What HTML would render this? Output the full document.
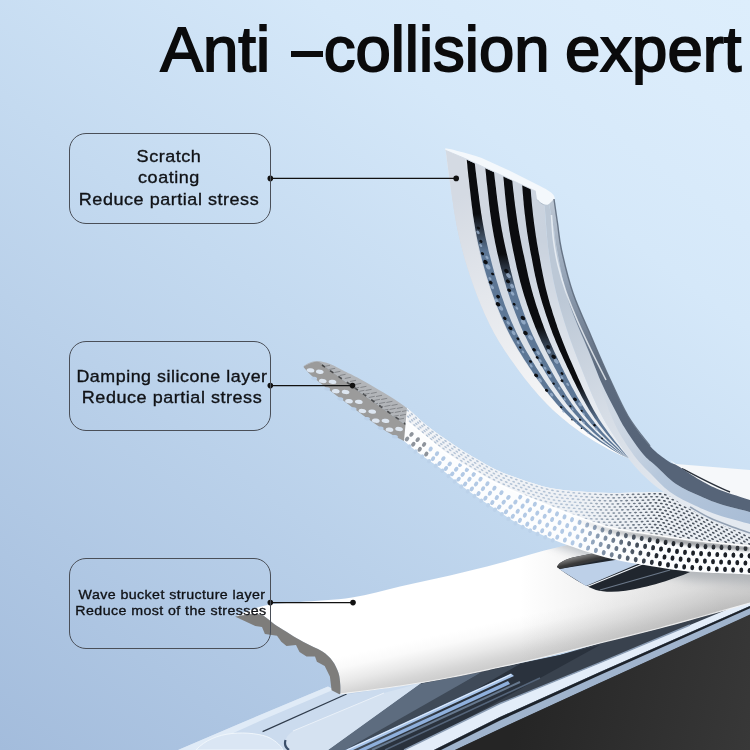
<!DOCTYPE html>
<html><head><meta charset="utf-8">
<style>
html,body{margin:0;padding:0;width:750px;height:750px;overflow:hidden;background:#c4d9f0;}
body{font-family:"Liberation Sans",sans-serif;color:#111;position:relative;}
#art{position:absolute;left:0;top:0;width:750px;height:750px;}
.title{position:absolute;top:-0.8px;font-size:63.5px;line-height:100px;white-space:nowrap;color:#0b0b0c;-webkit-text-stroke:1.8px #0b0b0c;}
.box{position:absolute;left:69px;width:200px;border:1px solid #4a4f58;border-radius:17px;box-sizing:content-box;}
.lbl{position:absolute;text-align:center;white-space:nowrap;color:#101216;-webkit-text-stroke:0.35px #101216;}
</style></head>
<body>
<svg id="art" width="750" height="750" viewBox="0 0 750 750">
<defs>
<linearGradient id="bg" gradientUnits="userSpaceOnUse" x1="0" y1="750" x2="630" y2="-90">
<stop offset="0" stop-color="#a3bcdc"/>
<stop offset="0.5" stop-color="#c4daf0"/>
<stop offset="0.75" stop-color="#d5e8f9"/>
<stop offset="0.9" stop-color="#dbecfb"/>
<stop offset="1" stop-color="#ddeefc"/>
</linearGradient>
<!--DEFS-->
<linearGradient id="blk" gradientUnits="userSpaceOnUse" x1="520" y1="700" x2="750" y2="750"><stop offset="0" stop-color="#252525"/><stop offset="1" stop-color="#383838"/></linearGradient>
<linearGradient id="slabg" gradientUnits="userSpaceOnUse" x1="490.2" y1="623" x2="500" y2="667"><stop offset="0" stop-color="#ffffff"/><stop offset="0.25" stop-color="#fafafa"/><stop offset="0.55" stop-color="#e9e9e9"/><stop offset="0.8" stop-color="#d6d6d6"/><stop offset="1" stop-color="#cbcbcb"/></linearGradient>
<clipPath id="slabclip"><path d="M235.4,616.5C238.2,615.3 246.2,611.5 252,609.5C257.8,607.5 262,605.8 270,604.5C278,603.2 286.3,603.2 300,602C313.7,600.8 335.3,600.1 352,597.5C368.7,594.9 383.7,590.2 400,586.5C416.3,582.8 433.3,579.4 450,575.5C466.7,571.6 482.2,567.7 500,563C517.8,558.3 537,552 557,547.5C577,543 597.8,537.2 620,536C642.2,534.8 668.3,537.3 690,540C711.7,542.7 740,550 750,552L750,603L750,603C741.7,605.3 715,612.8 700,617C685,621.2 676.7,623.7 660,628C643.3,632.3 620,638 600,643C580,648 556.7,654 540,658C523.3,662 515,663.8 500,667C485,670.2 466.7,674.3 450,677.5C433.3,680.7 418.3,683.2 400,686C381.7,688.8 350,692.7 340,694L340,694L340.3,693.8C340.3,692.3 340.6,688.5 340.3,685C340,681.5 339.8,677 338.5,673C337.2,669 335.2,664.5 332.5,660.9C329.8,657.3 326.9,654.5 322,651.3C317.1,648.1 310.5,646 303,641.8C295.5,637.6 284.2,630.5 277,626C269.8,621.5 266.6,616.1 259.7,614.5C252.8,612.9 239.4,616.2 235.4,616.5Z"/></clipPath>
<filter id="b5" x="-20%" y="-50%" width="140%" height="200%"><feGaussianBlur stdDeviation="5"/></filter>
<linearGradient id="slabr" gradientUnits="userSpaceOnUse" x1="520" y1="0" x2="720" y2="0"><stop offset="0" stop-color="#8f8f8f" stop-opacity="0"/><stop offset="1" stop-color="#8f8f8f" stop-opacity="0.33"/></linearGradient>
<linearGradient id="slabg2" gradientUnits="userSpaceOnUse" x1="330" y1="650" x2="345" y2="694"><stop offset="0" stop-color="#ffffff" stop-opacity="0"/><stop offset="1" stop-color="#cfcfcf" stop-opacity="0.9"/></linearGradient>
<linearGradient id="slotsh" gradientUnits="userSpaceOnUse" x1="575" y1="555" x2="578" y2="568"><stop offset="0" stop-color="#9a9a9a"/><stop offset="0.6" stop-color="#3a3a3a"/><stop offset="1" stop-color="#2a2f36"/></linearGradient>
<clipPath id="m1top"><path d="M303.7,366C304.8,365.4 307.7,363.3 310,362.5C312.3,361.7 314.2,360.8 317.5,361C320.8,361.2 325.4,362.2 330,364C334.6,365.8 340,369 345,371.5C350,374 352.5,374.8 360,379C367.5,383.2 382.2,391.7 390,396.5C397.8,401.3 404.2,406.1 407,408L407.7,426.3L407.7,426.3C403.1,423 389.6,413.4 380,406.5C370.4,399.6 358.3,391 350,385C341.7,379 335.4,374.2 330,370.3C324.6,366.4 321.9,362.1 317.5,361.5C313.1,360.9 306,365.6 303.7,366.4Z"/></clipPath>
<linearGradient id="meshtop" gradientUnits="userSpaceOnUse" x1="420" y1="0" x2="750" y2="0"><stop offset="0" stop-color="#f2f4f7"/><stop offset="0.5" stop-color="#eef1f5"/><stop offset="1" stop-color="#e9edf2"/></linearGradient>
<linearGradient id="dkm" gradientUnits="userSpaceOnUse" x1="575" y1="0" x2="660" y2="0"><stop offset="0" stop-color="#fff" stop-opacity="0"/><stop offset="1" stop-color="#fff" stop-opacity="1"/></linearGradient>
<mask id="dkmask" maskUnits="userSpaceOnUse" x="0" y="0" width="750" height="750"><rect width="750" height="750" fill="url(#dkm)"/></mask>
<filter id="b15" x="-10%" y="-100%" width="120%" height="300%"><feGaussianBlur stdDeviation="1.6"/></filter>
<clipPath id="faceclip"><path d="M440,148L445.3,150L536,191L538,200L547,206L560,215L760,520L400,520Z"/></clipPath>
<linearGradient id="faceg" gradientUnits="userSpaceOnUse" x1="445" y1="170" x2="545" y2="228"><stop offset="0" stop-color="#eef1f5"/><stop offset="0.2" stop-color="#d3d9e2"/><stop offset="0.5" stop-color="#d0d7e1"/><stop offset="1" stop-color="#c9d2de"/></linearGradient>
<linearGradient id="leftg" gradientUnits="userSpaceOnUse" x1="455" y1="200" x2="600" y2="440"><stop offset="0" stop-color="#d4dae3"/><stop offset="0.35" stop-color="#e4e7ec"/><stop offset="0.7" stop-color="#f1f2f4"/><stop offset="1" stop-color="#fdfdfd"/></linearGradient>
<linearGradient id="facew" gradientUnits="userSpaceOnUse" x1="0" y1="240" x2="0" y2="420"><stop offset="0" stop-color="#fff" stop-opacity="0"/><stop offset="1" stop-color="#fff" stop-opacity="0.6"/></linearGradient>
<linearGradient id="st0" gradientUnits="userSpaceOnUse" x1="0" y1="214" x2="0" y2="252"><stop offset="0" stop-color="#0b0c0f"/><stop offset="1" stop-color="#5d7796"/></linearGradient>
<linearGradient id="st1" gradientUnits="userSpaceOnUse" x1="0" y1="254" x2="0" y2="292"><stop offset="0" stop-color="#0b0c0f"/><stop offset="1" stop-color="#5d7796"/></linearGradient>
<linearGradient id="st2" gradientUnits="userSpaceOnUse" x1="0" y1="327" x2="0" y2="365"><stop offset="0" stop-color="#0b0c0f"/><stop offset="1" stop-color="#5d7796"/></linearGradient>
<linearGradient id="st3" gradientUnits="userSpaceOnUse" x1="0" y1="384" x2="0" y2="422"><stop offset="0" stop-color="#0b0c0f"/><stop offset="1" stop-color="#5d7796"/></linearGradient>
<linearGradient id="silv" gradientUnits="userSpaceOnUse" x1="560" y1="300" x2="700" y2="500"><stop offset="0" stop-color="#bcc8d6"/><stop offset="0.5" stop-color="#d6dde6"/><stop offset="1" stop-color="#e4e9f0"/></linearGradient>
<linearGradient id="sub" gradientUnits="userSpaceOnUse" x1="600" y1="390" x2="750" y2="520"><stop offset="0" stop-color="#c9d4e1" stop-opacity="0.2"/><stop offset="0.5" stop-color="#b7c8dc"/><stop offset="1" stop-color="#a9bdd6"/></linearGradient>
<linearGradient id="drk" gradientUnits="userSpaceOnUse" x1="555" y1="200" x2="650" y2="440"><stop offset="0" stop-color="#bcc7d4"/><stop offset="0.3" stop-color="#94a3b6"/><stop offset="0.65" stop-color="#5f6d80"/><stop offset="1" stop-color="#566478"/></linearGradient>
<!--/DEFS-->
</defs>
<rect width="750" height="750" fill="url(#bg)"/>
<!--ART-->
<g id="phone">
<path d="M326,750L421,683L560,655L750,598L750,750Z" fill="#39424e"/>
<path d="M328,750L419,684L482,672L352,750Z" fill="#5d6c7f"/>
<path d="M345,750L482,672L520,664L372,750Z" fill="#3f4a58"/>
<path d="M372,750L520,664L560,655L600,645L410,750Z" fill="#2a323d"/>
<path d="M178,750L240,723.5L328,686.5L342,695L421,683L328,750Z" fill="#cbdbee"/>
<path d="M178,750L240,723.5L328,686.5L334,689.5L262,720L196,750Z" fill="#e0ebf7"/>
<path d="M262.6,731.6L346.6,694" stroke="#2f3b4b" stroke-width="1.2" fill="none"/>
<path d="M196,750C205,740 218,735 232,733.5C246,732 262,734 270,738C277,742 281,746 283,750Z" fill="#dae6f4" stroke="#f2f7fc" stroke-width="0.9"/>
<path d="M287,750C284,742 285,736 293,731L384,693L421,683L328,750Z" fill="#d5e2f1"/>
<path d="M293,731L384,693" stroke="#eaf1f9" stroke-width="1" fill="none"/>
<path d="M285.5,740C284,745 286,748 289,750" stroke="#3b4f6b" stroke-width="2.2" fill="none"/>
<path d="M345,750L511,673.5L514,676L353,750Z" fill="#a9c6ec"/>
<path d="M347,750L511,674.5" stroke="#e4eefb" stroke-width="1" fill="none"/>
<path d="M358,750L508,681L510,684L366,750Z" fill="#8fb0dd"/>
<path d="M372,750L520,682" stroke="#66788e" stroke-width="2" fill="none"/>
<path d="M385,750L540,678" stroke="#55657a" stroke-width="1.5" fill="none"/>
<path d="M404,750L500,703.5L600,662.7L690,625L750,600L750,606L600,672L500,717L434,750Z" fill="#e3edf9"/>
<path d="M404,750L500,703.5L600,662.7L690,625" stroke="#8a9cb3" stroke-width="1.4" fill="none"/>
<path d="M434,750L500,717L600,672L750,606L750,615L600,683L500,729L455,750Z" fill="#a0b4cd"/>
<path d="M434,750L500,717L600,672L750,606L750,608.3L600,675L500,720.5L441,750Z" fill="#1d232b"/>
<path d="M455,750L500,728.7L600,682.7L750,614.6L750,750Z" fill="url(#blk)"/>
</g>
<g id="slab">
<path d="M235.4,616.5C238.2,615.3 246.2,611.5 252,609.5C257.8,607.5 262,605.8 270,604.5C278,603.2 286.3,603.2 300,602C313.7,600.8 335.3,600.1 352,597.5C368.7,594.9 383.7,590.2 400,586.5C416.3,582.8 433.3,579.4 450,575.5C466.7,571.6 482.2,567.7 500,563C517.8,558.3 537,552 557,547.5C577,543 597.8,537.2 620,536C642.2,534.8 668.3,537.3 690,540C711.7,542.7 740,550 750,552L750,603L750,603C741.7,605.3 715,612.8 700,617C685,621.2 676.7,623.7 660,628C643.3,632.3 620,638 600,643C580,648 556.7,654 540,658C523.3,662 515,663.8 500,667C485,670.2 466.7,674.3 450,677.5C433.3,680.7 418.3,683.2 400,686C381.7,688.8 350,692.7 340,694L340,694L340.3,693.8C340.3,692.3 340.6,688.5 340.3,685C340,681.5 339.8,677 338.5,673C337.2,669 335.2,664.5 332.5,660.9C329.8,657.3 326.9,654.5 322,651.3C317.1,648.1 310.5,646 303,641.8C295.5,637.6 284.2,630.5 277,626C269.8,621.5 266.6,616.1 259.7,614.5C252.8,612.9 239.4,616.2 235.4,616.5Z" fill="url(#slabg)"/>
<g clip-path="url(#slabclip)"><path d="M500,520L560,548L620,566L690,580L760,584L760,520Z" fill="#7b8794" opacity="0.45" filter="url(#b5)"/></g>
<path d="M235.4,616.5C238.2,615.3 246.2,611.5 252,609.5C257.8,607.5 262,605.8 270,604.5C278,603.2 286.3,603.2 300,602C313.7,600.8 335.3,600.1 352,597.5C368.7,594.9 383.7,590.2 400,586.5C416.3,582.8 433.3,579.4 450,575.5C466.7,571.6 482.2,567.7 500,563C517.8,558.3 537,552 557,547.5C577,543 597.8,537.2 620,536C642.2,534.8 668.3,537.3 690,540C711.7,542.7 740,550 750,552L750,603L750,603C741.7,605.3 715,612.8 700,617C685,621.2 676.7,623.7 660,628C643.3,632.3 620,638 600,643C580,648 556.7,654 540,658C523.3,662 515,663.8 500,667C485,670.2 466.7,674.3 450,677.5C433.3,680.7 418.3,683.2 400,686C381.7,688.8 350,692.7 340,694L340,694L340.3,693.8C340.3,692.3 340.6,688.5 340.3,685C340,681.5 339.8,677 338.5,673C337.2,669 335.2,664.5 332.5,660.9C329.8,657.3 326.9,654.5 322,651.3C317.1,648.1 310.5,646 303,641.8C295.5,637.6 284.2,630.5 277,626C269.8,621.5 266.6,616.1 259.7,614.5C252.8,612.9 239.4,616.2 235.4,616.5Z" fill="url(#slabr)"/>
<path d="M340,694C350,692.7 381.7,688.8 400,686C418.3,683.2 433.3,680.7 450,677.5C466.7,674.3 485,670.2 500,667C515,663.8 523.3,662 540,658C556.7,654 580,648 600,643C620,638 643.3,632.3 660,628C676.7,623.7 685,621.2 700,617C715,612.8 741.7,605.3 750,603" stroke="#f4f4f4" stroke-width="1.2" fill="none" opacity="0.9"/>
<path d="M235.4,616.7L255.3,626L262,627L264.9,634L277,635.7L281.3,641.8L286.5,646L296,645L299.5,652L306.5,656.5L315,656.5L316.9,661.7L324.7,666L329.9,676.5L331.6,690.3L339.4,694.2L340.3,693.8C340.3,692.3 340.6,688.5 340.3,685C340,681.5 339.8,677 338.5,673C337.2,669 335.2,664.5 332.5,660.9C329.8,657.3 326.9,654.5 322,651.3C317.1,648.1 310.5,646 303,641.8C295.5,637.6 284.2,630.5 277,626C269.8,621.5 266.6,616.1 259.7,614.5C252.8,612.9 239.4,616.2 235.4,616.5Z" fill="#7e7d7b"/>
<path d="M557,567C559,562 566,559 575,557L600,552L690,572C672,580 650,586 640,588C625,592 606,593 596,590C585,586 570,577 557,567Z" fill="#20262e"/>
<path d="M559,569L640,556L640,563L586,586Z" fill="#bdd0e8"/>
<path d="M586,587L645,563" stroke="#f2f6fb" stroke-width="1.3" fill="none"/>
<path d="M600,590L670,570" stroke="#6b7888" stroke-width="1.2" fill="none"/>
<path d="M557,567C559,562 566,559 575,557L620,548L620,556L560,569Z" fill="url(#slotsh)"/>
</g>
<g id="mesh">
<path d="M303.7,366C304.8,365.4 307.7,363.3 310,362.5C312.3,361.7 314.2,360.8 317.5,361C320.8,361.2 325.4,362.2 330,364C334.6,365.8 340,369 345,371.5C350,374 352.5,374.8 360,379C367.5,383.2 382.2,391.7 390,396.5C397.8,401.3 404.2,406.1 407,408L407.7,426.3L407.7,426.3C403.1,423 389.6,413.4 380,406.5C370.4,399.6 358.3,391 350,385C341.7,379 335.4,374.2 330,370.3C324.6,366.4 321.9,362.1 317.5,361.5C313.1,360.9 306,365.6 303.7,366.4Z" fill="#b2b5b9"/>
<path d="M303.7,366.4C306,365.6 313.1,360.9 317.5,361.5C321.9,362.1 324.6,366.4 330,370.3C335.4,374.2 341.7,379 350,385C358.3,391 370.4,399.6 380,406.5C389.6,413.4 403.1,423 407.7,426.3L404,441L404,441C400.8,439.2 392.3,435.2 385,430.5C377.7,425.8 369.2,419.7 360,413C350.8,406.3 338,396.7 330,390.5C322,384.3 316.4,379.9 312,376C307.6,372.1 305.1,368.8 303.7,367.3Z" fill="#9b9b9b"/>
<path d="M322,365C326.7,368.2 340.3,377.7 350,384.5C359.7,391.3 370.7,399.3 380,406C389.3,412.7 401.7,421.4 406,424.5" stroke="#2e2f31" stroke-width="1.6" stroke-dasharray="4 6" fill="none" opacity="0.8"/>
<path d="M324,366.5l6,-1.2M329.2,369.5l6,-1.2M334.4,372.5l6,-1.2M339.6,375.5l6,-1.2M344.8,378.5l6,-1.2M350,381.5l6,-1.2M355.2,384.5l6,-1.2M353.2,388.5l6,-1.2M360.4,387.5l6,-1.2M358.4,391.5l6,-1.2M365.6,390.5l6,-1.2M363.6,394.5l6,-1.2M370.8,393.5l6,-1.2M368.8,397.5l6,-1.2M376,396.5l6,-1.2M374,400.5l6,-1.2M372,404.5l6,-1.2M381.2,399.5l6,-1.2M379.2,403.5l6,-1.2M377.2,407.5l6,-1.2M386.4,402.5l6,-1.2M384.4,406.5l6,-1.2M382.4,410.5l6,-1.2M391.6,405.5l6,-1.2M389.6,409.5l6,-1.2M387.6,413.5l6,-1.2M396.8,408.5l6,-1.2M394.8,412.5l6,-1.2M392.8,416.5l6,-1.2M402,411.5l6,-1.2M400,415.5l6,-1.2M398,419.5l6,-1.2" stroke="#707377" stroke-width="1" fill="none" opacity="0.7" clip-path="url(#m1top)"/>
<g fill="#dde6f1"><ellipse cx="310.5" cy="370.4" rx="3.9" ry="2.1" transform="rotate(8 310.5 370.4)"/><ellipse cx="319.8" cy="371.8" rx="3.9" ry="2.1" transform="rotate(8 319.8 371.8)"/><ellipse cx="322.8" cy="381" rx="3.9" ry="2.1" transform="rotate(8 322.8 381)"/><ellipse cx="332.5" cy="381.9" rx="3.9" ry="2.1" transform="rotate(8 332.5 381.9)"/><ellipse cx="335.8" cy="391.2" rx="3.9" ry="2.1" transform="rotate(8 335.8 391.2)"/><ellipse cx="345.6" cy="392" rx="3.9" ry="2.1" transform="rotate(8 345.6 392)"/><ellipse cx="349" cy="401.2" rx="3.9" ry="2.1" transform="rotate(8 349 401.2)"/><ellipse cx="358.8" cy="401.9" rx="3.9" ry="2.1" transform="rotate(8 358.8 401.9)"/><ellipse cx="362.4" cy="411" rx="3.9" ry="2.1" transform="rotate(8 362.4 411)"/><ellipse cx="372.2" cy="411.6" rx="3.9" ry="2.1" transform="rotate(8 372.2 411.6)"/><ellipse cx="375.8" cy="420.7" rx="3.9" ry="2.1" transform="rotate(8 375.8 420.7)"/><ellipse cx="385.5" cy="420.9" rx="3.9" ry="2.1" transform="rotate(8 385.5 420.9)"/><ellipse cx="389.5" cy="429.7" rx="3.9" ry="2.1" transform="rotate(8 389.5 429.7)"/><ellipse cx="399.1" cy="429" rx="3.9" ry="2.1" transform="rotate(8 399.1 429)"/></g>
<g fill="#bad0e9"><ellipse cx="314.1" cy="378.5" rx="3" ry="1.7" transform="rotate(8 314.1 378.5)"/><ellipse cx="327.1" cy="388.9" rx="3" ry="1.7" transform="rotate(8 327.1 388.9)"/><ellipse cx="340.3" cy="399" rx="3" ry="1.7" transform="rotate(8 340.3 399)"/><ellipse cx="353.6" cy="408.9" rx="3" ry="1.7" transform="rotate(8 353.6 408.9)"/><ellipse cx="367" cy="418.7" rx="3" ry="1.7" transform="rotate(8 367 418.7)"/><ellipse cx="380.6" cy="428.2" rx="3" ry="1.7" transform="rotate(8 380.6 428.2)"/><ellipse cx="394.9" cy="436.8" rx="3" ry="1.7" transform="rotate(8 394.9 436.8)"/></g>
<path d="M407,408C410.8,411.3 421.7,421.6 430,428C438.3,434.4 449.2,441.7 456.7,446.7C464.2,451.7 468.3,454.1 475,458C481.7,461.9 489.2,466.5 496.7,470C504.2,473.5 511.1,476 520,479C528.9,482 540,485.9 550,488C560,490.1 570,490.7 580,491.5C590,492.3 600,492.8 610,493C620,493.2 630.7,492.5 640,492.5C649.3,492.5 656,490.9 666,493C676,495.1 686,498.8 700,505C714,511.2 741.7,525.8 750,530L750,574L750,574.5C740,574 706.7,572.9 690,571.5C673.3,570.1 663.3,568.2 650,566C636.7,563.8 623.3,561.8 610,558.5C596.7,555.2 581.7,550.1 570,546C558.3,541.9 548.9,537.8 540,534C531.1,530.2 523.9,527 516.7,523C509.5,519 503.7,514.4 497,510C490.3,505.6 483.2,501.2 476.7,496.7C470.2,492.2 464.1,487.8 458,483C451.9,478.2 446.3,472.8 440,468C433.7,463.2 426,458.5 420,454C414,449.5 406.7,443.2 404,441Z" fill="#fcfdfe"/>
<path d="M407,408C410.8,411.3 421.7,421.6 430,428C438.3,434.4 449.2,441.7 456.7,446.7C464.2,451.7 468.3,454.1 475,458C481.7,461.9 489.2,466.5 496.7,470C504.2,473.5 511.1,476 520,479C528.9,482 540,485.9 550,488C560,490.1 570,490.7 580,491.5C590,492.3 600,492.8 610,493C620,493.2 630.7,492.5 640,492.5C649.3,492.5 656,490.9 666,493C676,495.1 686,498.8 700,505C714,511.2 741.7,525.8 750,530L750,548L750,546C740,545 706.7,542 690,540C673.3,538 663.3,536.1 650,534C636.7,531.9 623.3,530.8 610,527.5C596.7,524.2 583.3,518.9 570,514C556.7,509.1 543.3,503.7 530,498C516.7,492.3 503.3,487 490,480C476.7,473 460,462.7 450,456C440,449.3 437.1,445.7 430,440C422.9,434.3 411.2,425 407.5,422Z" fill="url(#meshtop)"/>
<g fill="#8d939b"><ellipse cx="407" cy="439" rx="1.9" ry="2.6" transform="rotate(39.9 407 439)"/><ellipse cx="411.5" cy="434.4" rx="1.9" ry="2.6" transform="rotate(39.9 411.5 434.4)"/><ellipse cx="413.3" cy="444.2" rx="1.9" ry="2.6" transform="rotate(39.4 413.3 444.2)"/><ellipse cx="417.7" cy="439.6" rx="1.9" ry="2.6" transform="rotate(38.5 417.7 439.6)"/><ellipse cx="419.7" cy="449.3" rx="1.9" ry="2.6" transform="rotate(37 419.7 449.3)"/><ellipse cx="424.1" cy="444.5" rx="1.9" ry="2.6" transform="rotate(35.8 424.1 444.5)"/><ellipse cx="426.3" cy="454.1" rx="1.9" ry="2.6" transform="rotate(34.4 426.3 454.1)"/></g>
<g fill="#b2c9e5"><ellipse cx="430.6" cy="449.1" rx="1.9" ry="2.6" transform="rotate(34 430.6 449.1)"/><ellipse cx="433" cy="458.7" rx="1.9" ry="2.6" transform="rotate(34.2 433 458.7)"/><ellipse cx="437" cy="453.7" rx="1.9" ry="2.6" transform="rotate(35.1 437 453.7)"/><ellipse cx="439.5" cy="463.4" rx="1.9" ry="2.6" transform="rotate(37 439.5 463.4)"/><ellipse cx="443.3" cy="458.6" rx="1.9" ry="2.6" transform="rotate(39.2 443.3 458.6)"/><ellipse cx="445.9" cy="468.5" rx="1.9" ry="2.6" transform="rotate(40 445.9 468.5)"/><ellipse cx="449.7" cy="463.9" rx="1.9" ry="2.6" transform="rotate(40.8 449.7 463.9)"/><ellipse cx="452.2" cy="473.9" rx="1.9" ry="2.6" transform="rotate(40.6 452.2 473.9)"/><ellipse cx="456.2" cy="469.3" rx="1.9" ry="2.6" transform="rotate(40 456.2 469.3)"/><ellipse cx="458.6" cy="479.1" rx="1.9" ry="2.6" transform="rotate(38.2 458.6 479.1)"/><ellipse cx="462.7" cy="474.4" rx="1.9" ry="2.6" transform="rotate(37.3 462.7 474.4)"/><ellipse cx="460.3" cy="464.6" rx="1.9" ry="2.6" transform="rotate(38.2 460.3 464.6)"/><ellipse cx="465.1" cy="484.1" rx="1.9" ry="2.6" transform="rotate(36.5 465.1 484.1)"/><ellipse cx="469.4" cy="479.3" rx="1.9" ry="2.6" transform="rotate(36.1 469.4 479.3)"/><ellipse cx="467" cy="469.6" rx="1.9" ry="2.6" transform="rotate(36.5 467 469.6)"/><ellipse cx="471.8" cy="488.9" rx="1.9" ry="2.6" transform="rotate(35.5 471.8 488.9)"/><ellipse cx="476.1" cy="484" rx="1.9" ry="2.6" transform="rotate(34.9 476.1 484)"/><ellipse cx="473.7" cy="474.4" rx="1.9" ry="2.6" transform="rotate(35.5 473.7 474.4)"/><ellipse cx="478.5" cy="493.6" rx="1.9" ry="2.6" transform="rotate(34.5 478.5 493.6)"/><ellipse cx="483" cy="488.7" rx="1.9" ry="2.6" transform="rotate(33.6 483 488.7)"/><ellipse cx="480.5" cy="479.2" rx="1.9" ry="2.6" transform="rotate(34.5 480.5 479.2)"/><ellipse cx="485.4" cy="498.2" rx="1.9" ry="2.6" transform="rotate(33 485.4 498.2)"/><ellipse cx="489.9" cy="493.2" rx="1.9" ry="2.6" transform="rotate(32.8 489.9 493.2)"/><ellipse cx="487.4" cy="483.7" rx="1.9" ry="2.6" transform="rotate(33 487.4 483.7)"/><ellipse cx="492.3" cy="502.6" rx="1.9" ry="2.6" transform="rotate(32.8 492.3 502.6)"/><ellipse cx="496.8" cy="497.6" rx="1.9" ry="2.6" transform="rotate(33.1 496.8 497.6)"/><ellipse cx="494.4" cy="488.2" rx="1.9" ry="2.6" transform="rotate(32.8 494.4 488.2)"/><ellipse cx="499.2" cy="507.1" rx="1.9" ry="2.6" transform="rotate(34.2 499.2 507.1)"/><ellipse cx="503.7" cy="502.2" rx="1.9" ry="2.6" transform="rotate(34.7 503.7 502.2)"/><ellipse cx="501.4" cy="492.7" rx="1.9" ry="2.6" transform="rotate(34.2 501.4 492.7)"/><ellipse cx="506" cy="511.8" rx="1.9" ry="2.6" transform="rotate(34.8 506 511.8)"/><ellipse cx="510.6" cy="506.9" rx="1.9" ry="2.6" transform="rotate(33.8 510.6 506.9)"/><ellipse cx="508.4" cy="497.4" rx="1.9" ry="2.6" transform="rotate(34.8 508.4 497.4)"/><ellipse cx="512.8" cy="516.3" rx="1.9" ry="2.6" transform="rotate(31.7 512.8 516.3)"/><ellipse cx="517.7" cy="511.3" rx="1.9" ry="2.6" transform="rotate(30.3 517.7 511.3)"/><ellipse cx="515.4" cy="502" rx="1.9" ry="2.6" transform="rotate(31.7 515.4 502)"/><ellipse cx="520.3" cy="496.9" rx="1.9" ry="2.6" transform="rotate(30.3 520.3 496.9)"/><ellipse cx="519.9" cy="520.4" rx="1.9" ry="2.6" transform="rotate(27.9 519.9 520.4)"/><ellipse cx="524.9" cy="515.1" rx="1.9" ry="2.6" transform="rotate(26.2 524.9 515.1)"/><ellipse cx="522.6" cy="506.1" rx="1.9" ry="2.6" transform="rotate(27.9 522.6 506.1)"/><ellipse cx="527.5" cy="500.8" rx="1.9" ry="2.6" transform="rotate(26.2 527.5 500.8)"/><ellipse cx="527.3" cy="524.1" rx="1.9" ry="2.6" transform="rotate(25.5 527.3 524.1)"/><ellipse cx="532.3" cy="518.6" rx="1.9" ry="2.6" transform="rotate(24.3 532.3 518.6)"/><ellipse cx="529.9" cy="509.7" rx="1.9" ry="2.6" transform="rotate(25.5 529.9 509.7)"/><ellipse cx="534.8" cy="504.2" rx="1.9" ry="2.6" transform="rotate(24.3 534.8 504.2)"/><ellipse cx="534.7" cy="527.5" rx="1.9" ry="2.6" transform="rotate(23.7 534.7 527.5)"/><ellipse cx="539.7" cy="521.9" rx="1.9" ry="2.6" transform="rotate(23.4 539.7 521.9)"/><ellipse cx="537.3" cy="513.1" rx="1.9" ry="2.6" transform="rotate(23.7 537.3 513.1)"/><ellipse cx="542.2" cy="507.5" rx="1.9" ry="2.6" transform="rotate(23.4 542.2 507.5)"/><ellipse cx="542.2" cy="530.7" rx="1.9" ry="2.6" transform="rotate(23.3 542.2 530.7)"/><ellipse cx="547.2" cy="525.1" rx="1.9" ry="2.6" transform="rotate(23.1 547.2 525.1)"/><ellipse cx="544.7" cy="516.3" rx="1.9" ry="2.6" transform="rotate(23.3 544.7 516.3)"/><ellipse cx="549.6" cy="510.7" rx="1.9" ry="2.6" transform="rotate(23.1 549.6 510.7)"/><ellipse cx="549.7" cy="533.9" rx="1.9" ry="2.6" transform="rotate(22.7 549.7 533.9)"/><ellipse cx="554.7" cy="528.3" rx="1.9" ry="2.6" transform="rotate(22.4 554.7 528.3)"/><ellipse cx="552.1" cy="519.5" rx="1.9" ry="2.6" transform="rotate(22.7 552.1 519.5)"/><ellipse cx="557" cy="513.9" rx="1.9" ry="2.6" transform="rotate(22.4 557 513.9)"/><ellipse cx="557.3" cy="537.1" rx="1.9" ry="2.6" transform="rotate(21.8 557.3 537.1)"/><ellipse cx="562.2" cy="531.3" rx="1.9" ry="2.6" transform="rotate(21 562.2 531.3)"/><ellipse cx="559.6" cy="522.6" rx="1.9" ry="2.6" transform="rotate(21.8 559.6 522.6)"/><ellipse cx="564.5" cy="516.9" rx="1.9" ry="2.6" transform="rotate(21 564.5 516.9)"/><ellipse cx="564.9" cy="540" rx="1.9" ry="2.6" transform="rotate(20.2 564.9 540)"/><ellipse cx="569.9" cy="534.2" rx="1.9" ry="2.6" transform="rotate(19.7 569.9 534.2)"/><ellipse cx="567.2" cy="525.6" rx="1.9" ry="2.6" transform="rotate(20.2 567.2 525.6)"/><ellipse cx="572" cy="519.7" rx="1.9" ry="2.6" transform="rotate(19.7 572 519.7)"/><ellipse cx="572.6" cy="542.8" rx="1.9" ry="2.6" transform="rotate(19.2 572.6 542.8)"/><ellipse cx="577.5" cy="536.9" rx="1.9" ry="2.6" transform="rotate(18.9 577.5 536.9)"/><ellipse cx="574.8" cy="528.3" rx="1.9" ry="2.6" transform="rotate(19.2 574.8 528.3)"/><ellipse cx="579.6" cy="522.4" rx="1.9" ry="2.6" transform="rotate(18.9 579.6 522.4)"/><ellipse cx="580.4" cy="545.4" rx="1.9" ry="2.6" transform="rotate(18.7 580.4 545.4)"/><ellipse cx="585.2" cy="539.5" rx="1.9" ry="2.6" transform="rotate(18.3 585.2 539.5)"/><ellipse cx="582.4" cy="531" rx="1.9" ry="2.6" transform="rotate(18.7 582.4 531)"/><ellipse cx="587.2" cy="525" rx="1.9" ry="2.6" transform="rotate(18.3 587.2 525)"/><ellipse cx="588.1" cy="548" rx="1.9" ry="2.6" transform="rotate(17.9 588.1 548)"/><ellipse cx="592.9" cy="542" rx="1.9" ry="2.6" transform="rotate(17.3 592.9 542)"/><ellipse cx="590" cy="533.5" rx="1.9" ry="2.6" transform="rotate(17.9 590 533.5)"/><ellipse cx="594.8" cy="527.5" rx="1.9" ry="2.6" transform="rotate(17.3 594.8 527.5)"/><ellipse cx="595.9" cy="550.4" rx="1.9" ry="2.6" transform="rotate(17 595.9 550.4)"/><ellipse cx="600.7" cy="544.4" rx="1.9" ry="2.6" transform="rotate(16.3 600.7 544.4)"/><ellipse cx="597.7" cy="536" rx="1.9" ry="2.6" transform="rotate(17 597.7 536)"/><ellipse cx="602.5" cy="529.9" rx="1.9" ry="2.6" transform="rotate(16.3 602.5 529.9)"/><ellipse cx="603.7" cy="552.7" rx="1.9" ry="2.6" transform="rotate(15.4 603.7 552.7)"/><ellipse cx="608.5" cy="546.6" rx="1.9" ry="2.6" transform="rotate(14.9 608.5 546.6)"/><ellipse cx="605.5" cy="538.2" rx="1.9" ry="2.6" transform="rotate(15.4 605.5 538.2)"/><ellipse cx="610.2" cy="532.1" rx="1.9" ry="2.6" transform="rotate(14.9 610.2 532.1)"/><ellipse cx="611.7" cy="554.8" rx="1.9" ry="2.6" transform="rotate(13.7 611.7 554.8)"/><ellipse cx="616.4" cy="548.5" rx="1.9" ry="2.6" transform="rotate(12.6 616.4 548.5)"/><ellipse cx="613.3" cy="540.3" rx="1.9" ry="2.6" transform="rotate(13.7 613.3 540.3)"/><ellipse cx="618" cy="534" rx="1.9" ry="2.6" transform="rotate(12.6 618 534)"/><ellipse cx="619.6" cy="556.6" rx="1.9" ry="2.6" transform="rotate(12.1 619.6 556.6)"/><ellipse cx="624.4" cy="550.2" rx="1.9" ry="2.6" transform="rotate(11.2 624.4 550.2)"/><ellipse cx="621.2" cy="542.1" rx="1.9" ry="2.6" transform="rotate(12.1 621.2 542.1)"/><ellipse cx="625.9" cy="535.7" rx="1.9" ry="2.6" transform="rotate(11.2 625.9 535.7)"/><ellipse cx="627.7" cy="558.2" rx="1.9" ry="2.6" transform="rotate(10.4 627.7 558.2)"/><ellipse cx="632.4" cy="551.7" rx="1.9" ry="2.6" transform="rotate(9.9 632.4 551.7)"/><ellipse cx="629.1" cy="543.7" rx="1.9" ry="2.6" transform="rotate(10.4 629.1 543.7)"/><ellipse cx="633.8" cy="537.1" rx="1.9" ry="2.6" transform="rotate(9.9 633.8 537.1)"/><ellipse cx="635.7" cy="559.6" rx="1.9" ry="2.6" transform="rotate(9.6 635.7 559.6)"/><ellipse cx="640.4" cy="553" rx="1.9" ry="2.6" transform="rotate(9.3 640.4 553)"/><ellipse cx="637.1" cy="545.1" rx="1.9" ry="2.6" transform="rotate(9.6 637.1 545.1)"/><ellipse cx="641.7" cy="538.5" rx="1.9" ry="2.6" transform="rotate(9.3 641.7 538.5)"/><ellipse cx="643.8" cy="561" rx="1.9" ry="2.6" transform="rotate(9.2 643.8 561)"/><ellipse cx="648.4" cy="554.3" rx="1.9" ry="2.6" transform="rotate(9.2 648.4 554.3)"/><ellipse cx="645.1" cy="546.4" rx="1.9" ry="2.6" transform="rotate(9.2 645.1 546.4)"/><ellipse cx="649.7" cy="539.8" rx="1.9" ry="2.6" transform="rotate(9.2 649.7 539.8)"/><ellipse cx="651.8" cy="562.3" rx="1.9" ry="2.6" transform="rotate(9.3 651.8 562.3)"/><ellipse cx="656.5" cy="555.7" rx="1.9" ry="2.6" transform="rotate(9.4 656.5 555.7)"/><ellipse cx="653.1" cy="547.7" rx="1.9" ry="2.6" transform="rotate(9.3 653.1 547.7)"/><ellipse cx="657.6" cy="541.1" rx="1.9" ry="2.6" transform="rotate(9.4 657.6 541.1)"/><ellipse cx="659.9" cy="563.6" rx="1.9" ry="2.6" transform="rotate(9.3 659.9 563.6)"/><ellipse cx="664.5" cy="557" rx="1.9" ry="2.6" transform="rotate(9.1 664.5 557)"/><ellipse cx="661" cy="549" rx="1.9" ry="2.6" transform="rotate(9.3 661 549)"/><ellipse cx="665.6" cy="542.4" rx="1.9" ry="2.6" transform="rotate(9.1 665.6 542.4)"/><ellipse cx="668" cy="564.9" rx="1.9" ry="2.6" transform="rotate(8.6 668 564.9)"/><ellipse cx="672.5" cy="558.2" rx="1.9" ry="2.6" transform="rotate(7.8 672.5 558.2)"/><ellipse cx="669" cy="550.3" rx="1.9" ry="2.6" transform="rotate(8.6 669 550.3)"/><ellipse cx="673.5" cy="543.6" rx="1.9" ry="2.6" transform="rotate(7.8 673.5 543.6)"/><ellipse cx="676.1" cy="566" rx="1.9" ry="2.6" transform="rotate(7.4 676.1 566)"/><ellipse cx="680.6" cy="559.2" rx="1.9" ry="2.6" transform="rotate(6.6 680.6 559.2)"/><ellipse cx="677" cy="551.4" rx="1.9" ry="2.6" transform="rotate(7.4 677 551.4)"/><ellipse cx="681.5" cy="544.6" rx="1.9" ry="2.6" transform="rotate(6.6 681.5 544.6)"/><ellipse cx="684.2" cy="566.9" rx="1.9" ry="2.6" transform="rotate(5.8 684.2 566.9)"/><ellipse cx="688.7" cy="560" rx="1.9" ry="2.6" transform="rotate(5 688.7 560)"/><ellipse cx="685" cy="552.4" rx="1.9" ry="2.6" transform="rotate(5.8 685 552.4)"/><ellipse cx="689.5" cy="545.5" rx="1.9" ry="2.6" transform="rotate(5 689.5 545.5)"/><ellipse cx="692.3" cy="567.7" rx="1.9" ry="2.6" transform="rotate(4.6 692.3 567.7)"/><ellipse cx="696.8" cy="560.7" rx="1.9" ry="2.6" transform="rotate(3.8 696.8 560.7)"/><ellipse cx="693.1" cy="553.1" rx="1.9" ry="2.6" transform="rotate(4.6 693.1 553.1)"/><ellipse cx="697.5" cy="546.1" rx="1.9" ry="2.6" transform="rotate(3.8 697.5 546.1)"/><ellipse cx="700.5" cy="568.2" rx="1.9" ry="2.6" transform="rotate(3.4 700.5 568.2)"/><ellipse cx="704.9" cy="561.2" rx="1.9" ry="2.6" transform="rotate(3.2 704.9 561.2)"/><ellipse cx="701.1" cy="553.6" rx="1.9" ry="2.6" transform="rotate(3.4 701.1 553.6)"/><ellipse cx="705.5" cy="546.6" rx="1.9" ry="2.6" transform="rotate(3.2 705.5 546.6)"/><ellipse cx="708.7" cy="568.7" rx="1.9" ry="2.6" transform="rotate(3 708.7 568.7)"/><ellipse cx="713" cy="561.6" rx="1.9" ry="2.6" transform="rotate(2.8 713 561.6)"/><ellipse cx="709.2" cy="554.1" rx="1.9" ry="2.6" transform="rotate(3 709.2 554.1)"/><ellipse cx="713.5" cy="547" rx="1.9" ry="2.6" transform="rotate(2.8 713.5 547)"/><ellipse cx="716.8" cy="569.1" rx="1.9" ry="2.6" transform="rotate(2.6 716.8 569.1)"/><ellipse cx="721.1" cy="562" rx="1.9" ry="2.6" transform="rotate(2.5 721.1 562)"/><ellipse cx="717.3" cy="554.5" rx="1.9" ry="2.6" transform="rotate(2.6 717.3 554.5)"/><ellipse cx="721.5" cy="547.4" rx="1.9" ry="2.6" transform="rotate(2.5 721.5 547.4)"/><ellipse cx="725" cy="569.4" rx="1.9" ry="2.6" transform="rotate(2.5 725 569.4)"/><ellipse cx="729.2" cy="562.3" rx="1.9" ry="2.6" transform="rotate(2.4 729.2 562.3)"/><ellipse cx="725.3" cy="554.9" rx="1.9" ry="2.6" transform="rotate(2.5 725.3 554.9)"/><ellipse cx="729.5" cy="547.7" rx="1.9" ry="2.6" transform="rotate(2.4 729.5 547.7)"/><ellipse cx="733.1" cy="569.8" rx="1.9" ry="2.6" transform="rotate(2.4 733.1 569.8)"/><ellipse cx="737.3" cy="562.7" rx="1.9" ry="2.6" transform="rotate(2.3 737.3 562.7)"/><ellipse cx="733.4" cy="555.2" rx="1.9" ry="2.6" transform="rotate(2.4 733.4 555.2)"/><ellipse cx="737.5" cy="548.1" rx="1.9" ry="2.6" transform="rotate(2.3 737.5 548.1)"/><ellipse cx="741.3" cy="570.1" rx="1.9" ry="2.6" transform="rotate(2.3 741.3 570.1)"/><ellipse cx="745.4" cy="563" rx="1.9" ry="2.6" transform="rotate(2.5 745.4 563)"/><ellipse cx="741.4" cy="555.5" rx="1.9" ry="2.6" transform="rotate(2.3 741.4 555.5)"/><ellipse cx="745.5" cy="548.4" rx="1.9" ry="2.6" transform="rotate(2.5 745.5 548.4)"/><ellipse cx="749.5" cy="570.5" rx="1.9" ry="2.6" transform="rotate(2.7 749.5 570.5)"/><ellipse cx="749.5" cy="555.9" rx="1.9" ry="2.6" transform="rotate(2.7 749.5 555.9)"/></g>
<g fill="#bcd2ea"><ellipse cx="409.3" cy="446.4" rx="1.9" ry="2.3" transform="rotate(39.9 409.3 446.4)"/><ellipse cx="415.6" cy="451.6" rx="1.9" ry="2.3" transform="rotate(38.5 415.6 451.6)"/><ellipse cx="422.2" cy="456.6" rx="1.9" ry="2.3" transform="rotate(35.8 422.2 456.6)"/><ellipse cx="429" cy="461.2" rx="1.9" ry="2.3" transform="rotate(34 429 461.2)"/><ellipse cx="435.8" cy="465.9" rx="1.9" ry="2.3" transform="rotate(35.1 435.8 465.9)"/><ellipse cx="442.3" cy="470.8" rx="1.9" ry="2.3" transform="rotate(39.2 442.3 470.8)"/><ellipse cx="448.6" cy="476.1" rx="1.9" ry="2.3" transform="rotate(40.8 448.6 476.1)"/><ellipse cx="454.8" cy="481.4" rx="1.9" ry="2.3" transform="rotate(40 454.8 481.4)"/><ellipse cx="461.2" cy="486.5" rx="1.9" ry="2.3" transform="rotate(37.3 461.2 486.5)"/><ellipse cx="467.8" cy="491.4" rx="1.9" ry="2.3" transform="rotate(36.1 467.8 491.4)"/><ellipse cx="474.5" cy="496.1" rx="1.9" ry="2.3" transform="rotate(34.9 474.5 496.1)"/><ellipse cx="481.3" cy="500.8" rx="1.9" ry="2.3" transform="rotate(33.6 481.3 500.8)"/><ellipse cx="488.1" cy="505.2" rx="1.9" ry="2.3" transform="rotate(32.8 488.1 505.2)"/><ellipse cx="495" cy="509.7" rx="1.9" ry="2.3" transform="rotate(33.1 495 509.7)"/><ellipse cx="501.8" cy="514.2" rx="1.9" ry="2.3" transform="rotate(34.7 501.8 514.2)"/><ellipse cx="508.5" cy="518.9" rx="1.9" ry="2.3" transform="rotate(33.8 508.5 518.9)"/><ellipse cx="515.5" cy="523.3" rx="1.9" ry="2.3" transform="rotate(30.3 515.5 523.3)"/><ellipse cx="522.7" cy="527.1" rx="1.9" ry="2.3" transform="rotate(26.2 522.7 527.1)"/><ellipse cx="530.1" cy="530.6" rx="1.9" ry="2.3" transform="rotate(24.3 530.1 530.6)"/><ellipse cx="537.6" cy="533.9" rx="1.9" ry="2.3" transform="rotate(23.4 537.6 533.9)"/><ellipse cx="545.2" cy="537.2" rx="1.9" ry="2.3" transform="rotate(23.1 545.2 537.2)"/><ellipse cx="552.7" cy="540.4" rx="1.9" ry="2.3" transform="rotate(22.4 552.7 540.4)"/></g>
<g fill="#1c1f24" mask="url(#dkmask)"><ellipse cx="542.2" cy="507.5" rx="1.9" ry="2.6" transform="rotate(23.4 542.2 507.5)"/><ellipse cx="542.2" cy="530.7" rx="1.9" ry="2.6" transform="rotate(23.3 542.2 530.7)"/><ellipse cx="547.2" cy="525.1" rx="1.9" ry="2.6" transform="rotate(23.1 547.2 525.1)"/><ellipse cx="544.7" cy="516.3" rx="1.9" ry="2.6" transform="rotate(23.3 544.7 516.3)"/><ellipse cx="549.6" cy="510.7" rx="1.9" ry="2.6" transform="rotate(23.1 549.6 510.7)"/><ellipse cx="549.7" cy="533.9" rx="1.9" ry="2.6" transform="rotate(22.7 549.7 533.9)"/><ellipse cx="554.7" cy="528.3" rx="1.9" ry="2.6" transform="rotate(22.4 554.7 528.3)"/><ellipse cx="552.1" cy="519.5" rx="1.9" ry="2.6" transform="rotate(22.7 552.1 519.5)"/><ellipse cx="557" cy="513.9" rx="1.9" ry="2.6" transform="rotate(22.4 557 513.9)"/><ellipse cx="557.3" cy="537.1" rx="1.9" ry="2.6" transform="rotate(21.8 557.3 537.1)"/><ellipse cx="562.2" cy="531.3" rx="1.9" ry="2.6" transform="rotate(21 562.2 531.3)"/><ellipse cx="559.6" cy="522.6" rx="1.9" ry="2.6" transform="rotate(21.8 559.6 522.6)"/><ellipse cx="564.5" cy="516.9" rx="1.9" ry="2.6" transform="rotate(21 564.5 516.9)"/><ellipse cx="564.9" cy="540" rx="1.9" ry="2.6" transform="rotate(20.2 564.9 540)"/><ellipse cx="569.9" cy="534.2" rx="1.9" ry="2.6" transform="rotate(19.7 569.9 534.2)"/><ellipse cx="567.2" cy="525.6" rx="1.9" ry="2.6" transform="rotate(20.2 567.2 525.6)"/><ellipse cx="572" cy="519.7" rx="1.9" ry="2.6" transform="rotate(19.7 572 519.7)"/><ellipse cx="572.6" cy="542.8" rx="1.9" ry="2.6" transform="rotate(19.2 572.6 542.8)"/><ellipse cx="577.5" cy="536.9" rx="1.9" ry="2.6" transform="rotate(18.9 577.5 536.9)"/><ellipse cx="574.8" cy="528.3" rx="1.9" ry="2.6" transform="rotate(19.2 574.8 528.3)"/><ellipse cx="579.6" cy="522.4" rx="1.9" ry="2.6" transform="rotate(18.9 579.6 522.4)"/><ellipse cx="580.4" cy="545.4" rx="1.9" ry="2.6" transform="rotate(18.7 580.4 545.4)"/><ellipse cx="585.2" cy="539.5" rx="1.9" ry="2.6" transform="rotate(18.3 585.2 539.5)"/><ellipse cx="582.4" cy="531" rx="1.9" ry="2.6" transform="rotate(18.7 582.4 531)"/><ellipse cx="587.2" cy="525" rx="1.9" ry="2.6" transform="rotate(18.3 587.2 525)"/><ellipse cx="588.1" cy="548" rx="1.9" ry="2.6" transform="rotate(17.9 588.1 548)"/><ellipse cx="592.9" cy="542" rx="1.9" ry="2.6" transform="rotate(17.3 592.9 542)"/><ellipse cx="590" cy="533.5" rx="1.9" ry="2.6" transform="rotate(17.9 590 533.5)"/><ellipse cx="594.8" cy="527.5" rx="1.9" ry="2.6" transform="rotate(17.3 594.8 527.5)"/><ellipse cx="595.9" cy="550.4" rx="1.9" ry="2.6" transform="rotate(17 595.9 550.4)"/><ellipse cx="600.7" cy="544.4" rx="1.9" ry="2.6" transform="rotate(16.3 600.7 544.4)"/><ellipse cx="597.7" cy="536" rx="1.9" ry="2.6" transform="rotate(17 597.7 536)"/><ellipse cx="602.5" cy="529.9" rx="1.9" ry="2.6" transform="rotate(16.3 602.5 529.9)"/><ellipse cx="603.7" cy="552.7" rx="1.9" ry="2.6" transform="rotate(15.4 603.7 552.7)"/><ellipse cx="608.5" cy="546.6" rx="1.9" ry="2.6" transform="rotate(14.9 608.5 546.6)"/><ellipse cx="605.5" cy="538.2" rx="1.9" ry="2.6" transform="rotate(15.4 605.5 538.2)"/><ellipse cx="610.2" cy="532.1" rx="1.9" ry="2.6" transform="rotate(14.9 610.2 532.1)"/><ellipse cx="611.7" cy="554.8" rx="1.9" ry="2.6" transform="rotate(13.7 611.7 554.8)"/><ellipse cx="616.4" cy="548.5" rx="1.9" ry="2.6" transform="rotate(12.6 616.4 548.5)"/><ellipse cx="613.3" cy="540.3" rx="1.9" ry="2.6" transform="rotate(13.7 613.3 540.3)"/><ellipse cx="618" cy="534" rx="1.9" ry="2.6" transform="rotate(12.6 618 534)"/><ellipse cx="619.6" cy="556.6" rx="1.9" ry="2.6" transform="rotate(12.1 619.6 556.6)"/><ellipse cx="624.4" cy="550.2" rx="1.9" ry="2.6" transform="rotate(11.2 624.4 550.2)"/><ellipse cx="621.2" cy="542.1" rx="1.9" ry="2.6" transform="rotate(12.1 621.2 542.1)"/><ellipse cx="625.9" cy="535.7" rx="1.9" ry="2.6" transform="rotate(11.2 625.9 535.7)"/><ellipse cx="627.7" cy="558.2" rx="1.9" ry="2.6" transform="rotate(10.4 627.7 558.2)"/><ellipse cx="632.4" cy="551.7" rx="1.9" ry="2.6" transform="rotate(9.9 632.4 551.7)"/><ellipse cx="629.1" cy="543.7" rx="1.9" ry="2.6" transform="rotate(10.4 629.1 543.7)"/><ellipse cx="633.8" cy="537.1" rx="1.9" ry="2.6" transform="rotate(9.9 633.8 537.1)"/><ellipse cx="635.7" cy="559.6" rx="1.9" ry="2.6" transform="rotate(9.6 635.7 559.6)"/><ellipse cx="640.4" cy="553" rx="1.9" ry="2.6" transform="rotate(9.3 640.4 553)"/><ellipse cx="637.1" cy="545.1" rx="1.9" ry="2.6" transform="rotate(9.6 637.1 545.1)"/><ellipse cx="641.7" cy="538.5" rx="1.9" ry="2.6" transform="rotate(9.3 641.7 538.5)"/><ellipse cx="643.8" cy="561" rx="1.9" ry="2.6" transform="rotate(9.2 643.8 561)"/><ellipse cx="648.4" cy="554.3" rx="1.9" ry="2.6" transform="rotate(9.2 648.4 554.3)"/><ellipse cx="645.1" cy="546.4" rx="1.9" ry="2.6" transform="rotate(9.2 645.1 546.4)"/><ellipse cx="649.7" cy="539.8" rx="1.9" ry="2.6" transform="rotate(9.2 649.7 539.8)"/><ellipse cx="651.8" cy="562.3" rx="1.9" ry="2.6" transform="rotate(9.3 651.8 562.3)"/><ellipse cx="656.5" cy="555.7" rx="1.9" ry="2.6" transform="rotate(9.4 656.5 555.7)"/><ellipse cx="653.1" cy="547.7" rx="1.9" ry="2.6" transform="rotate(9.3 653.1 547.7)"/><ellipse cx="657.6" cy="541.1" rx="1.9" ry="2.6" transform="rotate(9.4 657.6 541.1)"/><ellipse cx="659.9" cy="563.6" rx="1.9" ry="2.6" transform="rotate(9.3 659.9 563.6)"/><ellipse cx="664.5" cy="557" rx="1.9" ry="2.6" transform="rotate(9.1 664.5 557)"/><ellipse cx="661" cy="549" rx="1.9" ry="2.6" transform="rotate(9.3 661 549)"/><ellipse cx="665.6" cy="542.4" rx="1.9" ry="2.6" transform="rotate(9.1 665.6 542.4)"/><ellipse cx="668" cy="564.9" rx="1.9" ry="2.6" transform="rotate(8.6 668 564.9)"/><ellipse cx="672.5" cy="558.2" rx="1.9" ry="2.6" transform="rotate(7.8 672.5 558.2)"/><ellipse cx="669" cy="550.3" rx="1.9" ry="2.6" transform="rotate(8.6 669 550.3)"/><ellipse cx="673.5" cy="543.6" rx="1.9" ry="2.6" transform="rotate(7.8 673.5 543.6)"/><ellipse cx="676.1" cy="566" rx="1.9" ry="2.6" transform="rotate(7.4 676.1 566)"/><ellipse cx="680.6" cy="559.2" rx="1.9" ry="2.6" transform="rotate(6.6 680.6 559.2)"/><ellipse cx="677" cy="551.4" rx="1.9" ry="2.6" transform="rotate(7.4 677 551.4)"/><ellipse cx="681.5" cy="544.6" rx="1.9" ry="2.6" transform="rotate(6.6 681.5 544.6)"/><ellipse cx="684.2" cy="566.9" rx="1.9" ry="2.6" transform="rotate(5.8 684.2 566.9)"/><ellipse cx="688.7" cy="560" rx="1.9" ry="2.6" transform="rotate(5 688.7 560)"/><ellipse cx="685" cy="552.4" rx="1.9" ry="2.6" transform="rotate(5.8 685 552.4)"/><ellipse cx="689.5" cy="545.5" rx="1.9" ry="2.6" transform="rotate(5 689.5 545.5)"/><ellipse cx="692.3" cy="567.7" rx="1.9" ry="2.6" transform="rotate(4.6 692.3 567.7)"/><ellipse cx="696.8" cy="560.7" rx="1.9" ry="2.6" transform="rotate(3.8 696.8 560.7)"/><ellipse cx="693.1" cy="553.1" rx="1.9" ry="2.6" transform="rotate(4.6 693.1 553.1)"/><ellipse cx="697.5" cy="546.1" rx="1.9" ry="2.6" transform="rotate(3.8 697.5 546.1)"/><ellipse cx="700.5" cy="568.2" rx="1.9" ry="2.6" transform="rotate(3.4 700.5 568.2)"/><ellipse cx="704.9" cy="561.2" rx="1.9" ry="2.6" transform="rotate(3.2 704.9 561.2)"/><ellipse cx="701.1" cy="553.6" rx="1.9" ry="2.6" transform="rotate(3.4 701.1 553.6)"/><ellipse cx="705.5" cy="546.6" rx="1.9" ry="2.6" transform="rotate(3.2 705.5 546.6)"/><ellipse cx="708.7" cy="568.7" rx="1.9" ry="2.6" transform="rotate(3 708.7 568.7)"/><ellipse cx="713" cy="561.6" rx="1.9" ry="2.6" transform="rotate(2.8 713 561.6)"/><ellipse cx="709.2" cy="554.1" rx="1.9" ry="2.6" transform="rotate(3 709.2 554.1)"/><ellipse cx="713.5" cy="547" rx="1.9" ry="2.6" transform="rotate(2.8 713.5 547)"/><ellipse cx="716.8" cy="569.1" rx="1.9" ry="2.6" transform="rotate(2.6 716.8 569.1)"/><ellipse cx="721.1" cy="562" rx="1.9" ry="2.6" transform="rotate(2.5 721.1 562)"/><ellipse cx="717.3" cy="554.5" rx="1.9" ry="2.6" transform="rotate(2.6 717.3 554.5)"/><ellipse cx="721.5" cy="547.4" rx="1.9" ry="2.6" transform="rotate(2.5 721.5 547.4)"/><ellipse cx="725" cy="569.4" rx="1.9" ry="2.6" transform="rotate(2.5 725 569.4)"/><ellipse cx="729.2" cy="562.3" rx="1.9" ry="2.6" transform="rotate(2.4 729.2 562.3)"/><ellipse cx="725.3" cy="554.9" rx="1.9" ry="2.6" transform="rotate(2.5 725.3 554.9)"/><ellipse cx="729.5" cy="547.7" rx="1.9" ry="2.6" transform="rotate(2.4 729.5 547.7)"/><ellipse cx="733.1" cy="569.8" rx="1.9" ry="2.6" transform="rotate(2.4 733.1 569.8)"/><ellipse cx="737.3" cy="562.7" rx="1.9" ry="2.6" transform="rotate(2.3 737.3 562.7)"/><ellipse cx="733.4" cy="555.2" rx="1.9" ry="2.6" transform="rotate(2.4 733.4 555.2)"/><ellipse cx="737.5" cy="548.1" rx="1.9" ry="2.6" transform="rotate(2.3 737.5 548.1)"/><ellipse cx="741.3" cy="570.1" rx="1.9" ry="2.6" transform="rotate(2.3 741.3 570.1)"/><ellipse cx="745.4" cy="563" rx="1.9" ry="2.6" transform="rotate(2.5 745.4 563)"/><ellipse cx="741.4" cy="555.5" rx="1.9" ry="2.6" transform="rotate(2.3 741.4 555.5)"/><ellipse cx="745.5" cy="548.4" rx="1.9" ry="2.6" transform="rotate(2.5 745.5 548.4)"/><ellipse cx="749.5" cy="570.5" rx="1.9" ry="2.6" transform="rotate(2.7 749.5 570.5)"/><ellipse cx="749.5" cy="555.9" rx="1.9" ry="2.6" transform="rotate(2.7 749.5 555.9)"/></g>
<g fill="#b3c3d6"><ellipse cx="407.8" cy="410.5" rx="1.5" ry="0.8" transform="rotate(41.6 407.8 410.5)"/><ellipse cx="410" cy="415.4" rx="1.5" ry="0.8" transform="rotate(42 410 415.4)"/><ellipse cx="408.1" cy="416.7" rx="1.5" ry="0.8" transform="rotate(41.6 408.1 416.7)"/><ellipse cx="410.2" cy="421.6" rx="1.5" ry="0.8" transform="rotate(42 410.2 421.6)"/><ellipse cx="411.9" cy="414.1" rx="1.5" ry="0.8" transform="rotate(42.1 411.9 414.1)"/><ellipse cx="414.1" cy="419" rx="1.5" ry="0.8" transform="rotate(42.1 414.1 419)"/><ellipse cx="412.2" cy="420.3" rx="1.5" ry="0.8" transform="rotate(42.1 412.2 420.3)"/><ellipse cx="414.4" cy="425.2" rx="1.5" ry="0.8" transform="rotate(42.1 414.4 425.2)"/><ellipse cx="415.9" cy="417.7" rx="1.5" ry="0.8" transform="rotate(41.7 415.9 417.7)"/><ellipse cx="418.1" cy="422.6" rx="1.5" ry="0.8" transform="rotate(41.5 418.1 422.6)"/><ellipse cx="416.3" cy="423.9" rx="1.5" ry="0.8" transform="rotate(41.7 416.3 423.9)"/><ellipse cx="418.6" cy="428.8" rx="1.5" ry="0.8" transform="rotate(41.5 418.6 428.8)"/><ellipse cx="420" cy="421.3" rx="1.5" ry="0.8" transform="rotate(41.2 420 421.3)"/><ellipse cx="422.3" cy="426.1" rx="1.5" ry="0.8" transform="rotate(40.8 422.3 426.1)"/><ellipse cx="420.4" cy="427.4" rx="1.5" ry="0.8" transform="rotate(41.2 420.4 427.4)"/><ellipse cx="422.8" cy="432.3" rx="1.5" ry="0.8" transform="rotate(40.8 422.8 432.3)"/><ellipse cx="424.1" cy="424.8" rx="1.5" ry="0.8" transform="rotate(40.4 424.1 424.8)"/><ellipse cx="426.4" cy="429.6" rx="1.5" ry="0.8" transform="rotate(39.9 426.4 429.6)"/><ellipse cx="424.6" cy="431" rx="1.5" ry="0.8" transform="rotate(40.4 424.6 431)"/><ellipse cx="427" cy="435.8" rx="1.5" ry="0.8" transform="rotate(39.9 427 435.8)"/><ellipse cx="428.2" cy="428.2" rx="1.5" ry="0.8" transform="rotate(39.2 428.2 428.2)"/><ellipse cx="430.6" cy="433" rx="1.5" ry="0.8" transform="rotate(37.5 430.6 433)"/><ellipse cx="428.8" cy="434.4" rx="1.5" ry="0.8" transform="rotate(39.2 428.8 434.4)"/><ellipse cx="431.1" cy="439.2" rx="1.5" ry="0.8" transform="rotate(37.5 431.1 439.2)"/><ellipse cx="432.5" cy="431.6" rx="1.5" ry="0.8" transform="rotate(36.9 432.5 431.6)"/><ellipse cx="434.8" cy="436.3" rx="1.5" ry="0.8" transform="rotate(36.3 434.8 436.3)"/><ellipse cx="433" cy="437.7" rx="1.5" ry="0.8" transform="rotate(36.9 433 437.7)"/><ellipse cx="435.2" cy="442.5" rx="1.5" ry="0.8" transform="rotate(36.3 435.2 442.5)"/><ellipse cx="436.8" cy="434.8" rx="1.5" ry="0.8" transform="rotate(35.8 436.8 434.8)"/><ellipse cx="439.1" cy="439.4" rx="1.5" ry="0.8" transform="rotate(35.4 439.1 439.4)"/><ellipse cx="437.1" cy="441" rx="1.5" ry="0.8" transform="rotate(35.8 437.1 441)"/><ellipse cx="439.3" cy="445.6" rx="1.5" ry="0.8" transform="rotate(35.4 439.3 445.6)"/><ellipse cx="441.1" cy="437.9" rx="1.5" ry="0.8" transform="rotate(35.1 441.1 437.9)"/><ellipse cx="443.4" cy="442.5" rx="1.5" ry="0.8" transform="rotate(34.8 443.4 442.5)"/><ellipse cx="441.3" cy="444.1" rx="1.5" ry="0.8" transform="rotate(35.1 441.3 444.1)"/><ellipse cx="443.5" cy="448.7" rx="1.5" ry="0.8" transform="rotate(34.8 443.5 448.7)"/><ellipse cx="445.5" cy="441" rx="1.5" ry="0.8" transform="rotate(34.3 445.5 441)"/><ellipse cx="447.8" cy="445.6" rx="1.5" ry="0.8" transform="rotate(34.1 447.8 445.6)"/><ellipse cx="445.6" cy="447.2" rx="1.5" ry="0.8" transform="rotate(34.3 445.6 447.2)"/><ellipse cx="447.9" cy="451.8" rx="1.5" ry="0.8" transform="rotate(34.1 447.9 451.8)"/><ellipse cx="450" cy="444" rx="1.5" ry="0.8" transform="rotate(33.9 450 444)"/><ellipse cx="452.3" cy="448.6" rx="1.5" ry="0.8" transform="rotate(33.8 452.3 448.6)"/><ellipse cx="450.1" cy="450.2" rx="1.5" ry="0.8" transform="rotate(33.9 450.1 450.2)"/><ellipse cx="452.4" cy="454.8" rx="1.5" ry="0.8" transform="rotate(33.8 452.4 454.8)"/><ellipse cx="454.5" cy="447" rx="1.5" ry="0.8" transform="rotate(33.7 454.5 447)"/><ellipse cx="456.8" cy="451.6" rx="1.5" ry="0.8" transform="rotate(33.7 456.8 451.6)"/><ellipse cx="454.6" cy="453.2" rx="1.5" ry="0.8" transform="rotate(33.7 454.6 453.2)"/><ellipse cx="456.9" cy="457.8" rx="1.5" ry="0.8" transform="rotate(33.7 456.9 457.8)"/><ellipse cx="459" cy="450" rx="1.5" ry="0.8" transform="rotate(33.5 459 450)"/><ellipse cx="461.3" cy="454.6" rx="1.5" ry="0.8" transform="rotate(32.6 461.3 454.6)"/><ellipse cx="459.1" cy="456.2" rx="1.5" ry="0.8" transform="rotate(33.5 459.1 456.2)"/><ellipse cx="461.4" cy="460.8" rx="1.5" ry="0.8" transform="rotate(32.6 461.4 460.8)"/><ellipse cx="463.5" cy="452.9" rx="1.5" ry="0.8" transform="rotate(32 463.5 452.9)"/><ellipse cx="465.9" cy="457.4" rx="1.5" ry="0.8" transform="rotate(31.5 465.9 457.4)"/><ellipse cx="463.6" cy="459.1" rx="1.5" ry="0.8" transform="rotate(32 463.6 459.1)"/><ellipse cx="465.9" cy="463.6" rx="1.5" ry="0.8" transform="rotate(31.5 465.9 463.6)"/><ellipse cx="468.1" cy="455.7" rx="1.5" ry="0.8" transform="rotate(31 468.1 455.7)"/><ellipse cx="470.5" cy="460.2" rx="1.5" ry="0.8" transform="rotate(30.6 470.5 460.2)"/><ellipse cx="468.2" cy="461.9" rx="1.5" ry="0.8" transform="rotate(31 468.2 461.9)"/><ellipse cx="470.5" cy="466.4" rx="1.5" ry="0.8" transform="rotate(30.6 470.5 466.4)"/><ellipse cx="472.8" cy="458.5" rx="1.5" ry="0.8" transform="rotate(30.4 472.8 458.5)"/><ellipse cx="475.1" cy="462.9" rx="1.5" ry="0.8" transform="rotate(30.2 475.1 462.9)"/><ellipse cx="472.8" cy="464.7" rx="1.5" ry="0.8" transform="rotate(30.4 472.8 464.7)"/><ellipse cx="475.2" cy="469.1" rx="1.5" ry="0.8" transform="rotate(30.2 475.2 469.1)"/><ellipse cx="477.4" cy="461.2" rx="1.5" ry="0.8" transform="rotate(30.5 477.4 461.2)"/><ellipse cx="479.8" cy="465.7" rx="1.5" ry="0.8" transform="rotate(30.4 479.8 465.7)"/><ellipse cx="477.5" cy="467.4" rx="1.5" ry="0.8" transform="rotate(30.5 477.5 467.4)"/><ellipse cx="479.8" cy="471.9" rx="1.5" ry="0.8" transform="rotate(30.4 479.8 471.9)"/><ellipse cx="482.1" cy="463.9" rx="1.5" ry="0.8" transform="rotate(30.2 482.1 463.9)"/><ellipse cx="484.4" cy="468.4" rx="1.5" ry="0.8" transform="rotate(29.9 484.4 468.4)"/><ellipse cx="482.1" cy="470.1" rx="1.5" ry="0.8" transform="rotate(30.2 482.1 470.1)"/><ellipse cx="484.5" cy="474.6" rx="1.5" ry="0.8" transform="rotate(29.9 484.5 474.6)"/><ellipse cx="486.8" cy="466.6" rx="1.5" ry="0.8" transform="rotate(29.4 486.8 466.6)"/><ellipse cx="489.2" cy="471" rx="1.5" ry="0.8" transform="rotate(28.8 489.2 471)"/><ellipse cx="486.8" cy="472.8" rx="1.5" ry="0.8" transform="rotate(29.4 486.8 472.8)"/><ellipse cx="489.2" cy="477.2" rx="1.5" ry="0.8" transform="rotate(28.8 489.2 477.2)"/><ellipse cx="491.5" cy="469.2" rx="1.5" ry="0.8" transform="rotate(27.3 491.5 469.2)"/><ellipse cx="493.9" cy="473.5" rx="1.5" ry="0.8" transform="rotate(26.2 493.9 473.5)"/><ellipse cx="491.6" cy="475.4" rx="1.5" ry="0.8" transform="rotate(27.3 491.6 475.4)"/><ellipse cx="494" cy="479.7" rx="1.5" ry="0.8" transform="rotate(26.2 494 479.7)"/><ellipse cx="496.3" cy="471.6" rx="1.5" ry="0.8" transform="rotate(25.1 496.3 471.6)"/><ellipse cx="498.8" cy="475.8" rx="1.5" ry="0.8" transform="rotate(24.1 498.8 475.8)"/><ellipse cx="496.4" cy="477.8" rx="1.5" ry="0.8" transform="rotate(25.1 496.4 477.8)"/><ellipse cx="498.8" cy="482" rx="1.5" ry="0.8" transform="rotate(24.1 498.8 482)"/><ellipse cx="501.3" cy="473.8" rx="1.5" ry="0.8" transform="rotate(23.3 501.3 473.8)"/><ellipse cx="503.7" cy="478" rx="1.5" ry="0.8" transform="rotate(22.4 503.7 478)"/><ellipse cx="501.2" cy="480" rx="1.5" ry="0.8" transform="rotate(23.3 501.2 480)"/><ellipse cx="503.7" cy="484.2" rx="1.5" ry="0.8" transform="rotate(22.4 503.7 484.2)"/><ellipse cx="506.2" cy="475.9" rx="1.5" ry="0.8" transform="rotate(21.6 506.2 475.9)"/><ellipse cx="508.7" cy="479.9" rx="1.5" ry="0.8" transform="rotate(20.3 508.7 479.9)"/><ellipse cx="506.2" cy="482.1" rx="1.5" ry="0.8" transform="rotate(21.6 506.2 482.1)"/><ellipse cx="508.6" cy="486.1" rx="1.5" ry="0.8" transform="rotate(20.3 508.6 486.1)"/><ellipse cx="511.3" cy="477.8" rx="1.5" ry="0.8" transform="rotate(19.8 511.3 477.8)"/><ellipse cx="513.7" cy="481.8" rx="1.5" ry="0.8" transform="rotate(19.4 513.7 481.8)"/><ellipse cx="511.1" cy="484" rx="1.5" ry="0.8" transform="rotate(19.8 511.1 484)"/><ellipse cx="513.6" cy="488" rx="1.5" ry="0.8" transform="rotate(19.4 513.6 488)"/><ellipse cx="516.3" cy="479.6" rx="1.5" ry="0.8" transform="rotate(19 516.3 479.6)"/><ellipse cx="518.8" cy="483.5" rx="1.5" ry="0.8" transform="rotate(18.8 518.8 483.5)"/><ellipse cx="516.1" cy="485.8" rx="1.5" ry="0.8" transform="rotate(19 516.1 485.8)"/><ellipse cx="518.5" cy="489.7" rx="1.5" ry="0.8" transform="rotate(18.8 518.5 489.7)"/><ellipse cx="521.4" cy="481.3" rx="1.5" ry="0.8" transform="rotate(18.7 521.4 481.3)"/><ellipse cx="523.8" cy="485.3" rx="1.5" ry="0.8" transform="rotate(18.7 523.8 485.3)"/><ellipse cx="521.2" cy="487.5" rx="1.5" ry="0.8" transform="rotate(18.7 521.2 487.5)"/><ellipse cx="523.5" cy="491.5" rx="1.5" ry="0.8" transform="rotate(18.7 523.5 491.5)"/><ellipse cx="526.5" cy="483" rx="1.5" ry="0.8" transform="rotate(18.5 526.5 483)"/><ellipse cx="528.9" cy="487" rx="1.5" ry="0.8" transform="rotate(18.2 528.9 487)"/><ellipse cx="526.2" cy="489.2" rx="1.5" ry="0.8" transform="rotate(18.5 526.2 489.2)"/><ellipse cx="528.5" cy="493.2" rx="1.5" ry="0.8" transform="rotate(18.2 528.5 493.2)"/><ellipse cx="525.9" cy="495.4" rx="1.5" ry="0.8" transform="rotate(18.5 525.9 495.4)"/><ellipse cx="531.6" cy="484.7" rx="1.5" ry="0.8" transform="rotate(17.9 531.6 484.7)"/><ellipse cx="534" cy="488.6" rx="1.5" ry="0.8" transform="rotate(17.5 534 488.6)"/><ellipse cx="531.2" cy="490.9" rx="1.5" ry="0.8" transform="rotate(17.9 531.2 490.9)"/><ellipse cx="533.5" cy="494.8" rx="1.5" ry="0.8" transform="rotate(17.5 533.5 494.8)"/><ellipse cx="530.8" cy="497.1" rx="1.5" ry="0.8" transform="rotate(17.9 530.8 497.1)"/><ellipse cx="536.8" cy="486.4" rx="1.5" ry="0.8" transform="rotate(17 536.8 486.4)"/><ellipse cx="539.1" cy="490.2" rx="1.5" ry="0.8" transform="rotate(16.4 539.1 490.2)"/><ellipse cx="536.3" cy="492.5" rx="1.5" ry="0.8" transform="rotate(17 536.3 492.5)"/><ellipse cx="538.6" cy="496.4" rx="1.5" ry="0.8" transform="rotate(16.4 538.6 496.4)"/><ellipse cx="535.8" cy="498.7" rx="1.5" ry="0.8" transform="rotate(17 535.8 498.7)"/><ellipse cx="541.9" cy="487.9" rx="1.5" ry="0.8" transform="rotate(15.8 541.9 487.9)"/><ellipse cx="544.2" cy="491.6" rx="1.5" ry="0.8" transform="rotate(14 544.2 491.6)"/><ellipse cx="541.4" cy="494" rx="1.5" ry="0.8" transform="rotate(15.8 541.4 494)"/><ellipse cx="543.7" cy="497.8" rx="1.5" ry="0.8" transform="rotate(14 543.7 497.8)"/><ellipse cx="540.8" cy="500.2" rx="1.5" ry="0.8" transform="rotate(15.8 540.8 500.2)"/><ellipse cx="547.1" cy="489.2" rx="1.5" ry="0.8" transform="rotate(12.9 547.1 489.2)"/><ellipse cx="549.4" cy="492.9" rx="1.5" ry="0.8" transform="rotate(11.7 549.4 492.9)"/><ellipse cx="546.5" cy="495.4" rx="1.5" ry="0.8" transform="rotate(12.9 546.5 495.4)"/><ellipse cx="548.8" cy="499" rx="1.5" ry="0.8" transform="rotate(11.7 548.8 499)"/><ellipse cx="545.9" cy="501.5" rx="1.5" ry="0.8" transform="rotate(12.9 545.9 501.5)"/><ellipse cx="552.4" cy="490.3" rx="1.5" ry="0.8" transform="rotate(10.5 552.4 490.3)"/><ellipse cx="554.7" cy="493.8" rx="1.5" ry="0.8" transform="rotate(9.4 554.7 493.8)"/><ellipse cx="551.7" cy="496.5" rx="1.5" ry="0.8" transform="rotate(10.5 551.7 496.5)"/><ellipse cx="554" cy="500" rx="1.5" ry="0.8" transform="rotate(9.4 554 500)"/><ellipse cx="551" cy="502.6" rx="1.5" ry="0.8" transform="rotate(10.5 551 502.6)"/><ellipse cx="553.2" cy="506.1" rx="1.5" ry="0.8" transform="rotate(9.4 553.2 506.1)"/><ellipse cx="557.7" cy="491.2" rx="1.5" ry="0.8" transform="rotate(8.3 557.7 491.2)"/><ellipse cx="560" cy="494.6" rx="1.5" ry="0.8" transform="rotate(6.7 560 494.6)"/><ellipse cx="557" cy="497.3" rx="1.5" ry="0.8" transform="rotate(8.3 557 497.3)"/><ellipse cx="559.2" cy="500.7" rx="1.5" ry="0.8" transform="rotate(6.7 559.2 500.7)"/><ellipse cx="556.2" cy="503.5" rx="1.5" ry="0.8" transform="rotate(8.3 556.2 503.5)"/><ellipse cx="558.4" cy="506.9" rx="1.5" ry="0.8" transform="rotate(6.7 558.4 506.9)"/><ellipse cx="563.1" cy="491.8" rx="1.5" ry="0.8" transform="rotate(6.1 563.1 491.8)"/><ellipse cx="565.3" cy="495.2" rx="1.5" ry="0.8" transform="rotate(5.5 565.3 495.2)"/><ellipse cx="562.2" cy="498" rx="1.5" ry="0.8" transform="rotate(6.1 562.2 498)"/><ellipse cx="564.5" cy="501.3" rx="1.5" ry="0.8" transform="rotate(5.5 564.5 501.3)"/><ellipse cx="561.4" cy="504.1" rx="1.5" ry="0.8" transform="rotate(6.1 561.4 504.1)"/><ellipse cx="563.6" cy="507.5" rx="1.5" ry="0.8" transform="rotate(5.5 563.6 507.5)"/><ellipse cx="568.4" cy="492.3" rx="1.5" ry="0.8" transform="rotate(5.1 568.4 492.3)"/><ellipse cx="570.7" cy="495.6" rx="1.5" ry="0.8" transform="rotate(4.8 570.7 495.6)"/><ellipse cx="567.5" cy="498.5" rx="1.5" ry="0.8" transform="rotate(5.1 567.5 498.5)"/><ellipse cx="569.8" cy="501.8" rx="1.5" ry="0.8" transform="rotate(4.8 569.8 501.8)"/><ellipse cx="566.7" cy="504.6" rx="1.5" ry="0.8" transform="rotate(5.1 566.7 504.6)"/><ellipse cx="568.9" cy="507.9" rx="1.5" ry="0.8" transform="rotate(4.8 568.9 507.9)"/><ellipse cx="565.8" cy="510.8" rx="1.5" ry="0.8" transform="rotate(5.1 565.8 510.8)"/><ellipse cx="573.8" cy="492.8" rx="1.5" ry="0.8" transform="rotate(4.6 573.8 492.8)"/><ellipse cx="576" cy="496.1" rx="1.5" ry="0.8" transform="rotate(4.6 576 496.1)"/><ellipse cx="572.9" cy="498.9" rx="1.5" ry="0.8" transform="rotate(4.6 572.9 498.9)"/><ellipse cx="575.1" cy="502.2" rx="1.5" ry="0.8" transform="rotate(4.6 575.1 502.2)"/><ellipse cx="572" cy="505.1" rx="1.5" ry="0.8" transform="rotate(4.6 572 505.1)"/><ellipse cx="574.2" cy="508.3" rx="1.5" ry="0.8" transform="rotate(4.6 574.2 508.3)"/><ellipse cx="571.1" cy="511.2" rx="1.5" ry="0.8" transform="rotate(4.6 571.1 511.2)"/><ellipse cx="573.2" cy="514.5" rx="1.5" ry="0.8" transform="rotate(4.6 573.2 514.5)"/><ellipse cx="579.2" cy="493.2" rx="1.5" ry="0.8" transform="rotate(4.7 579.2 493.2)"/><ellipse cx="581.4" cy="496.5" rx="1.5" ry="0.8" transform="rotate(4.4 581.4 496.5)"/><ellipse cx="578.2" cy="499.4" rx="1.5" ry="0.8" transform="rotate(4.7 578.2 499.4)"/><ellipse cx="580.4" cy="502.6" rx="1.5" ry="0.8" transform="rotate(4.4 580.4 502.6)"/><ellipse cx="577.3" cy="505.5" rx="1.5" ry="0.8" transform="rotate(4.7 577.3 505.5)"/><ellipse cx="579.4" cy="508.8" rx="1.5" ry="0.8" transform="rotate(4.4 579.4 508.8)"/><ellipse cx="576.3" cy="511.6" rx="1.5" ry="0.8" transform="rotate(4.7 576.3 511.6)"/><ellipse cx="578.5" cy="514.9" rx="1.5" ry="0.8" transform="rotate(4.4 578.5 514.9)"/><ellipse cx="584.5" cy="493.7" rx="1.5" ry="0.8" transform="rotate(4.1 584.5 493.7)"/><ellipse cx="586.7" cy="496.9" rx="1.5" ry="0.8" transform="rotate(3.8 586.7 496.9)"/><ellipse cx="583.6" cy="499.8" rx="1.5" ry="0.8" transform="rotate(4.1 583.6 499.8)"/><ellipse cx="585.7" cy="503" rx="1.5" ry="0.8" transform="rotate(3.8 585.7 503)"/><ellipse cx="582.6" cy="505.9" rx="1.5" ry="0.8" transform="rotate(4.1 582.6 505.9)"/><ellipse cx="584.8" cy="509.1" rx="1.5" ry="0.8" transform="rotate(3.8 584.8 509.1)"/><ellipse cx="581.6" cy="512" rx="1.5" ry="0.8" transform="rotate(4.1 581.6 512)"/><ellipse cx="583.8" cy="515.3" rx="1.5" ry="0.8" transform="rotate(3.8 583.8 515.3)"/><ellipse cx="589.9" cy="494" rx="1.5" ry="0.8" transform="rotate(3.5 589.9 494)"/><ellipse cx="592.1" cy="497.2" rx="1.5" ry="0.8" transform="rotate(3.2 592.1 497.2)"/><ellipse cx="588.9" cy="500.1" rx="1.5" ry="0.8" transform="rotate(3.5 588.9 500.1)"/><ellipse cx="591.1" cy="503.3" rx="1.5" ry="0.8" transform="rotate(3.2 591.1 503.3)"/><ellipse cx="587.9" cy="506.2" rx="1.5" ry="0.8" transform="rotate(3.5 587.9 506.2)"/><ellipse cx="590.1" cy="509.5" rx="1.5" ry="0.8" transform="rotate(3.2 590.1 509.5)"/><ellipse cx="586.9" cy="512.4" rx="1.5" ry="0.8" transform="rotate(3.5 586.9 512.4)"/><ellipse cx="589.1" cy="515.6" rx="1.5" ry="0.8" transform="rotate(3.2 589.1 515.6)"/><ellipse cx="585.9" cy="518.5" rx="1.5" ry="0.8" transform="rotate(3.5 585.9 518.5)"/><ellipse cx="595.3" cy="494.3" rx="1.5" ry="0.8" transform="rotate(2.9 595.3 494.3)"/><ellipse cx="597.5" cy="497.5" rx="1.5" ry="0.8" transform="rotate(2.3 597.5 497.5)"/><ellipse cx="594.3" cy="500.4" rx="1.5" ry="0.8" transform="rotate(2.9 594.3 500.4)"/><ellipse cx="596.5" cy="503.6" rx="1.5" ry="0.8" transform="rotate(2.3 596.5 503.6)"/><ellipse cx="593.3" cy="506.5" rx="1.5" ry="0.8" transform="rotate(2.9 593.3 506.5)"/><ellipse cx="595.4" cy="509.7" rx="1.5" ry="0.8" transform="rotate(2.3 595.4 509.7)"/><ellipse cx="592.2" cy="512.7" rx="1.5" ry="0.8" transform="rotate(2.9 592.2 512.7)"/><ellipse cx="594.4" cy="515.8" rx="1.5" ry="0.8" transform="rotate(2.3 594.4 515.8)"/><ellipse cx="591.2" cy="518.8" rx="1.5" ry="0.8" transform="rotate(2.9 591.2 518.8)"/><ellipse cx="593.4" cy="521.9" rx="1.5" ry="0.8" transform="rotate(2.3 593.4 521.9)"/><ellipse cx="600.7" cy="494.5" rx="1.5" ry="0.8" transform="rotate(2 600.7 494.5)"/><ellipse cx="602.9" cy="497.7" rx="1.5" ry="0.8" transform="rotate(1.7 602.9 497.7)"/><ellipse cx="599.7" cy="500.6" rx="1.5" ry="0.8" transform="rotate(2 599.7 500.6)"/><ellipse cx="601.8" cy="503.8" rx="1.5" ry="0.8" transform="rotate(1.7 601.8 503.8)"/><ellipse cx="598.6" cy="506.8" rx="1.5" ry="0.8" transform="rotate(2 598.6 506.8)"/><ellipse cx="600.8" cy="509.9" rx="1.5" ry="0.8" transform="rotate(1.7 600.8 509.9)"/><ellipse cx="597.6" cy="512.9" rx="1.5" ry="0.8" transform="rotate(2 597.6 512.9)"/><ellipse cx="599.8" cy="516" rx="1.5" ry="0.8" transform="rotate(1.7 599.8 516)"/><ellipse cx="596.6" cy="519" rx="1.5" ry="0.8" transform="rotate(2 596.6 519)"/><ellipse cx="598.7" cy="522.1" rx="1.5" ry="0.8" transform="rotate(1.7 598.7 522.1)"/><ellipse cx="606.1" cy="494.7" rx="1.5" ry="0.8" transform="rotate(1.4 606.1 494.7)"/><ellipse cx="608.3" cy="497.8" rx="1.5" ry="0.8" transform="rotate(1.1 608.3 497.8)"/><ellipse cx="605" cy="500.8" rx="1.5" ry="0.8" transform="rotate(1.4 605 500.8)"/><ellipse cx="607.2" cy="503.9" rx="1.5" ry="0.8" transform="rotate(1.1 607.2 503.9)"/><ellipse cx="604" cy="506.9" rx="1.5" ry="0.8" transform="rotate(1.4 604 506.9)"/><ellipse cx="606.2" cy="510" rx="1.5" ry="0.8" transform="rotate(1.1 606.2 510)"/><ellipse cx="603" cy="513" rx="1.5" ry="0.8" transform="rotate(1.4 603 513)"/><ellipse cx="605.1" cy="516.1" rx="1.5" ry="0.8" transform="rotate(1.1 605.1 516.1)"/><ellipse cx="601.9" cy="519.1" rx="1.5" ry="0.8" transform="rotate(1.4 601.9 519.1)"/><ellipse cx="604.1" cy="522.3" rx="1.5" ry="0.8" transform="rotate(1.1 604.1 522.3)"/><ellipse cx="611.5" cy="494.8" rx="1.5" ry="0.8" transform="rotate(0.6 611.5 494.8)"/><ellipse cx="613.7" cy="497.9" rx="1.5" ry="0.8" transform="rotate(0 613.7 497.9)"/><ellipse cx="610.4" cy="500.9" rx="1.5" ry="0.8" transform="rotate(0.6 610.4 500.9)"/><ellipse cx="612.6" cy="504" rx="1.5" ry="0.8" transform="rotate(0 612.6 504)"/><ellipse cx="609.4" cy="507" rx="1.5" ry="0.8" transform="rotate(0.6 609.4 507)"/><ellipse cx="611.6" cy="510.1" rx="1.5" ry="0.8" transform="rotate(0 611.6 510.1)"/><ellipse cx="608.4" cy="513.1" rx="1.5" ry="0.8" transform="rotate(0.6 608.4 513.1)"/><ellipse cx="610.5" cy="516.2" rx="1.5" ry="0.8" transform="rotate(0 610.5 516.2)"/><ellipse cx="607.3" cy="519.2" rx="1.5" ry="0.8" transform="rotate(0.6 607.3 519.2)"/><ellipse cx="609.5" cy="522.3" rx="1.5" ry="0.8" transform="rotate(0 609.5 522.3)"/><ellipse cx="606.3" cy="525.4" rx="1.5" ry="0.8" transform="rotate(0.6 606.3 525.4)"/><ellipse cx="616.9" cy="494.8" rx="1.5" ry="0.8" transform="rotate(-0.9 616.9 494.8)"/><ellipse cx="619.1" cy="497.8" rx="1.5" ry="0.8" transform="rotate(-1.3 619.1 497.8)"/><ellipse cx="615.9" cy="500.9" rx="1.5" ry="0.8" transform="rotate(-0.9 615.9 500.9)"/><ellipse cx="618" cy="503.9" rx="1.5" ry="0.8" transform="rotate(-1.3 618 503.9)"/><ellipse cx="614.8" cy="507" rx="1.5" ry="0.8" transform="rotate(-0.9 614.8 507)"/><ellipse cx="617" cy="510" rx="1.5" ry="0.8" transform="rotate(-1.3 617 510)"/><ellipse cx="613.8" cy="513.1" rx="1.5" ry="0.8" transform="rotate(-0.9 613.8 513.1)"/><ellipse cx="616" cy="516.1" rx="1.5" ry="0.8" transform="rotate(-1.3 616 516.1)"/><ellipse cx="612.7" cy="519.2" rx="1.5" ry="0.8" transform="rotate(-0.9 612.7 519.2)"/><ellipse cx="614.9" cy="522.2" rx="1.5" ry="0.8" transform="rotate(-1.3 614.9 522.2)"/><ellipse cx="611.7" cy="525.3" rx="1.5" ry="0.8" transform="rotate(-0.9 611.7 525.3)"/><ellipse cx="622.3" cy="494.7" rx="1.5" ry="0.8" transform="rotate(-1.5 622.3 494.7)"/><ellipse cx="624.5" cy="497.6" rx="1.5" ry="0.8" transform="rotate(-1.6 624.5 497.6)"/><ellipse cx="621.3" cy="500.8" rx="1.5" ry="0.8" transform="rotate(-1.5 621.3 500.8)"/><ellipse cx="623.5" cy="503.8" rx="1.5" ry="0.8" transform="rotate(-1.6 623.5 503.8)"/><ellipse cx="620.2" cy="506.9" rx="1.5" ry="0.8" transform="rotate(-1.5 620.2 506.9)"/><ellipse cx="622.4" cy="509.9" rx="1.5" ry="0.8" transform="rotate(-1.6 622.4 509.9)"/><ellipse cx="619.2" cy="513" rx="1.5" ry="0.8" transform="rotate(-1.5 619.2 513)"/><ellipse cx="621.4" cy="516" rx="1.5" ry="0.8" transform="rotate(-1.6 621.4 516)"/><ellipse cx="618.2" cy="519.1" rx="1.5" ry="0.8" transform="rotate(-1.5 618.2 519.1)"/><ellipse cx="620.4" cy="522.1" rx="1.5" ry="0.8" transform="rotate(-1.6 620.4 522.1)"/><ellipse cx="617.1" cy="525.2" rx="1.5" ry="0.8" transform="rotate(-1.5 617.1 525.2)"/><ellipse cx="619.4" cy="528.2" rx="1.5" ry="0.8" transform="rotate(-1.6 619.4 528.2)"/><ellipse cx="627.7" cy="494.5" rx="1.5" ry="0.8" transform="rotate(-1.7 627.7 494.5)"/><ellipse cx="629.9" cy="497.5" rx="1.5" ry="0.8" transform="rotate(-1.6 629.9 497.5)"/><ellipse cx="626.7" cy="500.6" rx="1.5" ry="0.8" transform="rotate(-1.7 626.7 500.6)"/><ellipse cx="628.9" cy="503.6" rx="1.5" ry="0.8" transform="rotate(-1.6 628.9 503.6)"/><ellipse cx="625.7" cy="506.7" rx="1.5" ry="0.8" transform="rotate(-1.7 625.7 506.7)"/><ellipse cx="627.9" cy="509.7" rx="1.5" ry="0.8" transform="rotate(-1.6 627.9 509.7)"/><ellipse cx="624.6" cy="512.9" rx="1.5" ry="0.8" transform="rotate(-1.7 624.6 512.9)"/><ellipse cx="626.8" cy="515.8" rx="1.5" ry="0.8" transform="rotate(-1.6 626.8 515.8)"/><ellipse cx="623.6" cy="519" rx="1.5" ry="0.8" transform="rotate(-1.7 623.6 519)"/><ellipse cx="625.8" cy="522" rx="1.5" ry="0.8" transform="rotate(-1.6 625.8 522)"/><ellipse cx="622.6" cy="525.1" rx="1.5" ry="0.8" transform="rotate(-1.7 622.6 525.1)"/><ellipse cx="624.8" cy="528.1" rx="1.5" ry="0.8" transform="rotate(-1.6 624.8 528.1)"/><ellipse cx="633.1" cy="494.4" rx="1.5" ry="0.8" transform="rotate(-1.4 633.1 494.4)"/><ellipse cx="635.3" cy="497.4" rx="1.5" ry="0.8" transform="rotate(-0.7 635.3 497.4)"/><ellipse cx="632.1" cy="500.5" rx="1.5" ry="0.8" transform="rotate(-1.4 632.1 500.5)"/><ellipse cx="634.3" cy="503.5" rx="1.5" ry="0.8" transform="rotate(-0.7 634.3 503.5)"/><ellipse cx="631.1" cy="506.6" rx="1.5" ry="0.8" transform="rotate(-1.4 631.1 506.6)"/><ellipse cx="633.3" cy="509.6" rx="1.5" ry="0.8" transform="rotate(-0.7 633.3 509.6)"/><ellipse cx="630.1" cy="512.7" rx="1.5" ry="0.8" transform="rotate(-1.4 630.1 512.7)"/><ellipse cx="632.3" cy="515.7" rx="1.5" ry="0.8" transform="rotate(-0.7 632.3 515.7)"/><ellipse cx="629.1" cy="518.8" rx="1.5" ry="0.8" transform="rotate(-1.4 629.1 518.8)"/><ellipse cx="631.3" cy="521.8" rx="1.5" ry="0.8" transform="rotate(-0.7 631.3 521.8)"/><ellipse cx="628" cy="525" rx="1.5" ry="0.8" transform="rotate(-1.4 628 525)"/><ellipse cx="630.3" cy="528" rx="1.5" ry="0.8" transform="rotate(-0.7 630.3 528)"/><ellipse cx="638.5" cy="494.3" rx="1.5" ry="0.8" transform="rotate(-0.3 638.5 494.3)"/><ellipse cx="640.7" cy="497.3" rx="1.5" ry="0.8" transform="rotate(-1 640.7 497.3)"/><ellipse cx="637.5" cy="500.4" rx="1.5" ry="0.8" transform="rotate(-0.3 637.5 500.4)"/><ellipse cx="639.7" cy="503.4" rx="1.5" ry="0.8" transform="rotate(-1 639.7 503.4)"/><ellipse cx="636.5" cy="506.5" rx="1.5" ry="0.8" transform="rotate(-0.3 636.5 506.5)"/><ellipse cx="638.7" cy="509.6" rx="1.5" ry="0.8" transform="rotate(-1 638.7 509.6)"/><ellipse cx="635.5" cy="512.6" rx="1.5" ry="0.8" transform="rotate(-0.3 635.5 512.6)"/><ellipse cx="637.7" cy="515.7" rx="1.5" ry="0.8" transform="rotate(-1 637.7 515.7)"/><ellipse cx="634.5" cy="518.8" rx="1.5" ry="0.8" transform="rotate(-0.3 634.5 518.8)"/><ellipse cx="636.7" cy="521.8" rx="1.5" ry="0.8" transform="rotate(-1 636.7 521.8)"/><ellipse cx="633.5" cy="524.9" rx="1.5" ry="0.8" transform="rotate(-0.3 633.5 524.9)"/><ellipse cx="635.7" cy="527.9" rx="1.5" ry="0.8" transform="rotate(-1 635.7 527.9)"/><ellipse cx="632.5" cy="531" rx="1.5" ry="0.8" transform="rotate(-0.3 632.5 531)"/><ellipse cx="643.9" cy="494.2" rx="1.5" ry="0.8" transform="rotate(-2.3 643.9 494.2)"/><ellipse cx="646.1" cy="497.1" rx="1.5" ry="0.8" transform="rotate(-3.1 646.1 497.1)"/><ellipse cx="642.9" cy="500.3" rx="1.5" ry="0.8" transform="rotate(-2.3 642.9 500.3)"/><ellipse cx="645.1" cy="503.2" rx="1.5" ry="0.8" transform="rotate(-3.1 645.1 503.2)"/><ellipse cx="641.9" cy="506.4" rx="1.5" ry="0.8" transform="rotate(-2.3 641.9 506.4)"/><ellipse cx="644.1" cy="509.3" rx="1.5" ry="0.8" transform="rotate(-3.1 644.1 509.3)"/><ellipse cx="640.9" cy="512.5" rx="1.5" ry="0.8" transform="rotate(-2.3 640.9 512.5)"/><ellipse cx="643.1" cy="515.5" rx="1.5" ry="0.8" transform="rotate(-3.1 643.1 515.5)"/><ellipse cx="639.9" cy="518.7" rx="1.5" ry="0.8" transform="rotate(-2.3 639.9 518.7)"/><ellipse cx="642.1" cy="521.6" rx="1.5" ry="0.8" transform="rotate(-3.1 642.1 521.6)"/><ellipse cx="638.9" cy="524.8" rx="1.5" ry="0.8" transform="rotate(-2.3 638.9 524.8)"/><ellipse cx="641.2" cy="527.7" rx="1.5" ry="0.8" transform="rotate(-3.1 641.2 527.7)"/><ellipse cx="637.9" cy="530.9" rx="1.5" ry="0.8" transform="rotate(-2.3 637.9 530.9)"/><ellipse cx="649.3" cy="493.9" rx="1.5" ry="0.8" transform="rotate(-3.2 649.3 493.9)"/><ellipse cx="651.5" cy="496.8" rx="1.5" ry="0.8" transform="rotate(-1.4 651.5 496.8)"/><ellipse cx="648.3" cy="500" rx="1.5" ry="0.8" transform="rotate(-3.2 648.3 500)"/><ellipse cx="650.5" cy="502.9" rx="1.5" ry="0.8" transform="rotate(-1.4 650.5 502.9)"/><ellipse cx="647.3" cy="506.1" rx="1.5" ry="0.8" transform="rotate(-3.2 647.3 506.1)"/><ellipse cx="649.6" cy="509.1" rx="1.5" ry="0.8" transform="rotate(-1.4 649.6 509.1)"/><ellipse cx="646.3" cy="512.3" rx="1.5" ry="0.8" transform="rotate(-3.2 646.3 512.3)"/><ellipse cx="648.6" cy="515.2" rx="1.5" ry="0.8" transform="rotate(-1.4 648.6 515.2)"/><ellipse cx="645.4" cy="518.4" rx="1.5" ry="0.8" transform="rotate(-3.2 645.4 518.4)"/><ellipse cx="647.6" cy="521.3" rx="1.5" ry="0.8" transform="rotate(-1.4 647.6 521.3)"/><ellipse cx="644.4" cy="524.5" rx="1.5" ry="0.8" transform="rotate(-3.2 644.4 524.5)"/><ellipse cx="646.6" cy="527.4" rx="1.5" ry="0.8" transform="rotate(-1.4 646.6 527.4)"/><ellipse cx="643.4" cy="530.6" rx="1.5" ry="0.8" transform="rotate(-3.2 643.4 530.6)"/><ellipse cx="654.7" cy="493.7" rx="1.5" ry="0.8" transform="rotate(0.4 654.7 493.7)"/><ellipse cx="656.9" cy="496.8" rx="1.5" ry="0.8" transform="rotate(2.8 656.9 496.8)"/><ellipse cx="653.7" cy="499.8" rx="1.5" ry="0.8" transform="rotate(0.4 653.7 499.8)"/><ellipse cx="655.9" cy="502.9" rx="1.5" ry="0.8" transform="rotate(2.8 655.9 502.9)"/><ellipse cx="652.7" cy="506" rx="1.5" ry="0.8" transform="rotate(0.4 652.7 506)"/><ellipse cx="655" cy="509.1" rx="1.5" ry="0.8" transform="rotate(2.8 655 509.1)"/><ellipse cx="651.8" cy="512.1" rx="1.5" ry="0.8" transform="rotate(0.4 651.8 512.1)"/><ellipse cx="654" cy="515.2" rx="1.5" ry="0.8" transform="rotate(2.8 654 515.2)"/><ellipse cx="650.8" cy="518.2" rx="1.5" ry="0.8" transform="rotate(0.4 650.8 518.2)"/><ellipse cx="653" cy="521.3" rx="1.5" ry="0.8" transform="rotate(2.8 653 521.3)"/><ellipse cx="649.8" cy="524.3" rx="1.5" ry="0.8" transform="rotate(0.4 649.8 524.3)"/><ellipse cx="652" cy="527.4" rx="1.5" ry="0.8" transform="rotate(2.8 652 527.4)"/><ellipse cx="648.9" cy="530.5" rx="1.5" ry="0.8" transform="rotate(0.4 648.9 530.5)"/><ellipse cx="651.1" cy="533.6" rx="1.5" ry="0.8" transform="rotate(2.8 651.1 533.6)"/><ellipse cx="660.1" cy="493.9" rx="1.5" ry="0.8" transform="rotate(5.4 660.1 493.9)"/><ellipse cx="662.3" cy="497.3" rx="1.5" ry="0.8" transform="rotate(8.2 662.3 497.3)"/><ellipse cx="659.1" cy="500.1" rx="1.5" ry="0.8" transform="rotate(5.4 659.1 500.1)"/><ellipse cx="661.3" cy="503.5" rx="1.5" ry="0.8" transform="rotate(8.2 661.3 503.5)"/><ellipse cx="658.1" cy="506.2" rx="1.5" ry="0.8" transform="rotate(5.4 658.1 506.2)"/><ellipse cx="660.3" cy="509.6" rx="1.5" ry="0.8" transform="rotate(8.2 660.3 509.6)"/><ellipse cx="657.2" cy="512.3" rx="1.5" ry="0.8" transform="rotate(5.4 657.2 512.3)"/><ellipse cx="659.4" cy="515.7" rx="1.5" ry="0.8" transform="rotate(8.2 659.4 515.7)"/><ellipse cx="656.2" cy="518.4" rx="1.5" ry="0.8" transform="rotate(5.4 656.2 518.4)"/><ellipse cx="658.4" cy="521.8" rx="1.5" ry="0.8" transform="rotate(8.2 658.4 521.8)"/><ellipse cx="655.2" cy="524.6" rx="1.5" ry="0.8" transform="rotate(5.4 655.2 524.6)"/><ellipse cx="657.4" cy="527.9" rx="1.5" ry="0.8" transform="rotate(8.2 657.4 527.9)"/><ellipse cx="654.3" cy="530.7" rx="1.5" ry="0.8" transform="rotate(5.4 654.3 530.7)"/><ellipse cx="656.4" cy="534.1" rx="1.5" ry="0.8" transform="rotate(8.2 656.4 534.1)"/><ellipse cx="665.4" cy="494.7" rx="1.5" ry="0.8" transform="rotate(10.7 665.4 494.7)"/><ellipse cx="667.6" cy="498.4" rx="1.5" ry="0.8" transform="rotate(12.6 667.6 498.4)"/><ellipse cx="664.4" cy="500.9" rx="1.5" ry="0.8" transform="rotate(10.7 664.4 500.9)"/><ellipse cx="666.6" cy="504.5" rx="1.5" ry="0.8" transform="rotate(12.6 666.6 504.5)"/><ellipse cx="663.5" cy="507" rx="1.5" ry="0.8" transform="rotate(10.7 663.5 507)"/><ellipse cx="665.6" cy="510.6" rx="1.5" ry="0.8" transform="rotate(12.6 665.6 510.6)"/><ellipse cx="662.5" cy="513.1" rx="1.5" ry="0.8" transform="rotate(10.7 662.5 513.1)"/><ellipse cx="664.6" cy="516.7" rx="1.5" ry="0.8" transform="rotate(12.6 664.6 516.7)"/><ellipse cx="661.5" cy="519.2" rx="1.5" ry="0.8" transform="rotate(10.7 661.5 519.2)"/><ellipse cx="663.7" cy="522.9" rx="1.5" ry="0.8" transform="rotate(12.6 663.7 522.9)"/><ellipse cx="660.5" cy="525.3" rx="1.5" ry="0.8" transform="rotate(10.7 660.5 525.3)"/><ellipse cx="662.7" cy="529" rx="1.5" ry="0.8" transform="rotate(12.6 662.7 529)"/><ellipse cx="659.6" cy="531.5" rx="1.5" ry="0.8" transform="rotate(10.7 659.6 531.5)"/><ellipse cx="661.7" cy="535.1" rx="1.5" ry="0.8" transform="rotate(12.6 661.7 535.1)"/><ellipse cx="670.7" cy="496" rx="1.5" ry="0.8" transform="rotate(15.3 670.7 496)"/><ellipse cx="672.8" cy="499.7" rx="1.5" ry="0.8" transform="rotate(16.4 672.8 499.7)"/><ellipse cx="669.7" cy="502.1" rx="1.5" ry="0.8" transform="rotate(15.3 669.7 502.1)"/><ellipse cx="671.8" cy="505.9" rx="1.5" ry="0.8" transform="rotate(16.4 671.8 505.9)"/><ellipse cx="668.7" cy="508.2" rx="1.5" ry="0.8" transform="rotate(15.3 668.7 508.2)"/><ellipse cx="670.8" cy="512" rx="1.5" ry="0.8" transform="rotate(16.4 670.8 512)"/><ellipse cx="667.7" cy="514.3" rx="1.5" ry="0.8" transform="rotate(15.3 667.7 514.3)"/><ellipse cx="669.9" cy="518.1" rx="1.5" ry="0.8" transform="rotate(16.4 669.9 518.1)"/><ellipse cx="666.8" cy="520.4" rx="1.5" ry="0.8" transform="rotate(15.3 666.8 520.4)"/><ellipse cx="668.9" cy="524.2" rx="1.5" ry="0.8" transform="rotate(16.4 668.9 524.2)"/><ellipse cx="665.8" cy="526.6" rx="1.5" ry="0.8" transform="rotate(15.3 665.8 526.6)"/><ellipse cx="667.9" cy="530.3" rx="1.5" ry="0.8" transform="rotate(16.4 667.9 530.3)"/><ellipse cx="664.8" cy="532.7" rx="1.5" ry="0.8" transform="rotate(15.3 664.8 532.7)"/><ellipse cx="675.9" cy="497.5" rx="1.5" ry="0.8" transform="rotate(17.6 675.9 497.5)"/><ellipse cx="677.9" cy="501.3" rx="1.5" ry="0.8" transform="rotate(18.5 677.9 501.3)"/><ellipse cx="674.9" cy="503.6" rx="1.5" ry="0.8" transform="rotate(17.6 674.9 503.6)"/><ellipse cx="677" cy="507.5" rx="1.5" ry="0.8" transform="rotate(18.5 677 507.5)"/><ellipse cx="673.9" cy="509.7" rx="1.5" ry="0.8" transform="rotate(17.6 673.9 509.7)"/><ellipse cx="676" cy="513.6" rx="1.5" ry="0.8" transform="rotate(18.5 676 513.6)"/><ellipse cx="672.9" cy="515.8" rx="1.5" ry="0.8" transform="rotate(17.6 672.9 515.8)"/><ellipse cx="675" cy="519.7" rx="1.5" ry="0.8" transform="rotate(18.5 675 519.7)"/><ellipse cx="672" cy="521.9" rx="1.5" ry="0.8" transform="rotate(17.6 672 521.9)"/><ellipse cx="674" cy="525.8" rx="1.5" ry="0.8" transform="rotate(18.5 674 525.8)"/><ellipse cx="671" cy="528.1" rx="1.5" ry="0.8" transform="rotate(17.6 671 528.1)"/><ellipse cx="673.1" cy="532" rx="1.5" ry="0.8" transform="rotate(18.5 673.1 532)"/><ellipse cx="670" cy="534.2" rx="1.5" ry="0.8" transform="rotate(17.6 670 534.2)"/><ellipse cx="681" cy="499.2" rx="1.5" ry="0.8" transform="rotate(19.5 681 499.2)"/><ellipse cx="683" cy="503.2" rx="1.5" ry="0.8" transform="rotate(20.3 683 503.2)"/><ellipse cx="680" cy="505.3" rx="1.5" ry="0.8" transform="rotate(19.5 680 505.3)"/><ellipse cx="682.1" cy="509.3" rx="1.5" ry="0.8" transform="rotate(20.3 682.1 509.3)"/><ellipse cx="679" cy="511.4" rx="1.5" ry="0.8" transform="rotate(19.5 679 511.4)"/><ellipse cx="681.1" cy="515.4" rx="1.5" ry="0.8" transform="rotate(20.3 681.1 515.4)"/><ellipse cx="678.1" cy="517.5" rx="1.5" ry="0.8" transform="rotate(19.5 678.1 517.5)"/><ellipse cx="680.1" cy="521.5" rx="1.5" ry="0.8" transform="rotate(20.3 680.1 521.5)"/><ellipse cx="677.1" cy="523.7" rx="1.5" ry="0.8" transform="rotate(19.5 677.1 523.7)"/><ellipse cx="679.2" cy="527.7" rx="1.5" ry="0.8" transform="rotate(20.3 679.2 527.7)"/><ellipse cx="676.1" cy="529.8" rx="1.5" ry="0.8" transform="rotate(19.5 676.1 529.8)"/><ellipse cx="678.2" cy="533.8" rx="1.5" ry="0.8" transform="rotate(20.3 678.2 533.8)"/><ellipse cx="675.1" cy="535.9" rx="1.5" ry="0.8" transform="rotate(19.5 675.1 535.9)"/><ellipse cx="686" cy="501.1" rx="1.5" ry="0.8" transform="rotate(20.9 686 501.1)"/><ellipse cx="688.1" cy="505.1" rx="1.5" ry="0.8" transform="rotate(22.1 688.1 505.1)"/><ellipse cx="685.1" cy="507.2" rx="1.5" ry="0.8" transform="rotate(20.9 685.1 507.2)"/><ellipse cx="687.1" cy="511.2" rx="1.5" ry="0.8" transform="rotate(22.1 687.1 511.2)"/><ellipse cx="684.1" cy="513.3" rx="1.5" ry="0.8" transform="rotate(20.9 684.1 513.3)"/><ellipse cx="686.2" cy="517.4" rx="1.5" ry="0.8" transform="rotate(22.1 686.2 517.4)"/><ellipse cx="683.2" cy="519.4" rx="1.5" ry="0.8" transform="rotate(20.9 683.2 519.4)"/><ellipse cx="685.2" cy="523.5" rx="1.5" ry="0.8" transform="rotate(22.1 685.2 523.5)"/><ellipse cx="682.2" cy="525.6" rx="1.5" ry="0.8" transform="rotate(20.9 682.2 525.6)"/><ellipse cx="684.3" cy="529.6" rx="1.5" ry="0.8" transform="rotate(22.1 684.3 529.6)"/><ellipse cx="681.2" cy="531.7" rx="1.5" ry="0.8" transform="rotate(20.9 681.2 531.7)"/><ellipse cx="683.3" cy="535.7" rx="1.5" ry="0.8" transform="rotate(22.1 683.3 535.7)"/><ellipse cx="680.3" cy="537.8" rx="1.5" ry="0.8" transform="rotate(20.9 680.3 537.8)"/><ellipse cx="691.1" cy="503.1" rx="1.5" ry="0.8" transform="rotate(22.6 691.1 503.1)"/><ellipse cx="693.1" cy="507.2" rx="1.5" ry="0.8" transform="rotate(23 693.1 507.2)"/><ellipse cx="690.1" cy="509.2" rx="1.5" ry="0.8" transform="rotate(22.6 690.1 509.2)"/><ellipse cx="692.2" cy="513.3" rx="1.5" ry="0.8" transform="rotate(23 692.2 513.3)"/><ellipse cx="689.2" cy="515.3" rx="1.5" ry="0.8" transform="rotate(22.6 689.2 515.3)"/><ellipse cx="691.2" cy="519.4" rx="1.5" ry="0.8" transform="rotate(23 691.2 519.4)"/><ellipse cx="688.2" cy="521.5" rx="1.5" ry="0.8" transform="rotate(22.6 688.2 521.5)"/><ellipse cx="690.3" cy="525.6" rx="1.5" ry="0.8" transform="rotate(23 690.3 525.6)"/><ellipse cx="687.3" cy="527.6" rx="1.5" ry="0.8" transform="rotate(22.6 687.3 527.6)"/><ellipse cx="689.3" cy="531.7" rx="1.5" ry="0.8" transform="rotate(23 689.3 531.7)"/><ellipse cx="686.3" cy="533.7" rx="1.5" ry="0.8" transform="rotate(22.6 686.3 533.7)"/><ellipse cx="688.4" cy="537.8" rx="1.5" ry="0.8" transform="rotate(23 688.4 537.8)"/><ellipse cx="696" cy="505.2" rx="1.5" ry="0.8" transform="rotate(23.3 696 505.2)"/><ellipse cx="698.1" cy="509.3" rx="1.5" ry="0.8" transform="rotate(23.6 698.1 509.3)"/><ellipse cx="695.1" cy="511.3" rx="1.5" ry="0.8" transform="rotate(23.3 695.1 511.3)"/><ellipse cx="697.2" cy="515.4" rx="1.5" ry="0.8" transform="rotate(23.6 697.2 515.4)"/><ellipse cx="694.2" cy="517.4" rx="1.5" ry="0.8" transform="rotate(23.3 694.2 517.4)"/><ellipse cx="696.2" cy="521.6" rx="1.5" ry="0.8" transform="rotate(23.6 696.2 521.6)"/><ellipse cx="693.3" cy="523.6" rx="1.5" ry="0.8" transform="rotate(23.3 693.3 523.6)"/><ellipse cx="695.3" cy="527.7" rx="1.5" ry="0.8" transform="rotate(23.6 695.3 527.7)"/><ellipse cx="692.3" cy="529.7" rx="1.5" ry="0.8" transform="rotate(23.3 692.3 529.7)"/><ellipse cx="694.4" cy="533.8" rx="1.5" ry="0.8" transform="rotate(23.6 694.4 533.8)"/><ellipse cx="691.4" cy="535.8" rx="1.5" ry="0.8" transform="rotate(23.3 691.4 535.8)"/><ellipse cx="701" cy="507.3" rx="1.5" ry="0.8" transform="rotate(24 701 507.3)"/><ellipse cx="703" cy="511.5" rx="1.5" ry="0.8" transform="rotate(24.6 703 511.5)"/><ellipse cx="700.1" cy="513.5" rx="1.5" ry="0.8" transform="rotate(24 700.1 513.5)"/><ellipse cx="702.1" cy="517.7" rx="1.5" ry="0.8" transform="rotate(24.6 702.1 517.7)"/><ellipse cx="699.2" cy="519.6" rx="1.5" ry="0.8" transform="rotate(24 699.2 519.6)"/><ellipse cx="701.2" cy="523.8" rx="1.5" ry="0.8" transform="rotate(24.6 701.2 523.8)"/><ellipse cx="698.3" cy="525.7" rx="1.5" ry="0.8" transform="rotate(24 698.3 525.7)"/><ellipse cx="700.4" cy="529.9" rx="1.5" ry="0.8" transform="rotate(24.6 700.4 529.9)"/><ellipse cx="697.4" cy="531.9" rx="1.5" ry="0.8" transform="rotate(24 697.4 531.9)"/><ellipse cx="699.5" cy="536.1" rx="1.5" ry="0.8" transform="rotate(24.6 699.5 536.1)"/><ellipse cx="696.5" cy="538" rx="1.5" ry="0.8" transform="rotate(24 696.5 538)"/><ellipse cx="705.9" cy="509.6" rx="1.5" ry="0.8" transform="rotate(25.5 705.9 509.6)"/><ellipse cx="707.9" cy="513.9" rx="1.5" ry="0.8" transform="rotate(25.8 707.9 513.9)"/><ellipse cx="705" cy="515.8" rx="1.5" ry="0.8" transform="rotate(25.5 705 515.8)"/><ellipse cx="707.1" cy="520" rx="1.5" ry="0.8" transform="rotate(25.8 707.1 520)"/><ellipse cx="704.2" cy="521.9" rx="1.5" ry="0.8" transform="rotate(25.5 704.2 521.9)"/><ellipse cx="706.2" cy="526.1" rx="1.5" ry="0.8" transform="rotate(25.8 706.2 526.1)"/><ellipse cx="703.3" cy="528" rx="1.5" ry="0.8" transform="rotate(25.5 703.3 528)"/><ellipse cx="705.4" cy="532.3" rx="1.5" ry="0.8" transform="rotate(25.8 705.4 532.3)"/><ellipse cx="702.4" cy="534.2" rx="1.5" ry="0.8" transform="rotate(25.5 702.4 534.2)"/><ellipse cx="704.5" cy="538.4" rx="1.5" ry="0.8" transform="rotate(25.8 704.5 538.4)"/><ellipse cx="701.6" cy="540.3" rx="1.5" ry="0.8" transform="rotate(25.5 701.6 540.3)"/><ellipse cx="710.8" cy="512" rx="1.5" ry="0.8" transform="rotate(26 710.8 512)"/><ellipse cx="712.8" cy="516.2" rx="1.5" ry="0.8" transform="rotate(26.3 712.8 516.2)"/><ellipse cx="710" cy="518.1" rx="1.5" ry="0.8" transform="rotate(26 710 518.1)"/><ellipse cx="712" cy="522.4" rx="1.5" ry="0.8" transform="rotate(26.3 712 522.4)"/><ellipse cx="709.1" cy="524.3" rx="1.5" ry="0.8" transform="rotate(26 709.1 524.3)"/><ellipse cx="711.2" cy="528.5" rx="1.5" ry="0.8" transform="rotate(26.3 711.2 528.5)"/><ellipse cx="708.3" cy="530.4" rx="1.5" ry="0.8" transform="rotate(26 708.3 530.4)"/><ellipse cx="710.4" cy="534.7" rx="1.5" ry="0.8" transform="rotate(26.3 710.4 534.7)"/><ellipse cx="707.5" cy="536.5" rx="1.5" ry="0.8" transform="rotate(26 707.5 536.5)"/><ellipse cx="709.6" cy="540.8" rx="1.5" ry="0.8" transform="rotate(26.3 709.6 540.8)"/><ellipse cx="715.6" cy="514.4" rx="1.5" ry="0.8" transform="rotate(26.4 715.6 514.4)"/><ellipse cx="717.7" cy="518.6" rx="1.5" ry="0.8" transform="rotate(26.6 717.7 518.6)"/><ellipse cx="714.9" cy="520.5" rx="1.5" ry="0.8" transform="rotate(26.4 714.9 520.5)"/><ellipse cx="716.9" cy="524.8" rx="1.5" ry="0.8" transform="rotate(26.6 716.9 524.8)"/><ellipse cx="714.1" cy="526.7" rx="1.5" ry="0.8" transform="rotate(26.4 714.1 526.7)"/><ellipse cx="716.2" cy="530.9" rx="1.5" ry="0.8" transform="rotate(26.6 716.2 530.9)"/><ellipse cx="713.3" cy="532.8" rx="1.5" ry="0.8" transform="rotate(26.4 713.3 532.8)"/><ellipse cx="715.4" cy="537.1" rx="1.5" ry="0.8" transform="rotate(26.6 715.4 537.1)"/><ellipse cx="712.5" cy="539" rx="1.5" ry="0.8" transform="rotate(26.4 712.5 539)"/><ellipse cx="720.5" cy="516.8" rx="1.5" ry="0.8" transform="rotate(26.8 720.5 516.8)"/><ellipse cx="722.6" cy="521.1" rx="1.5" ry="0.8" transform="rotate(26.9 722.6 521.1)"/><ellipse cx="719.8" cy="522.9" rx="1.5" ry="0.8" transform="rotate(26.8 719.8 522.9)"/><ellipse cx="721.9" cy="527.2" rx="1.5" ry="0.8" transform="rotate(26.9 721.9 527.2)"/><ellipse cx="719" cy="529.1" rx="1.5" ry="0.8" transform="rotate(26.8 719 529.1)"/><ellipse cx="721.2" cy="533.4" rx="1.5" ry="0.8" transform="rotate(26.9 721.2 533.4)"/><ellipse cx="718.3" cy="535.2" rx="1.5" ry="0.8" transform="rotate(26.8 718.3 535.2)"/><ellipse cx="720.5" cy="539.6" rx="1.5" ry="0.8" transform="rotate(26.9 720.5 539.6)"/><ellipse cx="717.6" cy="541.4" rx="1.5" ry="0.8" transform="rotate(26.8 717.6 541.4)"/><ellipse cx="725.3" cy="519.2" rx="1.5" ry="0.8" transform="rotate(27 725.3 519.2)"/><ellipse cx="727.4" cy="523.5" rx="1.5" ry="0.8" transform="rotate(27.1 727.4 523.5)"/><ellipse cx="724.7" cy="525.4" rx="1.5" ry="0.8" transform="rotate(27 724.7 525.4)"/><ellipse cx="726.8" cy="529.7" rx="1.5" ry="0.8" transform="rotate(27.1 726.8 529.7)"/><ellipse cx="724" cy="531.5" rx="1.5" ry="0.8" transform="rotate(27 724 531.5)"/><ellipse cx="726.2" cy="535.9" rx="1.5" ry="0.8" transform="rotate(27.1 726.2 535.9)"/><ellipse cx="723.4" cy="537.7" rx="1.5" ry="0.8" transform="rotate(27 723.4 537.7)"/><ellipse cx="725.6" cy="542" rx="1.5" ry="0.8" transform="rotate(27.1 725.6 542)"/><ellipse cx="730.2" cy="521.7" rx="1.5" ry="0.8" transform="rotate(27.1 730.2 521.7)"/><ellipse cx="732.3" cy="526" rx="1.5" ry="0.8" transform="rotate(27.2 732.3 526)"/><ellipse cx="729.6" cy="527.9" rx="1.5" ry="0.8" transform="rotate(27.1 729.6 527.9)"/><ellipse cx="731.8" cy="532.2" rx="1.5" ry="0.8" transform="rotate(27.2 731.8 532.2)"/><ellipse cx="729" cy="534" rx="1.5" ry="0.8" transform="rotate(27.1 729 534)"/><ellipse cx="731.3" cy="538.4" rx="1.5" ry="0.8" transform="rotate(27.2 731.3 538.4)"/><ellipse cx="728.5" cy="540.2" rx="1.5" ry="0.8" transform="rotate(27.1 728.5 540.2)"/><ellipse cx="735" cy="524.1" rx="1.5" ry="0.8" transform="rotate(27.2 735 524.1)"/><ellipse cx="737.2" cy="528.5" rx="1.5" ry="0.8" transform="rotate(27.3 737.2 528.5)"/><ellipse cx="734.5" cy="530.3" rx="1.5" ry="0.8" transform="rotate(27.2 734.5 530.3)"/><ellipse cx="736.8" cy="534.7" rx="1.5" ry="0.8" transform="rotate(27.3 736.8 534.7)"/><ellipse cx="734.1" cy="536.5" rx="1.5" ry="0.8" transform="rotate(27.2 734.1 536.5)"/><ellipse cx="736.4" cy="540.9" rx="1.5" ry="0.8" transform="rotate(27.3 736.4 540.9)"/><ellipse cx="733.6" cy="542.7" rx="1.5" ry="0.8" transform="rotate(27.2 733.6 542.7)"/><ellipse cx="739.8" cy="526.6" rx="1.5" ry="0.8" transform="rotate(27.3 739.8 526.6)"/><ellipse cx="742.1" cy="531" rx="1.5" ry="0.8" transform="rotate(27.3 742.1 531)"/><ellipse cx="739.5" cy="532.8" rx="1.5" ry="0.8" transform="rotate(27.3 739.5 532.8)"/><ellipse cx="741.8" cy="537.2" rx="1.5" ry="0.8" transform="rotate(27.3 741.8 537.2)"/><ellipse cx="739.1" cy="539" rx="1.5" ry="0.8" transform="rotate(27.3 739.1 539)"/><ellipse cx="741.5" cy="543.4" rx="1.5" ry="0.8" transform="rotate(27.3 741.5 543.4)"/><ellipse cx="744.7" cy="529.1" rx="1.5" ry="0.8" transform="rotate(27.2 744.7 529.1)"/><ellipse cx="747" cy="533.4" rx="1.5" ry="0.8" transform="rotate(27.1 747 533.4)"/><ellipse cx="744.5" cy="535.3" rx="1.5" ry="0.8" transform="rotate(27.2 744.5 535.3)"/><ellipse cx="746.9" cy="539.6" rx="1.5" ry="0.8" transform="rotate(27.1 746.9 539.6)"/><ellipse cx="744.3" cy="541.5" rx="1.5" ry="0.8" transform="rotate(27.2 744.3 541.5)"/><ellipse cx="749.5" cy="531.6" rx="1.5" ry="0.8" transform="rotate(26.8 749.5 531.6)"/><ellipse cx="749.5" cy="537.8" rx="1.5" ry="0.8" transform="rotate(26.8 749.5 537.8)"/><ellipse cx="749.5" cy="544" rx="1.5" ry="0.8" transform="rotate(26.8 749.5 544)"/></g>
<g fill="#3d424a" mask="url(#dkmask)" opacity="0.85"><ellipse cx="541.9" cy="487.9" rx="1.5" ry="0.8" transform="rotate(15.8 541.9 487.9)"/><ellipse cx="544.2" cy="491.6" rx="1.5" ry="0.8" transform="rotate(14 544.2 491.6)"/><ellipse cx="541.4" cy="494" rx="1.5" ry="0.8" transform="rotate(15.8 541.4 494)"/><ellipse cx="543.7" cy="497.8" rx="1.5" ry="0.8" transform="rotate(14 543.7 497.8)"/><ellipse cx="540.8" cy="500.2" rx="1.5" ry="0.8" transform="rotate(15.8 540.8 500.2)"/><ellipse cx="547.1" cy="489.2" rx="1.5" ry="0.8" transform="rotate(12.9 547.1 489.2)"/><ellipse cx="549.4" cy="492.9" rx="1.5" ry="0.8" transform="rotate(11.7 549.4 492.9)"/><ellipse cx="546.5" cy="495.4" rx="1.5" ry="0.8" transform="rotate(12.9 546.5 495.4)"/><ellipse cx="548.8" cy="499" rx="1.5" ry="0.8" transform="rotate(11.7 548.8 499)"/><ellipse cx="545.9" cy="501.5" rx="1.5" ry="0.8" transform="rotate(12.9 545.9 501.5)"/><ellipse cx="552.4" cy="490.3" rx="1.5" ry="0.8" transform="rotate(10.5 552.4 490.3)"/><ellipse cx="554.7" cy="493.8" rx="1.5" ry="0.8" transform="rotate(9.4 554.7 493.8)"/><ellipse cx="551.7" cy="496.5" rx="1.5" ry="0.8" transform="rotate(10.5 551.7 496.5)"/><ellipse cx="554" cy="500" rx="1.5" ry="0.8" transform="rotate(9.4 554 500)"/><ellipse cx="551" cy="502.6" rx="1.5" ry="0.8" transform="rotate(10.5 551 502.6)"/><ellipse cx="553.2" cy="506.1" rx="1.5" ry="0.8" transform="rotate(9.4 553.2 506.1)"/><ellipse cx="557.7" cy="491.2" rx="1.5" ry="0.8" transform="rotate(8.3 557.7 491.2)"/><ellipse cx="560" cy="494.6" rx="1.5" ry="0.8" transform="rotate(6.7 560 494.6)"/><ellipse cx="557" cy="497.3" rx="1.5" ry="0.8" transform="rotate(8.3 557 497.3)"/><ellipse cx="559.2" cy="500.7" rx="1.5" ry="0.8" transform="rotate(6.7 559.2 500.7)"/><ellipse cx="556.2" cy="503.5" rx="1.5" ry="0.8" transform="rotate(8.3 556.2 503.5)"/><ellipse cx="558.4" cy="506.9" rx="1.5" ry="0.8" transform="rotate(6.7 558.4 506.9)"/><ellipse cx="563.1" cy="491.8" rx="1.5" ry="0.8" transform="rotate(6.1 563.1 491.8)"/><ellipse cx="565.3" cy="495.2" rx="1.5" ry="0.8" transform="rotate(5.5 565.3 495.2)"/><ellipse cx="562.2" cy="498" rx="1.5" ry="0.8" transform="rotate(6.1 562.2 498)"/><ellipse cx="564.5" cy="501.3" rx="1.5" ry="0.8" transform="rotate(5.5 564.5 501.3)"/><ellipse cx="561.4" cy="504.1" rx="1.5" ry="0.8" transform="rotate(6.1 561.4 504.1)"/><ellipse cx="563.6" cy="507.5" rx="1.5" ry="0.8" transform="rotate(5.5 563.6 507.5)"/><ellipse cx="568.4" cy="492.3" rx="1.5" ry="0.8" transform="rotate(5.1 568.4 492.3)"/><ellipse cx="570.7" cy="495.6" rx="1.5" ry="0.8" transform="rotate(4.8 570.7 495.6)"/><ellipse cx="567.5" cy="498.5" rx="1.5" ry="0.8" transform="rotate(5.1 567.5 498.5)"/><ellipse cx="569.8" cy="501.8" rx="1.5" ry="0.8" transform="rotate(4.8 569.8 501.8)"/><ellipse cx="566.7" cy="504.6" rx="1.5" ry="0.8" transform="rotate(5.1 566.7 504.6)"/><ellipse cx="568.9" cy="507.9" rx="1.5" ry="0.8" transform="rotate(4.8 568.9 507.9)"/><ellipse cx="565.8" cy="510.8" rx="1.5" ry="0.8" transform="rotate(5.1 565.8 510.8)"/><ellipse cx="573.8" cy="492.8" rx="1.5" ry="0.8" transform="rotate(4.6 573.8 492.8)"/><ellipse cx="576" cy="496.1" rx="1.5" ry="0.8" transform="rotate(4.6 576 496.1)"/><ellipse cx="572.9" cy="498.9" rx="1.5" ry="0.8" transform="rotate(4.6 572.9 498.9)"/><ellipse cx="575.1" cy="502.2" rx="1.5" ry="0.8" transform="rotate(4.6 575.1 502.2)"/><ellipse cx="572" cy="505.1" rx="1.5" ry="0.8" transform="rotate(4.6 572 505.1)"/><ellipse cx="574.2" cy="508.3" rx="1.5" ry="0.8" transform="rotate(4.6 574.2 508.3)"/><ellipse cx="571.1" cy="511.2" rx="1.5" ry="0.8" transform="rotate(4.6 571.1 511.2)"/><ellipse cx="573.2" cy="514.5" rx="1.5" ry="0.8" transform="rotate(4.6 573.2 514.5)"/><ellipse cx="579.2" cy="493.2" rx="1.5" ry="0.8" transform="rotate(4.7 579.2 493.2)"/><ellipse cx="581.4" cy="496.5" rx="1.5" ry="0.8" transform="rotate(4.4 581.4 496.5)"/><ellipse cx="578.2" cy="499.4" rx="1.5" ry="0.8" transform="rotate(4.7 578.2 499.4)"/><ellipse cx="580.4" cy="502.6" rx="1.5" ry="0.8" transform="rotate(4.4 580.4 502.6)"/><ellipse cx="577.3" cy="505.5" rx="1.5" ry="0.8" transform="rotate(4.7 577.3 505.5)"/><ellipse cx="579.4" cy="508.8" rx="1.5" ry="0.8" transform="rotate(4.4 579.4 508.8)"/><ellipse cx="576.3" cy="511.6" rx="1.5" ry="0.8" transform="rotate(4.7 576.3 511.6)"/><ellipse cx="578.5" cy="514.9" rx="1.5" ry="0.8" transform="rotate(4.4 578.5 514.9)"/><ellipse cx="584.5" cy="493.7" rx="1.5" ry="0.8" transform="rotate(4.1 584.5 493.7)"/><ellipse cx="586.7" cy="496.9" rx="1.5" ry="0.8" transform="rotate(3.8 586.7 496.9)"/><ellipse cx="583.6" cy="499.8" rx="1.5" ry="0.8" transform="rotate(4.1 583.6 499.8)"/><ellipse cx="585.7" cy="503" rx="1.5" ry="0.8" transform="rotate(3.8 585.7 503)"/><ellipse cx="582.6" cy="505.9" rx="1.5" ry="0.8" transform="rotate(4.1 582.6 505.9)"/><ellipse cx="584.8" cy="509.1" rx="1.5" ry="0.8" transform="rotate(3.8 584.8 509.1)"/><ellipse cx="581.6" cy="512" rx="1.5" ry="0.8" transform="rotate(4.1 581.6 512)"/><ellipse cx="583.8" cy="515.3" rx="1.5" ry="0.8" transform="rotate(3.8 583.8 515.3)"/><ellipse cx="589.9" cy="494" rx="1.5" ry="0.8" transform="rotate(3.5 589.9 494)"/><ellipse cx="592.1" cy="497.2" rx="1.5" ry="0.8" transform="rotate(3.2 592.1 497.2)"/><ellipse cx="588.9" cy="500.1" rx="1.5" ry="0.8" transform="rotate(3.5 588.9 500.1)"/><ellipse cx="591.1" cy="503.3" rx="1.5" ry="0.8" transform="rotate(3.2 591.1 503.3)"/><ellipse cx="587.9" cy="506.2" rx="1.5" ry="0.8" transform="rotate(3.5 587.9 506.2)"/><ellipse cx="590.1" cy="509.5" rx="1.5" ry="0.8" transform="rotate(3.2 590.1 509.5)"/><ellipse cx="586.9" cy="512.4" rx="1.5" ry="0.8" transform="rotate(3.5 586.9 512.4)"/><ellipse cx="589.1" cy="515.6" rx="1.5" ry="0.8" transform="rotate(3.2 589.1 515.6)"/><ellipse cx="585.9" cy="518.5" rx="1.5" ry="0.8" transform="rotate(3.5 585.9 518.5)"/><ellipse cx="595.3" cy="494.3" rx="1.5" ry="0.8" transform="rotate(2.9 595.3 494.3)"/><ellipse cx="597.5" cy="497.5" rx="1.5" ry="0.8" transform="rotate(2.3 597.5 497.5)"/><ellipse cx="594.3" cy="500.4" rx="1.5" ry="0.8" transform="rotate(2.9 594.3 500.4)"/><ellipse cx="596.5" cy="503.6" rx="1.5" ry="0.8" transform="rotate(2.3 596.5 503.6)"/><ellipse cx="593.3" cy="506.5" rx="1.5" ry="0.8" transform="rotate(2.9 593.3 506.5)"/><ellipse cx="595.4" cy="509.7" rx="1.5" ry="0.8" transform="rotate(2.3 595.4 509.7)"/><ellipse cx="592.2" cy="512.7" rx="1.5" ry="0.8" transform="rotate(2.9 592.2 512.7)"/><ellipse cx="594.4" cy="515.8" rx="1.5" ry="0.8" transform="rotate(2.3 594.4 515.8)"/><ellipse cx="591.2" cy="518.8" rx="1.5" ry="0.8" transform="rotate(2.9 591.2 518.8)"/><ellipse cx="593.4" cy="521.9" rx="1.5" ry="0.8" transform="rotate(2.3 593.4 521.9)"/><ellipse cx="600.7" cy="494.5" rx="1.5" ry="0.8" transform="rotate(2 600.7 494.5)"/><ellipse cx="602.9" cy="497.7" rx="1.5" ry="0.8" transform="rotate(1.7 602.9 497.7)"/><ellipse cx="599.7" cy="500.6" rx="1.5" ry="0.8" transform="rotate(2 599.7 500.6)"/><ellipse cx="601.8" cy="503.8" rx="1.5" ry="0.8" transform="rotate(1.7 601.8 503.8)"/><ellipse cx="598.6" cy="506.8" rx="1.5" ry="0.8" transform="rotate(2 598.6 506.8)"/><ellipse cx="600.8" cy="509.9" rx="1.5" ry="0.8" transform="rotate(1.7 600.8 509.9)"/><ellipse cx="597.6" cy="512.9" rx="1.5" ry="0.8" transform="rotate(2 597.6 512.9)"/><ellipse cx="599.8" cy="516" rx="1.5" ry="0.8" transform="rotate(1.7 599.8 516)"/><ellipse cx="596.6" cy="519" rx="1.5" ry="0.8" transform="rotate(2 596.6 519)"/><ellipse cx="598.7" cy="522.1" rx="1.5" ry="0.8" transform="rotate(1.7 598.7 522.1)"/><ellipse cx="606.1" cy="494.7" rx="1.5" ry="0.8" transform="rotate(1.4 606.1 494.7)"/><ellipse cx="608.3" cy="497.8" rx="1.5" ry="0.8" transform="rotate(1.1 608.3 497.8)"/><ellipse cx="605" cy="500.8" rx="1.5" ry="0.8" transform="rotate(1.4 605 500.8)"/><ellipse cx="607.2" cy="503.9" rx="1.5" ry="0.8" transform="rotate(1.1 607.2 503.9)"/><ellipse cx="604" cy="506.9" rx="1.5" ry="0.8" transform="rotate(1.4 604 506.9)"/><ellipse cx="606.2" cy="510" rx="1.5" ry="0.8" transform="rotate(1.1 606.2 510)"/><ellipse cx="603" cy="513" rx="1.5" ry="0.8" transform="rotate(1.4 603 513)"/><ellipse cx="605.1" cy="516.1" rx="1.5" ry="0.8" transform="rotate(1.1 605.1 516.1)"/><ellipse cx="601.9" cy="519.1" rx="1.5" ry="0.8" transform="rotate(1.4 601.9 519.1)"/><ellipse cx="604.1" cy="522.3" rx="1.5" ry="0.8" transform="rotate(1.1 604.1 522.3)"/><ellipse cx="611.5" cy="494.8" rx="1.5" ry="0.8" transform="rotate(0.6 611.5 494.8)"/><ellipse cx="613.7" cy="497.9" rx="1.5" ry="0.8" transform="rotate(0 613.7 497.9)"/><ellipse cx="610.4" cy="500.9" rx="1.5" ry="0.8" transform="rotate(0.6 610.4 500.9)"/><ellipse cx="612.6" cy="504" rx="1.5" ry="0.8" transform="rotate(0 612.6 504)"/><ellipse cx="609.4" cy="507" rx="1.5" ry="0.8" transform="rotate(0.6 609.4 507)"/><ellipse cx="611.6" cy="510.1" rx="1.5" ry="0.8" transform="rotate(0 611.6 510.1)"/><ellipse cx="608.4" cy="513.1" rx="1.5" ry="0.8" transform="rotate(0.6 608.4 513.1)"/><ellipse cx="610.5" cy="516.2" rx="1.5" ry="0.8" transform="rotate(0 610.5 516.2)"/><ellipse cx="607.3" cy="519.2" rx="1.5" ry="0.8" transform="rotate(0.6 607.3 519.2)"/><ellipse cx="609.5" cy="522.3" rx="1.5" ry="0.8" transform="rotate(0 609.5 522.3)"/><ellipse cx="606.3" cy="525.4" rx="1.5" ry="0.8" transform="rotate(0.6 606.3 525.4)"/><ellipse cx="616.9" cy="494.8" rx="1.5" ry="0.8" transform="rotate(-0.9 616.9 494.8)"/><ellipse cx="619.1" cy="497.8" rx="1.5" ry="0.8" transform="rotate(-1.3 619.1 497.8)"/><ellipse cx="615.9" cy="500.9" rx="1.5" ry="0.8" transform="rotate(-0.9 615.9 500.9)"/><ellipse cx="618" cy="503.9" rx="1.5" ry="0.8" transform="rotate(-1.3 618 503.9)"/><ellipse cx="614.8" cy="507" rx="1.5" ry="0.8" transform="rotate(-0.9 614.8 507)"/><ellipse cx="617" cy="510" rx="1.5" ry="0.8" transform="rotate(-1.3 617 510)"/><ellipse cx="613.8" cy="513.1" rx="1.5" ry="0.8" transform="rotate(-0.9 613.8 513.1)"/><ellipse cx="616" cy="516.1" rx="1.5" ry="0.8" transform="rotate(-1.3 616 516.1)"/><ellipse cx="612.7" cy="519.2" rx="1.5" ry="0.8" transform="rotate(-0.9 612.7 519.2)"/><ellipse cx="614.9" cy="522.2" rx="1.5" ry="0.8" transform="rotate(-1.3 614.9 522.2)"/><ellipse cx="611.7" cy="525.3" rx="1.5" ry="0.8" transform="rotate(-0.9 611.7 525.3)"/><ellipse cx="622.3" cy="494.7" rx="1.5" ry="0.8" transform="rotate(-1.5 622.3 494.7)"/><ellipse cx="624.5" cy="497.6" rx="1.5" ry="0.8" transform="rotate(-1.6 624.5 497.6)"/><ellipse cx="621.3" cy="500.8" rx="1.5" ry="0.8" transform="rotate(-1.5 621.3 500.8)"/><ellipse cx="623.5" cy="503.8" rx="1.5" ry="0.8" transform="rotate(-1.6 623.5 503.8)"/><ellipse cx="620.2" cy="506.9" rx="1.5" ry="0.8" transform="rotate(-1.5 620.2 506.9)"/><ellipse cx="622.4" cy="509.9" rx="1.5" ry="0.8" transform="rotate(-1.6 622.4 509.9)"/><ellipse cx="619.2" cy="513" rx="1.5" ry="0.8" transform="rotate(-1.5 619.2 513)"/><ellipse cx="621.4" cy="516" rx="1.5" ry="0.8" transform="rotate(-1.6 621.4 516)"/><ellipse cx="618.2" cy="519.1" rx="1.5" ry="0.8" transform="rotate(-1.5 618.2 519.1)"/><ellipse cx="620.4" cy="522.1" rx="1.5" ry="0.8" transform="rotate(-1.6 620.4 522.1)"/><ellipse cx="617.1" cy="525.2" rx="1.5" ry="0.8" transform="rotate(-1.5 617.1 525.2)"/><ellipse cx="619.4" cy="528.2" rx="1.5" ry="0.8" transform="rotate(-1.6 619.4 528.2)"/><ellipse cx="627.7" cy="494.5" rx="1.5" ry="0.8" transform="rotate(-1.7 627.7 494.5)"/><ellipse cx="629.9" cy="497.5" rx="1.5" ry="0.8" transform="rotate(-1.6 629.9 497.5)"/><ellipse cx="626.7" cy="500.6" rx="1.5" ry="0.8" transform="rotate(-1.7 626.7 500.6)"/><ellipse cx="628.9" cy="503.6" rx="1.5" ry="0.8" transform="rotate(-1.6 628.9 503.6)"/><ellipse cx="625.7" cy="506.7" rx="1.5" ry="0.8" transform="rotate(-1.7 625.7 506.7)"/><ellipse cx="627.9" cy="509.7" rx="1.5" ry="0.8" transform="rotate(-1.6 627.9 509.7)"/><ellipse cx="624.6" cy="512.9" rx="1.5" ry="0.8" transform="rotate(-1.7 624.6 512.9)"/><ellipse cx="626.8" cy="515.8" rx="1.5" ry="0.8" transform="rotate(-1.6 626.8 515.8)"/><ellipse cx="623.6" cy="519" rx="1.5" ry="0.8" transform="rotate(-1.7 623.6 519)"/><ellipse cx="625.8" cy="522" rx="1.5" ry="0.8" transform="rotate(-1.6 625.8 522)"/><ellipse cx="622.6" cy="525.1" rx="1.5" ry="0.8" transform="rotate(-1.7 622.6 525.1)"/><ellipse cx="624.8" cy="528.1" rx="1.5" ry="0.8" transform="rotate(-1.6 624.8 528.1)"/><ellipse cx="633.1" cy="494.4" rx="1.5" ry="0.8" transform="rotate(-1.4 633.1 494.4)"/><ellipse cx="635.3" cy="497.4" rx="1.5" ry="0.8" transform="rotate(-0.7 635.3 497.4)"/><ellipse cx="632.1" cy="500.5" rx="1.5" ry="0.8" transform="rotate(-1.4 632.1 500.5)"/><ellipse cx="634.3" cy="503.5" rx="1.5" ry="0.8" transform="rotate(-0.7 634.3 503.5)"/><ellipse cx="631.1" cy="506.6" rx="1.5" ry="0.8" transform="rotate(-1.4 631.1 506.6)"/><ellipse cx="633.3" cy="509.6" rx="1.5" ry="0.8" transform="rotate(-0.7 633.3 509.6)"/><ellipse cx="630.1" cy="512.7" rx="1.5" ry="0.8" transform="rotate(-1.4 630.1 512.7)"/><ellipse cx="632.3" cy="515.7" rx="1.5" ry="0.8" transform="rotate(-0.7 632.3 515.7)"/><ellipse cx="629.1" cy="518.8" rx="1.5" ry="0.8" transform="rotate(-1.4 629.1 518.8)"/><ellipse cx="631.3" cy="521.8" rx="1.5" ry="0.8" transform="rotate(-0.7 631.3 521.8)"/><ellipse cx="628" cy="525" rx="1.5" ry="0.8" transform="rotate(-1.4 628 525)"/><ellipse cx="630.3" cy="528" rx="1.5" ry="0.8" transform="rotate(-0.7 630.3 528)"/><ellipse cx="638.5" cy="494.3" rx="1.5" ry="0.8" transform="rotate(-0.3 638.5 494.3)"/><ellipse cx="640.7" cy="497.3" rx="1.5" ry="0.8" transform="rotate(-1 640.7 497.3)"/><ellipse cx="637.5" cy="500.4" rx="1.5" ry="0.8" transform="rotate(-0.3 637.5 500.4)"/><ellipse cx="639.7" cy="503.4" rx="1.5" ry="0.8" transform="rotate(-1 639.7 503.4)"/><ellipse cx="636.5" cy="506.5" rx="1.5" ry="0.8" transform="rotate(-0.3 636.5 506.5)"/><ellipse cx="638.7" cy="509.6" rx="1.5" ry="0.8" transform="rotate(-1 638.7 509.6)"/><ellipse cx="635.5" cy="512.6" rx="1.5" ry="0.8" transform="rotate(-0.3 635.5 512.6)"/><ellipse cx="637.7" cy="515.7" rx="1.5" ry="0.8" transform="rotate(-1 637.7 515.7)"/><ellipse cx="634.5" cy="518.8" rx="1.5" ry="0.8" transform="rotate(-0.3 634.5 518.8)"/><ellipse cx="636.7" cy="521.8" rx="1.5" ry="0.8" transform="rotate(-1 636.7 521.8)"/><ellipse cx="633.5" cy="524.9" rx="1.5" ry="0.8" transform="rotate(-0.3 633.5 524.9)"/><ellipse cx="635.7" cy="527.9" rx="1.5" ry="0.8" transform="rotate(-1 635.7 527.9)"/><ellipse cx="632.5" cy="531" rx="1.5" ry="0.8" transform="rotate(-0.3 632.5 531)"/><ellipse cx="643.9" cy="494.2" rx="1.5" ry="0.8" transform="rotate(-2.3 643.9 494.2)"/><ellipse cx="646.1" cy="497.1" rx="1.5" ry="0.8" transform="rotate(-3.1 646.1 497.1)"/><ellipse cx="642.9" cy="500.3" rx="1.5" ry="0.8" transform="rotate(-2.3 642.9 500.3)"/><ellipse cx="645.1" cy="503.2" rx="1.5" ry="0.8" transform="rotate(-3.1 645.1 503.2)"/><ellipse cx="641.9" cy="506.4" rx="1.5" ry="0.8" transform="rotate(-2.3 641.9 506.4)"/><ellipse cx="644.1" cy="509.3" rx="1.5" ry="0.8" transform="rotate(-3.1 644.1 509.3)"/><ellipse cx="640.9" cy="512.5" rx="1.5" ry="0.8" transform="rotate(-2.3 640.9 512.5)"/><ellipse cx="643.1" cy="515.5" rx="1.5" ry="0.8" transform="rotate(-3.1 643.1 515.5)"/><ellipse cx="639.9" cy="518.7" rx="1.5" ry="0.8" transform="rotate(-2.3 639.9 518.7)"/><ellipse cx="642.1" cy="521.6" rx="1.5" ry="0.8" transform="rotate(-3.1 642.1 521.6)"/><ellipse cx="638.9" cy="524.8" rx="1.5" ry="0.8" transform="rotate(-2.3 638.9 524.8)"/><ellipse cx="641.2" cy="527.7" rx="1.5" ry="0.8" transform="rotate(-3.1 641.2 527.7)"/><ellipse cx="637.9" cy="530.9" rx="1.5" ry="0.8" transform="rotate(-2.3 637.9 530.9)"/><ellipse cx="649.3" cy="493.9" rx="1.5" ry="0.8" transform="rotate(-3.2 649.3 493.9)"/><ellipse cx="651.5" cy="496.8" rx="1.5" ry="0.8" transform="rotate(-1.4 651.5 496.8)"/><ellipse cx="648.3" cy="500" rx="1.5" ry="0.8" transform="rotate(-3.2 648.3 500)"/><ellipse cx="650.5" cy="502.9" rx="1.5" ry="0.8" transform="rotate(-1.4 650.5 502.9)"/><ellipse cx="647.3" cy="506.1" rx="1.5" ry="0.8" transform="rotate(-3.2 647.3 506.1)"/><ellipse cx="649.6" cy="509.1" rx="1.5" ry="0.8" transform="rotate(-1.4 649.6 509.1)"/><ellipse cx="646.3" cy="512.3" rx="1.5" ry="0.8" transform="rotate(-3.2 646.3 512.3)"/><ellipse cx="648.6" cy="515.2" rx="1.5" ry="0.8" transform="rotate(-1.4 648.6 515.2)"/><ellipse cx="645.4" cy="518.4" rx="1.5" ry="0.8" transform="rotate(-3.2 645.4 518.4)"/><ellipse cx="647.6" cy="521.3" rx="1.5" ry="0.8" transform="rotate(-1.4 647.6 521.3)"/><ellipse cx="644.4" cy="524.5" rx="1.5" ry="0.8" transform="rotate(-3.2 644.4 524.5)"/><ellipse cx="646.6" cy="527.4" rx="1.5" ry="0.8" transform="rotate(-1.4 646.6 527.4)"/><ellipse cx="643.4" cy="530.6" rx="1.5" ry="0.8" transform="rotate(-3.2 643.4 530.6)"/><ellipse cx="654.7" cy="493.7" rx="1.5" ry="0.8" transform="rotate(0.4 654.7 493.7)"/><ellipse cx="656.9" cy="496.8" rx="1.5" ry="0.8" transform="rotate(2.8 656.9 496.8)"/><ellipse cx="653.7" cy="499.8" rx="1.5" ry="0.8" transform="rotate(0.4 653.7 499.8)"/><ellipse cx="655.9" cy="502.9" rx="1.5" ry="0.8" transform="rotate(2.8 655.9 502.9)"/><ellipse cx="652.7" cy="506" rx="1.5" ry="0.8" transform="rotate(0.4 652.7 506)"/><ellipse cx="655" cy="509.1" rx="1.5" ry="0.8" transform="rotate(2.8 655 509.1)"/><ellipse cx="651.8" cy="512.1" rx="1.5" ry="0.8" transform="rotate(0.4 651.8 512.1)"/><ellipse cx="654" cy="515.2" rx="1.5" ry="0.8" transform="rotate(2.8 654 515.2)"/><ellipse cx="650.8" cy="518.2" rx="1.5" ry="0.8" transform="rotate(0.4 650.8 518.2)"/><ellipse cx="653" cy="521.3" rx="1.5" ry="0.8" transform="rotate(2.8 653 521.3)"/><ellipse cx="649.8" cy="524.3" rx="1.5" ry="0.8" transform="rotate(0.4 649.8 524.3)"/><ellipse cx="652" cy="527.4" rx="1.5" ry="0.8" transform="rotate(2.8 652 527.4)"/><ellipse cx="648.9" cy="530.5" rx="1.5" ry="0.8" transform="rotate(0.4 648.9 530.5)"/><ellipse cx="651.1" cy="533.6" rx="1.5" ry="0.8" transform="rotate(2.8 651.1 533.6)"/><ellipse cx="660.1" cy="493.9" rx="1.5" ry="0.8" transform="rotate(5.4 660.1 493.9)"/><ellipse cx="662.3" cy="497.3" rx="1.5" ry="0.8" transform="rotate(8.2 662.3 497.3)"/><ellipse cx="659.1" cy="500.1" rx="1.5" ry="0.8" transform="rotate(5.4 659.1 500.1)"/><ellipse cx="661.3" cy="503.5" rx="1.5" ry="0.8" transform="rotate(8.2 661.3 503.5)"/><ellipse cx="658.1" cy="506.2" rx="1.5" ry="0.8" transform="rotate(5.4 658.1 506.2)"/><ellipse cx="660.3" cy="509.6" rx="1.5" ry="0.8" transform="rotate(8.2 660.3 509.6)"/><ellipse cx="657.2" cy="512.3" rx="1.5" ry="0.8" transform="rotate(5.4 657.2 512.3)"/><ellipse cx="659.4" cy="515.7" rx="1.5" ry="0.8" transform="rotate(8.2 659.4 515.7)"/><ellipse cx="656.2" cy="518.4" rx="1.5" ry="0.8" transform="rotate(5.4 656.2 518.4)"/><ellipse cx="658.4" cy="521.8" rx="1.5" ry="0.8" transform="rotate(8.2 658.4 521.8)"/><ellipse cx="655.2" cy="524.6" rx="1.5" ry="0.8" transform="rotate(5.4 655.2 524.6)"/><ellipse cx="657.4" cy="527.9" rx="1.5" ry="0.8" transform="rotate(8.2 657.4 527.9)"/><ellipse cx="654.3" cy="530.7" rx="1.5" ry="0.8" transform="rotate(5.4 654.3 530.7)"/><ellipse cx="656.4" cy="534.1" rx="1.5" ry="0.8" transform="rotate(8.2 656.4 534.1)"/><ellipse cx="665.4" cy="494.7" rx="1.5" ry="0.8" transform="rotate(10.7 665.4 494.7)"/><ellipse cx="667.6" cy="498.4" rx="1.5" ry="0.8" transform="rotate(12.6 667.6 498.4)"/><ellipse cx="664.4" cy="500.9" rx="1.5" ry="0.8" transform="rotate(10.7 664.4 500.9)"/><ellipse cx="666.6" cy="504.5" rx="1.5" ry="0.8" transform="rotate(12.6 666.6 504.5)"/><ellipse cx="663.5" cy="507" rx="1.5" ry="0.8" transform="rotate(10.7 663.5 507)"/><ellipse cx="665.6" cy="510.6" rx="1.5" ry="0.8" transform="rotate(12.6 665.6 510.6)"/><ellipse cx="662.5" cy="513.1" rx="1.5" ry="0.8" transform="rotate(10.7 662.5 513.1)"/><ellipse cx="664.6" cy="516.7" rx="1.5" ry="0.8" transform="rotate(12.6 664.6 516.7)"/><ellipse cx="661.5" cy="519.2" rx="1.5" ry="0.8" transform="rotate(10.7 661.5 519.2)"/><ellipse cx="663.7" cy="522.9" rx="1.5" ry="0.8" transform="rotate(12.6 663.7 522.9)"/><ellipse cx="660.5" cy="525.3" rx="1.5" ry="0.8" transform="rotate(10.7 660.5 525.3)"/><ellipse cx="662.7" cy="529" rx="1.5" ry="0.8" transform="rotate(12.6 662.7 529)"/><ellipse cx="659.6" cy="531.5" rx="1.5" ry="0.8" transform="rotate(10.7 659.6 531.5)"/><ellipse cx="661.7" cy="535.1" rx="1.5" ry="0.8" transform="rotate(12.6 661.7 535.1)"/><ellipse cx="670.7" cy="496" rx="1.5" ry="0.8" transform="rotate(15.3 670.7 496)"/><ellipse cx="672.8" cy="499.7" rx="1.5" ry="0.8" transform="rotate(16.4 672.8 499.7)"/><ellipse cx="669.7" cy="502.1" rx="1.5" ry="0.8" transform="rotate(15.3 669.7 502.1)"/><ellipse cx="671.8" cy="505.9" rx="1.5" ry="0.8" transform="rotate(16.4 671.8 505.9)"/><ellipse cx="668.7" cy="508.2" rx="1.5" ry="0.8" transform="rotate(15.3 668.7 508.2)"/><ellipse cx="670.8" cy="512" rx="1.5" ry="0.8" transform="rotate(16.4 670.8 512)"/><ellipse cx="667.7" cy="514.3" rx="1.5" ry="0.8" transform="rotate(15.3 667.7 514.3)"/><ellipse cx="669.9" cy="518.1" rx="1.5" ry="0.8" transform="rotate(16.4 669.9 518.1)"/><ellipse cx="666.8" cy="520.4" rx="1.5" ry="0.8" transform="rotate(15.3 666.8 520.4)"/><ellipse cx="668.9" cy="524.2" rx="1.5" ry="0.8" transform="rotate(16.4 668.9 524.2)"/><ellipse cx="665.8" cy="526.6" rx="1.5" ry="0.8" transform="rotate(15.3 665.8 526.6)"/><ellipse cx="667.9" cy="530.3" rx="1.5" ry="0.8" transform="rotate(16.4 667.9 530.3)"/><ellipse cx="664.8" cy="532.7" rx="1.5" ry="0.8" transform="rotate(15.3 664.8 532.7)"/><ellipse cx="675.9" cy="497.5" rx="1.5" ry="0.8" transform="rotate(17.6 675.9 497.5)"/><ellipse cx="677.9" cy="501.3" rx="1.5" ry="0.8" transform="rotate(18.5 677.9 501.3)"/><ellipse cx="674.9" cy="503.6" rx="1.5" ry="0.8" transform="rotate(17.6 674.9 503.6)"/><ellipse cx="677" cy="507.5" rx="1.5" ry="0.8" transform="rotate(18.5 677 507.5)"/><ellipse cx="673.9" cy="509.7" rx="1.5" ry="0.8" transform="rotate(17.6 673.9 509.7)"/><ellipse cx="676" cy="513.6" rx="1.5" ry="0.8" transform="rotate(18.5 676 513.6)"/><ellipse cx="672.9" cy="515.8" rx="1.5" ry="0.8" transform="rotate(17.6 672.9 515.8)"/><ellipse cx="675" cy="519.7" rx="1.5" ry="0.8" transform="rotate(18.5 675 519.7)"/><ellipse cx="672" cy="521.9" rx="1.5" ry="0.8" transform="rotate(17.6 672 521.9)"/><ellipse cx="674" cy="525.8" rx="1.5" ry="0.8" transform="rotate(18.5 674 525.8)"/><ellipse cx="671" cy="528.1" rx="1.5" ry="0.8" transform="rotate(17.6 671 528.1)"/><ellipse cx="673.1" cy="532" rx="1.5" ry="0.8" transform="rotate(18.5 673.1 532)"/><ellipse cx="670" cy="534.2" rx="1.5" ry="0.8" transform="rotate(17.6 670 534.2)"/><ellipse cx="681" cy="499.2" rx="1.5" ry="0.8" transform="rotate(19.5 681 499.2)"/><ellipse cx="683" cy="503.2" rx="1.5" ry="0.8" transform="rotate(20.3 683 503.2)"/><ellipse cx="680" cy="505.3" rx="1.5" ry="0.8" transform="rotate(19.5 680 505.3)"/><ellipse cx="682.1" cy="509.3" rx="1.5" ry="0.8" transform="rotate(20.3 682.1 509.3)"/><ellipse cx="679" cy="511.4" rx="1.5" ry="0.8" transform="rotate(19.5 679 511.4)"/><ellipse cx="681.1" cy="515.4" rx="1.5" ry="0.8" transform="rotate(20.3 681.1 515.4)"/><ellipse cx="678.1" cy="517.5" rx="1.5" ry="0.8" transform="rotate(19.5 678.1 517.5)"/><ellipse cx="680.1" cy="521.5" rx="1.5" ry="0.8" transform="rotate(20.3 680.1 521.5)"/><ellipse cx="677.1" cy="523.7" rx="1.5" ry="0.8" transform="rotate(19.5 677.1 523.7)"/><ellipse cx="679.2" cy="527.7" rx="1.5" ry="0.8" transform="rotate(20.3 679.2 527.7)"/><ellipse cx="676.1" cy="529.8" rx="1.5" ry="0.8" transform="rotate(19.5 676.1 529.8)"/><ellipse cx="678.2" cy="533.8" rx="1.5" ry="0.8" transform="rotate(20.3 678.2 533.8)"/><ellipse cx="675.1" cy="535.9" rx="1.5" ry="0.8" transform="rotate(19.5 675.1 535.9)"/><ellipse cx="686" cy="501.1" rx="1.5" ry="0.8" transform="rotate(20.9 686 501.1)"/><ellipse cx="688.1" cy="505.1" rx="1.5" ry="0.8" transform="rotate(22.1 688.1 505.1)"/><ellipse cx="685.1" cy="507.2" rx="1.5" ry="0.8" transform="rotate(20.9 685.1 507.2)"/><ellipse cx="687.1" cy="511.2" rx="1.5" ry="0.8" transform="rotate(22.1 687.1 511.2)"/><ellipse cx="684.1" cy="513.3" rx="1.5" ry="0.8" transform="rotate(20.9 684.1 513.3)"/><ellipse cx="686.2" cy="517.4" rx="1.5" ry="0.8" transform="rotate(22.1 686.2 517.4)"/><ellipse cx="683.2" cy="519.4" rx="1.5" ry="0.8" transform="rotate(20.9 683.2 519.4)"/><ellipse cx="685.2" cy="523.5" rx="1.5" ry="0.8" transform="rotate(22.1 685.2 523.5)"/><ellipse cx="682.2" cy="525.6" rx="1.5" ry="0.8" transform="rotate(20.9 682.2 525.6)"/><ellipse cx="684.3" cy="529.6" rx="1.5" ry="0.8" transform="rotate(22.1 684.3 529.6)"/><ellipse cx="681.2" cy="531.7" rx="1.5" ry="0.8" transform="rotate(20.9 681.2 531.7)"/><ellipse cx="683.3" cy="535.7" rx="1.5" ry="0.8" transform="rotate(22.1 683.3 535.7)"/><ellipse cx="680.3" cy="537.8" rx="1.5" ry="0.8" transform="rotate(20.9 680.3 537.8)"/><ellipse cx="691.1" cy="503.1" rx="1.5" ry="0.8" transform="rotate(22.6 691.1 503.1)"/><ellipse cx="693.1" cy="507.2" rx="1.5" ry="0.8" transform="rotate(23 693.1 507.2)"/><ellipse cx="690.1" cy="509.2" rx="1.5" ry="0.8" transform="rotate(22.6 690.1 509.2)"/><ellipse cx="692.2" cy="513.3" rx="1.5" ry="0.8" transform="rotate(23 692.2 513.3)"/><ellipse cx="689.2" cy="515.3" rx="1.5" ry="0.8" transform="rotate(22.6 689.2 515.3)"/><ellipse cx="691.2" cy="519.4" rx="1.5" ry="0.8" transform="rotate(23 691.2 519.4)"/><ellipse cx="688.2" cy="521.5" rx="1.5" ry="0.8" transform="rotate(22.6 688.2 521.5)"/><ellipse cx="690.3" cy="525.6" rx="1.5" ry="0.8" transform="rotate(23 690.3 525.6)"/><ellipse cx="687.3" cy="527.6" rx="1.5" ry="0.8" transform="rotate(22.6 687.3 527.6)"/><ellipse cx="689.3" cy="531.7" rx="1.5" ry="0.8" transform="rotate(23 689.3 531.7)"/><ellipse cx="686.3" cy="533.7" rx="1.5" ry="0.8" transform="rotate(22.6 686.3 533.7)"/><ellipse cx="688.4" cy="537.8" rx="1.5" ry="0.8" transform="rotate(23 688.4 537.8)"/><ellipse cx="696" cy="505.2" rx="1.5" ry="0.8" transform="rotate(23.3 696 505.2)"/><ellipse cx="698.1" cy="509.3" rx="1.5" ry="0.8" transform="rotate(23.6 698.1 509.3)"/><ellipse cx="695.1" cy="511.3" rx="1.5" ry="0.8" transform="rotate(23.3 695.1 511.3)"/><ellipse cx="697.2" cy="515.4" rx="1.5" ry="0.8" transform="rotate(23.6 697.2 515.4)"/><ellipse cx="694.2" cy="517.4" rx="1.5" ry="0.8" transform="rotate(23.3 694.2 517.4)"/><ellipse cx="696.2" cy="521.6" rx="1.5" ry="0.8" transform="rotate(23.6 696.2 521.6)"/><ellipse cx="693.3" cy="523.6" rx="1.5" ry="0.8" transform="rotate(23.3 693.3 523.6)"/><ellipse cx="695.3" cy="527.7" rx="1.5" ry="0.8" transform="rotate(23.6 695.3 527.7)"/><ellipse cx="692.3" cy="529.7" rx="1.5" ry="0.8" transform="rotate(23.3 692.3 529.7)"/><ellipse cx="694.4" cy="533.8" rx="1.5" ry="0.8" transform="rotate(23.6 694.4 533.8)"/><ellipse cx="691.4" cy="535.8" rx="1.5" ry="0.8" transform="rotate(23.3 691.4 535.8)"/><ellipse cx="701" cy="507.3" rx="1.5" ry="0.8" transform="rotate(24 701 507.3)"/><ellipse cx="703" cy="511.5" rx="1.5" ry="0.8" transform="rotate(24.6 703 511.5)"/><ellipse cx="700.1" cy="513.5" rx="1.5" ry="0.8" transform="rotate(24 700.1 513.5)"/><ellipse cx="702.1" cy="517.7" rx="1.5" ry="0.8" transform="rotate(24.6 702.1 517.7)"/><ellipse cx="699.2" cy="519.6" rx="1.5" ry="0.8" transform="rotate(24 699.2 519.6)"/><ellipse cx="701.2" cy="523.8" rx="1.5" ry="0.8" transform="rotate(24.6 701.2 523.8)"/><ellipse cx="698.3" cy="525.7" rx="1.5" ry="0.8" transform="rotate(24 698.3 525.7)"/><ellipse cx="700.4" cy="529.9" rx="1.5" ry="0.8" transform="rotate(24.6 700.4 529.9)"/><ellipse cx="697.4" cy="531.9" rx="1.5" ry="0.8" transform="rotate(24 697.4 531.9)"/><ellipse cx="699.5" cy="536.1" rx="1.5" ry="0.8" transform="rotate(24.6 699.5 536.1)"/><ellipse cx="696.5" cy="538" rx="1.5" ry="0.8" transform="rotate(24 696.5 538)"/><ellipse cx="705.9" cy="509.6" rx="1.5" ry="0.8" transform="rotate(25.5 705.9 509.6)"/><ellipse cx="707.9" cy="513.9" rx="1.5" ry="0.8" transform="rotate(25.8 707.9 513.9)"/><ellipse cx="705" cy="515.8" rx="1.5" ry="0.8" transform="rotate(25.5 705 515.8)"/><ellipse cx="707.1" cy="520" rx="1.5" ry="0.8" transform="rotate(25.8 707.1 520)"/><ellipse cx="704.2" cy="521.9" rx="1.5" ry="0.8" transform="rotate(25.5 704.2 521.9)"/><ellipse cx="706.2" cy="526.1" rx="1.5" ry="0.8" transform="rotate(25.8 706.2 526.1)"/><ellipse cx="703.3" cy="528" rx="1.5" ry="0.8" transform="rotate(25.5 703.3 528)"/><ellipse cx="705.4" cy="532.3" rx="1.5" ry="0.8" transform="rotate(25.8 705.4 532.3)"/><ellipse cx="702.4" cy="534.2" rx="1.5" ry="0.8" transform="rotate(25.5 702.4 534.2)"/><ellipse cx="704.5" cy="538.4" rx="1.5" ry="0.8" transform="rotate(25.8 704.5 538.4)"/><ellipse cx="701.6" cy="540.3" rx="1.5" ry="0.8" transform="rotate(25.5 701.6 540.3)"/><ellipse cx="710.8" cy="512" rx="1.5" ry="0.8" transform="rotate(26 710.8 512)"/><ellipse cx="712.8" cy="516.2" rx="1.5" ry="0.8" transform="rotate(26.3 712.8 516.2)"/><ellipse cx="710" cy="518.1" rx="1.5" ry="0.8" transform="rotate(26 710 518.1)"/><ellipse cx="712" cy="522.4" rx="1.5" ry="0.8" transform="rotate(26.3 712 522.4)"/><ellipse cx="709.1" cy="524.3" rx="1.5" ry="0.8" transform="rotate(26 709.1 524.3)"/><ellipse cx="711.2" cy="528.5" rx="1.5" ry="0.8" transform="rotate(26.3 711.2 528.5)"/><ellipse cx="708.3" cy="530.4" rx="1.5" ry="0.8" transform="rotate(26 708.3 530.4)"/><ellipse cx="710.4" cy="534.7" rx="1.5" ry="0.8" transform="rotate(26.3 710.4 534.7)"/><ellipse cx="707.5" cy="536.5" rx="1.5" ry="0.8" transform="rotate(26 707.5 536.5)"/><ellipse cx="709.6" cy="540.8" rx="1.5" ry="0.8" transform="rotate(26.3 709.6 540.8)"/><ellipse cx="715.6" cy="514.4" rx="1.5" ry="0.8" transform="rotate(26.4 715.6 514.4)"/><ellipse cx="717.7" cy="518.6" rx="1.5" ry="0.8" transform="rotate(26.6 717.7 518.6)"/><ellipse cx="714.9" cy="520.5" rx="1.5" ry="0.8" transform="rotate(26.4 714.9 520.5)"/><ellipse cx="716.9" cy="524.8" rx="1.5" ry="0.8" transform="rotate(26.6 716.9 524.8)"/><ellipse cx="714.1" cy="526.7" rx="1.5" ry="0.8" transform="rotate(26.4 714.1 526.7)"/><ellipse cx="716.2" cy="530.9" rx="1.5" ry="0.8" transform="rotate(26.6 716.2 530.9)"/><ellipse cx="713.3" cy="532.8" rx="1.5" ry="0.8" transform="rotate(26.4 713.3 532.8)"/><ellipse cx="715.4" cy="537.1" rx="1.5" ry="0.8" transform="rotate(26.6 715.4 537.1)"/><ellipse cx="712.5" cy="539" rx="1.5" ry="0.8" transform="rotate(26.4 712.5 539)"/><ellipse cx="720.5" cy="516.8" rx="1.5" ry="0.8" transform="rotate(26.8 720.5 516.8)"/><ellipse cx="722.6" cy="521.1" rx="1.5" ry="0.8" transform="rotate(26.9 722.6 521.1)"/><ellipse cx="719.8" cy="522.9" rx="1.5" ry="0.8" transform="rotate(26.8 719.8 522.9)"/><ellipse cx="721.9" cy="527.2" rx="1.5" ry="0.8" transform="rotate(26.9 721.9 527.2)"/><ellipse cx="719" cy="529.1" rx="1.5" ry="0.8" transform="rotate(26.8 719 529.1)"/><ellipse cx="721.2" cy="533.4" rx="1.5" ry="0.8" transform="rotate(26.9 721.2 533.4)"/><ellipse cx="718.3" cy="535.2" rx="1.5" ry="0.8" transform="rotate(26.8 718.3 535.2)"/><ellipse cx="720.5" cy="539.6" rx="1.5" ry="0.8" transform="rotate(26.9 720.5 539.6)"/><ellipse cx="717.6" cy="541.4" rx="1.5" ry="0.8" transform="rotate(26.8 717.6 541.4)"/><ellipse cx="725.3" cy="519.2" rx="1.5" ry="0.8" transform="rotate(27 725.3 519.2)"/><ellipse cx="727.4" cy="523.5" rx="1.5" ry="0.8" transform="rotate(27.1 727.4 523.5)"/><ellipse cx="724.7" cy="525.4" rx="1.5" ry="0.8" transform="rotate(27 724.7 525.4)"/><ellipse cx="726.8" cy="529.7" rx="1.5" ry="0.8" transform="rotate(27.1 726.8 529.7)"/><ellipse cx="724" cy="531.5" rx="1.5" ry="0.8" transform="rotate(27 724 531.5)"/><ellipse cx="726.2" cy="535.9" rx="1.5" ry="0.8" transform="rotate(27.1 726.2 535.9)"/><ellipse cx="723.4" cy="537.7" rx="1.5" ry="0.8" transform="rotate(27 723.4 537.7)"/><ellipse cx="725.6" cy="542" rx="1.5" ry="0.8" transform="rotate(27.1 725.6 542)"/><ellipse cx="730.2" cy="521.7" rx="1.5" ry="0.8" transform="rotate(27.1 730.2 521.7)"/><ellipse cx="732.3" cy="526" rx="1.5" ry="0.8" transform="rotate(27.2 732.3 526)"/><ellipse cx="729.6" cy="527.9" rx="1.5" ry="0.8" transform="rotate(27.1 729.6 527.9)"/><ellipse cx="731.8" cy="532.2" rx="1.5" ry="0.8" transform="rotate(27.2 731.8 532.2)"/><ellipse cx="729" cy="534" rx="1.5" ry="0.8" transform="rotate(27.1 729 534)"/><ellipse cx="731.3" cy="538.4" rx="1.5" ry="0.8" transform="rotate(27.2 731.3 538.4)"/><ellipse cx="728.5" cy="540.2" rx="1.5" ry="0.8" transform="rotate(27.1 728.5 540.2)"/><ellipse cx="735" cy="524.1" rx="1.5" ry="0.8" transform="rotate(27.2 735 524.1)"/><ellipse cx="737.2" cy="528.5" rx="1.5" ry="0.8" transform="rotate(27.3 737.2 528.5)"/><ellipse cx="734.5" cy="530.3" rx="1.5" ry="0.8" transform="rotate(27.2 734.5 530.3)"/><ellipse cx="736.8" cy="534.7" rx="1.5" ry="0.8" transform="rotate(27.3 736.8 534.7)"/><ellipse cx="734.1" cy="536.5" rx="1.5" ry="0.8" transform="rotate(27.2 734.1 536.5)"/><ellipse cx="736.4" cy="540.9" rx="1.5" ry="0.8" transform="rotate(27.3 736.4 540.9)"/><ellipse cx="733.6" cy="542.7" rx="1.5" ry="0.8" transform="rotate(27.2 733.6 542.7)"/><ellipse cx="739.8" cy="526.6" rx="1.5" ry="0.8" transform="rotate(27.3 739.8 526.6)"/><ellipse cx="742.1" cy="531" rx="1.5" ry="0.8" transform="rotate(27.3 742.1 531)"/><ellipse cx="739.5" cy="532.8" rx="1.5" ry="0.8" transform="rotate(27.3 739.5 532.8)"/><ellipse cx="741.8" cy="537.2" rx="1.5" ry="0.8" transform="rotate(27.3 741.8 537.2)"/><ellipse cx="739.1" cy="539" rx="1.5" ry="0.8" transform="rotate(27.3 739.1 539)"/><ellipse cx="741.5" cy="543.4" rx="1.5" ry="0.8" transform="rotate(27.3 741.5 543.4)"/><ellipse cx="744.7" cy="529.1" rx="1.5" ry="0.8" transform="rotate(27.2 744.7 529.1)"/><ellipse cx="747" cy="533.4" rx="1.5" ry="0.8" transform="rotate(27.1 747 533.4)"/><ellipse cx="744.5" cy="535.3" rx="1.5" ry="0.8" transform="rotate(27.2 744.5 535.3)"/><ellipse cx="746.9" cy="539.6" rx="1.5" ry="0.8" transform="rotate(27.1 746.9 539.6)"/><ellipse cx="744.3" cy="541.5" rx="1.5" ry="0.8" transform="rotate(27.2 744.3 541.5)"/><ellipse cx="749.5" cy="531.6" rx="1.5" ry="0.8" transform="rotate(26.8 749.5 531.6)"/><ellipse cx="749.5" cy="537.8" rx="1.5" ry="0.8" transform="rotate(26.8 749.5 537.8)"/><ellipse cx="749.5" cy="544" rx="1.5" ry="0.8" transform="rotate(26.8 749.5 544)"/></g>
<path d="M570,517C576.7,519.2 596.7,527.2 610,530.5C623.3,533.8 636.7,534.9 650,537C663.3,539.1 673.3,541 690,543C706.7,545 740,548 750,549" stroke="#4a4d52" stroke-width="4.5" fill="none" opacity="0.55" filter="url(#b15)" mask="url(#dkmask)"/>
<path d="M407.5,422C411.2,425 422.9,434.3 430,440C437.1,445.7 440,449.3 450,456C460,462.7 476.7,473 490,480C503.3,487 516.7,492.3 530,498C543.3,503.7 556.7,509.1 570,514C583.3,518.9 596.7,524.2 610,527.5C623.3,530.8 636.7,531.9 650,534C663.3,536.1 673.3,538 690,540C706.7,542 740,545 750,546" stroke="#ffffff" stroke-width="1.6" fill="none" opacity="0.9"/>
</g>
<g id="sheet">
<g clip-path="url(#faceclip)">
<path d="M445.5,148L445.8,150.8L446.1,153.7L446.5,156.5L446.8,159.4L447.2,162.2L447.5,165.1L447.9,167.9L448.3,170.8L448.7,173.6L449.1,176.4L449.5,179.3L449.9,182.1L450.3,185L450.7,187.8L451.1,190.7L451.5,193.5L451.9,196.3L452.3,199.2L452.8,202L453.2,204.9L453.6,207.7L454,210.6L454.5,213.4L455,216.3L455.5,219.1L456,221.9L456.5,224.8L457.1,227.6L457.7,230.5L458.3,233.3L458.9,236.2L459.6,239L460.3,241.9L461,244.7L461.7,247.5L462.5,250.4L463.2,253.2L464,256.1L464.8,258.9L465.6,261.8L466.5,264.6L467.4,267.4L468.3,270.3L469.2,273.1L470.1,276L471.1,278.8L472.1,281.7L473.1,284.5L474.1,287.4L475.2,290.2L476.2,293L477.3,295.9L478.4,298.7L479.6,301.6L480.7,304.4L481.9,307.3L483.1,310.1L484.3,313L485.6,315.8L486.9,318.6L488.3,321.5L489.6,324.3L491.1,327.2L492.6,330L494.1,332.9L495.7,335.7L497.3,338.6L499,341.4L500.8,344.2L502.6,347.1L504.4,349.9L506.3,352.8L508.2,355.6L510.2,358.5L512.2,361.3L514.2,364.1L516.3,367L518.3,369.8L520.5,372.7L522.6,375.5L524.8,378.4L527.1,381.2L529.3,384.1L531.7,386.9L534.1,389.7L536.5,392.6L539,395.4L541.6,398.3L544.2,401.1L547,404L549.8,406.8L552.8,409.7L555.9,412.5L559.1,415.3L562.5,418.2L566,421L569.5,423.9L573.2,426.7L577,429.6L581,432.4L585.1,435.2L589.5,438.1L594.1,440.9L598.9,443.8L603.9,446.6L609,449.5L614.5,452.3L620.9,455.2L628,458L629,458L627.1,455.2L625.2,452.3L623.2,449.5L621.3,446.6L619.4,443.8L617.5,440.9L615.6,438.1L613.7,435.2L611.8,432.4L610,429.6L608.2,426.7L606.5,423.9L604.8,421L603.2,418.2L601.7,415.3L600.2,412.5L598.8,409.7L597.4,406.8L596.1,404L594.8,401.1L593.6,398.3L592.3,395.4L591.1,392.6L590,389.7L588.8,386.9L587.6,384.1L586.5,381.2L585.4,378.4L584.2,375.5L583.1,372.7L581.9,369.8L580.8,367L579.6,364.1L578.5,361.3L577.4,358.5L576.3,355.6L575.2,352.8L574.1,349.9L573,347.1L572,344.2L570.9,341.4L569.9,338.6L568.9,335.7L568,332.9L567,330L566.1,327.2L565.1,324.3L564.2,321.5L563.4,318.6L562.5,315.8L561.6,313L560.8,310.1L560,307.3L559.2,304.4L558.4,301.6L557.6,298.7L556.9,295.9L556.2,293L555.5,290.2L554.9,287.4L554.3,284.5L553.7,281.7L553.1,278.8L552.6,276L552,273.1L551.5,270.3L551,267.4L550.6,264.6L550.1,261.8L549.7,258.9L549.3,256.1L548.9,253.2L548.6,250.4L548.2,247.5L547.8,244.7L547.5,241.9L547.2,239L546.9,236.2L546.6,233.3L546.4,230.5L546.1,227.6L545.9,224.8L545.7,221.9L545.5,219.1L545.3,216.3L545.1,213.4L544.9,210.6L544.8,207.7L544.6,204.9L544.5,202L544.4,199.2L544.3,196.3L544.3,193.5L544.2,190.7L544.1,187.8L544.1,185L544,182.1L543.9,179.3L543.9,176.4L543.9,173.6L543.8,170.8L543.8,167.9L543.7,165.1L543.7,162.2L543.7,159.4L543.6,156.5L543.6,153.7L543.5,150.8L543.5,148Z" fill="url(#faceg)"/>
<path d="M445.5,148L445.8,150.8L446.1,153.7L446.5,156.5L446.8,159.4L447.2,162.2L447.5,165.1L447.9,167.9L448.3,170.8L448.7,173.6L449.1,176.4L449.5,179.3L449.9,182.1L450.3,185L450.7,187.8L451.1,190.7L451.5,193.5L451.9,196.3L452.3,199.2L452.8,202L453.2,204.9L453.6,207.7L454,210.6L454.5,213.4L455,216.3L455.5,219.1L456,221.9L456.5,224.8L457.1,227.6L457.7,230.5L458.3,233.3L458.9,236.2L459.6,239L460.3,241.9L461,244.7L461.7,247.5L462.5,250.4L463.2,253.2L464,256.1L464.8,258.9L465.6,261.8L466.5,264.6L467.4,267.4L468.3,270.3L469.2,273.1L470.1,276L471.1,278.8L472.1,281.7L473.1,284.5L474.1,287.4L475.2,290.2L476.2,293L477.3,295.9L478.4,298.7L479.6,301.6L480.7,304.4L481.9,307.3L483.1,310.1L484.3,313L485.6,315.8L486.9,318.6L488.3,321.5L489.6,324.3L491.1,327.2L492.6,330L494.1,332.9L495.7,335.7L497.3,338.6L499,341.4L500.8,344.2L502.6,347.1L504.4,349.9L506.3,352.8L508.2,355.6L510.2,358.5L512.2,361.3L514.2,364.1L516.3,367L518.3,369.8L520.5,372.7L522.6,375.5L524.8,378.4L527.1,381.2L529.3,384.1L531.7,386.9L534.1,389.7L536.5,392.6L539,395.4L541.6,398.3L544.2,401.1L547,404L549.8,406.8L552.8,409.7L555.9,412.5L559.1,415.3L562.5,418.2L566,421L569.5,423.9L573.2,426.7L577,429.6L581,432.4L585.1,435.2L589.5,438.1L594.1,440.9L598.9,443.8L603.9,446.6L609,449.5L614.5,452.3L620.9,455.2L628,458L629,458L627.1,455.2L625.2,452.3L623.2,449.5L621.3,446.6L619.4,443.8L617.5,440.9L615.6,438.1L613.7,435.2L611.8,432.4L610,429.6L608.2,426.7L606.5,423.9L604.8,421L603.2,418.2L601.7,415.3L600.2,412.5L598.8,409.7L597.4,406.8L596.1,404L594.8,401.1L593.6,398.3L592.3,395.4L591.1,392.6L590,389.7L588.8,386.9L587.6,384.1L586.5,381.2L585.4,378.4L584.2,375.5L583.1,372.7L581.9,369.8L580.8,367L579.6,364.1L578.5,361.3L577.4,358.5L576.3,355.6L575.2,352.8L574.1,349.9L573,347.1L572,344.2L570.9,341.4L569.9,338.6L568.9,335.7L568,332.9L567,330L566.1,327.2L565.1,324.3L564.2,321.5L563.4,318.6L562.5,315.8L561.6,313L560.8,310.1L560,307.3L559.2,304.4L558.4,301.6L557.6,298.7L556.9,295.9L556.2,293L555.5,290.2L554.9,287.4L554.3,284.5L553.7,281.7L553.1,278.8L552.6,276L552,273.1L551.5,270.3L551,267.4L550.6,264.6L550.1,261.8L549.7,258.9L549.3,256.1L548.9,253.2L548.6,250.4L548.2,247.5L547.8,244.7L547.5,241.9L547.2,239L546.9,236.2L546.6,233.3L546.4,230.5L546.1,227.6L545.9,224.8L545.7,221.9L545.5,219.1L545.3,216.3L545.1,213.4L544.9,210.6L544.8,207.7L544.6,204.9L544.5,202L544.4,199.2L544.3,196.3L544.3,193.5L544.2,190.7L544.1,187.8L544.1,185L544,182.1L543.9,179.3L543.9,176.4L543.9,173.6L543.8,170.8L543.8,167.9L543.7,165.1L543.7,162.2L543.7,159.4L543.6,156.5L543.6,153.7L543.5,150.8L543.5,148Z" fill="url(#facew)"/>
<path d="M445.5,148L445.8,150.8L446.1,153.7L446.5,156.5L446.8,159.4L447.2,162.2L447.5,165.1L447.9,167.9L448.3,170.8L448.7,173.6L449.1,176.4L449.5,179.3L449.9,182.1L450.3,185L450.7,187.8L451.1,190.7L451.5,193.5L451.9,196.3L452.3,199.2L452.8,202L453.2,204.9L453.6,207.7L454,210.6L454.5,213.4L455,216.3L455.5,219.1L456,221.9L456.5,224.8L457.1,227.6L457.7,230.5L458.3,233.3L458.9,236.2L459.6,239L460.3,241.9L461,244.7L461.7,247.5L462.5,250.4L463.2,253.2L464,256.1L464.8,258.9L465.6,261.8L466.5,264.6L467.4,267.4L468.3,270.3L469.2,273.1L470.1,276L471.1,278.8L472.1,281.7L473.1,284.5L474.1,287.4L475.2,290.2L476.2,293L477.3,295.9L478.4,298.7L479.6,301.6L480.7,304.4L481.9,307.3L483.1,310.1L484.3,313L485.6,315.8L486.9,318.6L488.3,321.5L489.6,324.3L491.1,327.2L492.6,330L494.1,332.9L495.7,335.7L497.3,338.6L499,341.4L500.8,344.2L502.6,347.1L504.4,349.9L506.3,352.8L508.2,355.6L510.2,358.5L512.2,361.3L514.2,364.1L516.3,367L518.3,369.8L520.5,372.7L522.6,375.5L524.8,378.4L527.1,381.2L529.3,384.1L531.7,386.9L534.1,389.7L536.5,392.6L539,395.4L541.6,398.3L544.2,401.1L547,404L549.8,406.8L552.8,409.7L555.9,412.5L559.1,415.3L562.5,418.2L566,421L569.5,423.9L573.2,426.7L577,429.6L581,432.4L585.1,435.2L589.5,438.1L594.1,440.9L598.9,443.8L603.9,446.6L609,449.5L614.5,452.3L620.9,455.2L628,458L628.2,458L622.1,455.2L616.5,452.3L611.7,449.5L607.2,446.6L602.8,443.8L598.6,440.9L594.5,438.1L590.5,435.2L586.8,432.4L583.3,429.6L579.9,426.7L576.6,423.9L573.3,421L570.2,418.2L567.2,415.3L564.3,412.5L561.5,409.7L558.9,406.8L556.3,404L553.8,401.1L551.4,398.3L549.1,395.4L546.9,392.6L544.7,389.7L542.5,386.9L540.4,384.1L538.4,381.2L536.3,378.4L534.3,375.5L532.4,372.7L530.4,369.8L528.5,367L526.6,364.1L524.8,361.3L522.9,358.5L521.1,355.6L519.4,352.8L517.6,349.9L515.9,347.1L514.3,344.2L512.7,341.4L511.1,338.6L509.6,335.7L508.1,332.9L506.7,330L505.3,327.2L504,324.3L502.7,321.5L501.4,318.6L500.2,315.8L499,313L497.9,310.1L496.7,307.3L495.6,304.4L494.5,301.6L493.5,298.7L492.4,295.9L491.4,293L490.4,290.2L489.5,287.4L488.5,284.5L487.6,281.7L486.7,278.8L485.8,276L484.9,273.1L484.1,270.3L483.3,267.4L482.5,264.6L481.7,261.8L480.9,258.9L480.2,256.1L479.5,253.2L478.8,250.4L478.1,247.5L477.5,244.7L476.9,241.9L476.3,239L475.7,236.2L475.1,233.3L474.5,230.5L474,227.6L473.5,224.8L473,221.9L472.6,219.1L472.1,216.3L471.7,213.4L471.3,210.6L470.9,207.7L470.6,204.9L470.2,202L469.8,199.2L469.5,196.3L469.1,193.5L468.8,190.7L468.5,187.8L468.1,185L467.8,182.1L467.4,179.3L467.1,176.4L466.7,173.6L466.4,170.8L466.1,167.9L465.8,165.1L465.5,162.2L465.2,159.4L464.9,156.5L464.6,153.7L464.4,150.8L464.1,148Z" fill="url(#leftg)"/>
<path d="M465.6,148L465.8,150.8L466.1,153.7L466.4,156.5L466.7,159.4L467,162.2L467.3,165.1L467.5,167.9L467.8,170.8L468.1,173.6L468.4,176.4L468.8,179.3L469.1,182.1L469.4,185L469.7,187.8L470.1,190.7L470.4,193.5L470.7,196.3L471,199.2L471.4,202L471.7,204.9L472.1,207.7L472.5,210.6L472.8,213.4L473.2,216.3L473.7,219.1L474.1,221.9L474.6,224.8L475,227.6L475.5,230.5L476.1,233.3L476.6,236.2L477.2,239L477.8,241.9L478.4,244.7L479.1,247.5L479.7,250.4L480.4,253.2L481.1,256.1L481.8,258.9L482.5,261.8L483.3,264.6L484.1,267.4L484.9,270.3L485.7,273.1L486.6,276L487.5,278.8L488.4,281.7L489.3,284.5L490.3,287.4L491.2,290.2L492.2,293L493.2,295.9L494.3,298.7L495.3,301.6L496.4,304.4L497.5,307.3L498.6,310.1L499.8,313L501,315.8L502.2,318.6L503.5,321.5L504.7,324.3L506.1,327.2L507.4,330L508.9,332.9L510.3,335.7L511.8,338.6L513.4,341.4L515,344.2L516.6,347.1L518.3,349.9L520.1,352.8L521.8,355.6L523.6,358.5L525.4,361.3L527.3,364.1L529.2,367L531.1,369.8L533,372.7L534.9,375.5L536.9,378.4L538.9,381.2L541,384.1L543.1,386.9L545.2,389.7L547.4,392.6L549.7,395.4L552,398.3L554.3,401.1L556.8,404L559.3,406.8L562,409.7L564.8,412.5L567.6,415.3L570.6,418.2L573.7,421L576.9,423.9L580.2,426.7L583.6,429.6L587.1,432.4L590.8,435.2L594.7,438.1L598.8,440.9L603,443.8L607.4,446.6L611.9,449.5L616.6,452.3L622.1,455.2L628.2,458L628.3,458L622.8,455.2L617.7,452.3L613.4,449.5L609.2,446.6L605.2,443.8L601.2,440.9L597.5,438.1L593.8,435.2L590.4,432.4L587.1,429.6L583.9,426.7L580.8,423.9L577.8,421L574.9,418.2L572.1,415.3L569.4,412.5L566.8,409.7L564.3,406.8L561.9,404L559.6,401.1L557.4,398.3L555.3,395.4L553.2,392.6L551.1,389.7L549.1,386.9L547.1,384.1L545.2,381.2L543.3,378.4L541.4,375.5L539.6,372.7L537.7,369.8L535.9,367L534.2,364.1L532.4,361.3L530.7,358.5L529,355.6L527.3,352.8L525.7,349.9L524,347.1L522.5,344.2L521,341.4L519.5,338.6L518,335.7L516.6,332.9L515.3,330L514,327.2L512.7,324.3L511.4,321.5L510.2,318.6L509.1,315.8L507.9,313L506.8,310.1L505.7,307.3L504.6,304.4L503.6,301.6L502.6,298.7L501.6,295.9L500.6,293L499.7,290.2L498.8,287.4L497.9,284.5L497,281.7L496.1,278.8L495.3,276L494.4,273.1L493.7,270.3L492.9,267.4L492.1,264.6L491.4,261.8L490.7,258.9L490,256.1L489.2,253.2L488.5,250.4L487.9,247.5L487.2,244.7L486.6,241.9L485.9,239L485.3,236.2L484.7,233.3L484.2,230.5L483.6,227.6L483.1,224.8L482.6,221.9L482.1,219.1L481.7,216.3L481.2,213.4L480.8,210.6L480.4,207.7L480,204.9L479.6,202L479.2,199.2L478.9,196.3L478.5,193.5L478.1,190.7L477.8,187.8L477.4,185L477,182.1L476.7,179.3L476.3,176.4L476,173.6L475.6,170.8L475.3,167.9L475,165.1L474.7,162.2L474.4,159.4L474.2,156.5L473.9,153.7L473.6,150.8L473.4,148Z" fill="url(#st0)"/>
<path d="M483.7,148L483.9,150.8L484.1,153.7L484.4,156.5L484.6,159.4L484.8,162.2L485.1,165.1L485.3,167.9L485.6,170.8L485.9,173.6L486.2,176.4L486.4,179.3L486.7,182.1L487.1,185L487.4,187.8L487.7,190.7L488,193.5L488.3,196.3L488.6,199.2L488.9,202L489.2,204.9L489.6,207.7L489.9,210.6L490.3,213.4L490.7,216.3L491.1,219.1L491.5,221.9L491.9,224.8L492.4,227.6L492.9,230.5L493.4,233.3L493.9,236.2L494.5,239L495,241.9L495.6,244.7L496.2,247.5L496.8,250.4L497.4,253.2L498.1,256.1L498.8,258.9L499.4,261.8L500.1,264.6L500.8,267.4L501.6,270.3L502.3,273.1L503.1,276L503.9,278.8L504.7,281.7L505.6,284.5L506.4,287.4L507.3,290.2L508.2,293L509.2,295.9L510.1,298.7L511.1,301.6L512.1,304.4L513.1,307.3L514.2,310.1L515.3,313L516.4,315.8L517.5,318.6L518.7,321.5L519.8,324.3L521.1,327.2L522.3,330L523.6,332.9L525,335.7L526.4,338.6L527.8,341.4L529.2,344.2L530.7,347.1L532.3,349.9L533.8,352.8L535.4,355.6L537.1,358.5L538.7,361.3L540.4,364.1L542.1,367L543.8,369.8L545.5,372.7L547.3,375.5L549,378.4L550.8,381.2L552.7,384.1L554.5,386.9L556.4,389.7L558.3,392.6L560.3,395.4L562.4,398.3L564.5,401.1L566.6,404L568.9,406.8L571.2,409.7L573.6,412.5L576.1,415.3L578.8,418.2L581.5,421L584.3,423.9L587.2,426.7L590.2,429.6L593.3,432.4L596.5,435.2L599.9,438.1L603.5,440.9L607.1,443.8L610.9,446.6L614.7,449.5L618.8,452.3L623.4,455.2L628.4,458L628.5,458L624.1,455.2L619.9,452.3L616.3,449.5L612.8,446.6L609.4,443.8L606,440.9L602.8,438.1L599.7,435.2L596.7,432.4L593.9,429.6L591.1,426.7L588.4,423.9L585.8,421L583.2,418.2L580.8,415.3L578.5,412.5L576.2,409.7L574.1,406.8L572,404L570,401.1L568.1,398.3L566.2,395.4L564.4,392.6L562.6,389.7L560.8,386.9L559.1,384.1L557.4,381.2L555.7,378.4L554,375.5L552.4,372.7L550.8,369.8L549.2,367L547.6,364.1L546,361.3L544.4,358.5L542.9,355.6L541.4,352.8L539.9,349.9L538.5,347.1L537.1,344.2L535.7,341.4L534.4,338.6L533,335.7L531.8,332.9L530.5,330L529.3,327.2L528.2,324.3L527,321.5L525.9,318.6L524.8,315.8L523.8,313L522.7,310.1L521.7,307.3L520.7,304.4L519.8,301.6L518.8,298.7L517.9,295.9L517,293L516.2,290.2L515.3,287.4L514.5,284.5L513.7,281.7L512.9,278.8L512.2,276L511.4,273.1L510.7,270.3L510,267.4L509.4,264.6L508.7,261.8L508.1,258.9L507.4,256.1L506.7,253.2L506.1,250.4L505.4,247.5L504.8,244.7L504.2,241.9L503.6,239L503,236.2L502.5,233.3L501.9,230.5L501.4,227.6L500.9,224.8L500.5,221.9L500,219.1L499.6,216.3L499.2,213.4L498.7,210.6L498.4,207.7L498,204.9L497.6,202L497.2,199.2L496.9,196.3L496.5,193.5L496.2,190.7L495.9,187.8L495.5,185L495.2,182.1L494.8,179.3L494.5,176.4L494.2,173.6L493.9,170.8L493.5,167.9L493.2,165.1L493,162.2L492.8,159.4L492.6,156.5L492.4,153.7L492.2,150.8L492.1,148Z" fill="url(#st1)"/>
<path d="M501.4,148L501.5,150.8L501.7,153.7L501.9,156.5L502,159.4L502.2,162.2L502.4,165.1L502.6,167.9L502.8,170.8L503.1,173.6L503.3,176.4L503.6,179.3L503.9,182.1L504.1,185L504.4,187.8L504.7,190.7L504.9,193.5L505.2,196.3L505.5,199.2L505.8,202L506.1,204.9L506.4,207.7L506.7,210.6L507.1,213.4L507.4,216.3L507.8,219.1L508.2,221.9L508.6,224.8L509,227.6L509.4,230.5L509.9,233.3L510.4,236.2L510.9,239L511.4,241.9L512,244.7L512.5,247.5L513.1,250.4L513.7,253.2L514.3,256.1L514.9,258.9L515.5,261.8L516.1,264.6L516.7,267.4L517.4,270.3L518.1,273.1L518.8,276L519.5,278.8L520.2,281.7L521,284.5L521.8,287.4L522.6,290.2L523.4,293L524.3,295.9L525.2,298.7L526.1,301.6L527,304.4L528,307.3L528.9,310.1L529.9,313L531,315.8L532,318.6L533.1,321.5L534.2,324.3L535.3,327.2L536.5,330L537.7,332.9L538.9,335.7L540.2,338.6L541.4,341.4L542.8,344.2L544.1,347.1L545.5,349.9L546.9,352.8L548.4,355.6L549.8,358.5L551.3,361.3L552.8,364.1L554.3,367L555.9,369.8L557.4,372.7L559,375.5L560.5,378.4L562.1,381.2L563.7,384.1L565.4,386.9L567,389.7L568.7,392.6L570.5,395.4L572.2,398.3L574.1,401.1L575.9,404L577.9,406.8L579.9,409.7L582,412.5L584.2,415.3L586.5,418.2L588.9,421L591.3,423.9L593.9,426.7L596.5,429.6L599.2,432.4L602,435.2L604.9,438.1L607.9,440.9L611,443.8L614.2,446.6L617.4,449.5L620.8,452.3L624.6,455.2L628.6,458L628.7,458L625.3,455.2L622,452.3L619.1,449.5L616.2,446.6L613.3,443.8L610.6,440.9L607.9,438.1L605.3,435.2L602.7,432.4L600.3,429.6L597.9,426.7L595.6,423.9L593.4,421L591.2,418.2L589.1,415.3L587.1,412.5L585.2,409.7L583.4,406.8L581.6,404L579.9,401.1L578.2,398.3L576.6,395.4L575,392.6L573.5,389.7L571.9,386.9L570.4,384.1L569,381.2L567.5,378.4L566.1,375.5L564.6,372.7L563.2,369.8L561.7,367L560.3,364.1L558.9,361.3L557.6,358.5L556.2,355.6L554.8,352.8L553.5,349.9L552.2,347.1L551,344.2L549.7,341.4L548.5,338.6L547.3,335.7L546.2,332.9L545,330L543.9,327.2L542.9,324.3L541.8,321.5L540.8,318.6L539.8,315.8L538.8,313L537.9,310.1L536.9,307.3L536,304.4L535.1,301.6L534.3,298.7L533.4,295.9L532.6,293L531.8,290.2L531.1,287.4L530.3,284.5L529.6,281.7L528.9,278.8L528.2,276L527.6,273.1L527,270.3L526.4,267.4L525.8,264.6L525.2,261.8L524.6,258.9L524,256.1L523.3,253.2L522.7,250.4L522.1,247.5L521.5,244.7L521,241.9L520.4,239L519.9,236.2L519.3,233.3L518.8,230.5L518.3,227.6L517.9,224.8L517.4,221.9L517,219.1L516.6,216.3L516.2,213.4L515.8,210.6L515.4,207.7L515,204.9L514.7,202L514.3,199.2L514,196.3L513.7,193.5L513.3,190.7L513,187.8L512.7,185L512.4,182.1L512.1,179.3L511.7,176.4L511.4,173.6L511.1,170.8L510.8,167.9L510.6,165.1L510.4,162.2L510.3,159.4L510.1,156.5L510,153.7L509.8,150.8L509.7,148Z" fill="url(#st2)"/>
<path d="M520,148L520.1,150.8L520.2,153.7L520.3,156.5L520.4,159.4L520.5,162.2L520.6,165.1L520.9,167.9L521.1,170.8L521.3,173.6L521.5,176.4L521.7,179.3L521.9,182.1L522.1,185L522.4,187.8L522.6,190.7L522.8,193.5L523.1,196.3L523.3,199.2L523.6,202L523.8,204.9L524.1,207.7L524.4,210.6L524.7,213.4L525.1,216.3L525.4,219.1L525.8,221.9L526.1,224.8L526.5,227.6L526.9,230.5L527.3,233.3L527.8,236.2L528.2,239L528.7,241.9L529.2,244.7L529.7,247.5L530.2,250.4L530.7,253.2L531.3,256.1L531.9,258.9L532.4,261.8L532.9,264.6L533.5,267.4L534,270.3L534.6,273.1L535.2,276L535.9,278.8L536.5,281.7L537.2,284.5L537.9,287.4L538.7,290.2L539.4,293L540.2,295.9L541,298.7L541.8,301.6L542.7,304.4L543.6,307.3L544.5,310.1L545.4,313L546.3,315.8L547.3,318.6L548.3,321.5L549.3,324.3L550.3,327.2L551.4,330L552.4,332.9L553.5,335.7L554.7,338.6L555.8,341.4L557,344.2L558.2,347.1L559.4,349.9L560.7,352.8L562,355.6L563.3,358.5L564.6,361.3L565.9,364.1L567.2,367L568.6,369.8L569.9,372.7L571.3,375.5L572.6,378.4L574,381.2L575.4,384.1L576.8,386.9L578.2,389.7L579.7,392.6L581.1,395.4L582.6,398.3L584.2,401.1L585.8,404L587.4,406.8L589.1,409.7L590.9,412.5L592.7,415.3L594.6,418.2L596.7,421L598.7,423.9L600.9,426.7L603.1,429.6L605.4,432.4L607.7,435.2L610.1,438.1L612.6,440.9L615.1,443.8L617.7,446.6L620.3,449.5L622.9,452.3L625.8,455.2L628.8,458L628.9,458L626.4,455.2L624,452.3L621.6,449.5L619.3,446.6L617,443.8L614.8,440.9L612.6,438.1L610.4,435.2L608.3,432.4L606.2,429.6L604.2,426.7L602.3,423.9L600.3,421L598.5,418.2L596.8,415.3L595.1,412.5L593.5,409.7L591.9,406.8L590.4,404L589,401.1L587.6,398.3L586.2,395.4L584.8,392.6L583.5,389.7L582.2,386.9L580.9,384.1L579.7,381.2L578.4,378.4L577.1,375.5L575.9,372.7L574.6,369.8L573.4,367L572.1,364.1L570.9,361.3L569.6,358.5L568.4,355.6L567.2,352.8L566.1,349.9L564.9,347.1L563.8,344.2L562.7,341.4L561.6,338.6L560.5,335.7L559.5,332.9L558.4,330L557.4,327.2L556.5,324.3L555.5,321.5L554.6,318.6L553.6,315.8L552.7,313L551.9,310.1L551,307.3L550.1,304.4L549.3,301.6L548.5,298.7L547.8,295.9L547,293L546.3,290.2L545.6,287.4L544.9,284.5L544.3,281.7L543.7,278.8L543.1,276L542.5,273.1L542,270.3L541.4,267.4L540.9,264.6L540.4,261.8L539.9,258.9L539.4,256.1L538.8,253.2L538.3,250.4L537.8,247.5L537.3,244.7L536.8,241.9L536.4,239L535.9,236.2L535.5,233.3L535.1,230.5L534.7,227.6L534.3,224.8L533.9,221.9L533.6,219.1L533.2,216.3L532.9,213.4L532.6,210.6L532.3,207.7L532,204.9L531.7,202L531.5,199.2L531.2,196.3L531,193.5L530.8,190.7L530.5,187.8L530.3,185L530.1,182.1L529.9,179.3L529.7,176.4L529.4,173.6L529.2,170.8L529,167.9L528.8,165.1L528.7,162.2L528.7,159.4L528.6,156.5L528.5,153.7L528.4,150.8L528.3,148Z" fill="url(#st3)"/>
<g fill="#9db3cf" opacity="0.8"><ellipse cx="478" cy="232.3" rx="2.1" ry="1.3" transform="rotate(50 478 232.3)"/><ellipse cx="480.8" cy="245.4" rx="1.9" ry="1.2" transform="rotate(50 480.8 245.4)"/><ellipse cx="487" cy="257.5" rx="2" ry="1.2" transform="rotate(50 487 257.5)"/><ellipse cx="488.1" cy="267" rx="2.9" ry="1.8" transform="rotate(50 488.1 267)"/><ellipse cx="490" cy="278.6" rx="1.9" ry="1.2" transform="rotate(50 490 278.6)"/><ellipse cx="492.2" cy="287.2" rx="2.3" ry="1.4" transform="rotate(50 492.2 287.2)"/><ellipse cx="496.6" cy="300.7" rx="2.4" ry="1.5" transform="rotate(50 496.6 300.7)"/><ellipse cx="500.8" cy="308.2" rx="2.9" ry="1.8" transform="rotate(50 500.8 308.2)"/><ellipse cx="508.2" cy="322.9" rx="2.2" ry="1.3" transform="rotate(50 508.2 322.9)"/><ellipse cx="513.6" cy="333" rx="2.5" ry="1.5" transform="rotate(50 513.6 333)"/><ellipse cx="518.1" cy="342.6" rx="1.8" ry="1.1" transform="rotate(50 518.1 342.6)"/><ellipse cx="523" cy="351.9" rx="1.6" ry="1" transform="rotate(50 523 351.9)"/><ellipse cx="531.1" cy="365.8" rx="1.9" ry="1.2" transform="rotate(50 531.1 365.8)"/><ellipse cx="540" cy="380.3" rx="2.5" ry="1.5" transform="rotate(50 540 380.3)"/><ellipse cx="551.7" cy="394.6" rx="2.1" ry="1.3" transform="rotate(50 551.7 394.6)"/><ellipse cx="563.3" cy="411.5" rx="1.4" ry="0.9" transform="rotate(50 563.3 411.5)"/><ellipse cx="576.3" cy="422.9" rx="1" ry="0.6" transform="rotate(50 576.3 422.9)"/><ellipse cx="588.1" cy="433" rx="1.1" ry="0.7" transform="rotate(50 588.1 433)"/><ellipse cx="508.5" cy="275.6" rx="2.9" ry="1.8" transform="rotate(50 508.5 275.6)"/><ellipse cx="512.1" cy="286.1" rx="2.5" ry="1.6" transform="rotate(50 512.1 286.1)"/><ellipse cx="512.6" cy="293.6" rx="2.3" ry="1.4" transform="rotate(50 512.6 293.6)"/><ellipse cx="516.9" cy="308.1" rx="1.8" ry="1.1" transform="rotate(50 516.9 308.1)"/><ellipse cx="523.3" cy="322" rx="2.9" ry="1.8" transform="rotate(50 523.3 322)"/><ellipse cx="530.5" cy="337.7" rx="2.9" ry="1.8" transform="rotate(50 530.5 337.7)"/><ellipse cx="538.1" cy="352.9" rx="2.3" ry="1.4" transform="rotate(50 538.1 352.9)"/><ellipse cx="540.2" cy="360.8" rx="1.9" ry="1.2" transform="rotate(50 540.2 360.8)"/><ellipse cx="545.1" cy="368.3" rx="1.7" ry="1.1" transform="rotate(50 545.1 368.3)"/><ellipse cx="549.8" cy="375.7" rx="2.3" ry="1.4" transform="rotate(50 549.8 375.7)"/><ellipse cx="559.2" cy="388.3" rx="1.5" ry="0.9" transform="rotate(50 559.2 388.3)"/><ellipse cx="564.8" cy="399.4" rx="1.3" ry="0.8" transform="rotate(50 564.8 399.4)"/><ellipse cx="572.7" cy="409.4" rx="1.3" ry="0.8" transform="rotate(50 572.7 409.4)"/><ellipse cx="583.7" cy="422.7" rx="1.4" ry="0.9" transform="rotate(50 583.7 422.7)"/><ellipse cx="604.6" cy="441.9" rx="1" ry="0.6" transform="rotate(50 604.6 441.9)"/><ellipse cx="548.8" cy="351.6" rx="2.6" ry="1.6" transform="rotate(50 548.8 351.6)"/><ellipse cx="556.3" cy="361.4" rx="2.9" ry="1.8" transform="rotate(50 556.3 361.4)"/><ellipse cx="562" cy="377.5" rx="1.8" ry="1.1" transform="rotate(50 562 377.5)"/><ellipse cx="567.7" cy="384.4" rx="1.9" ry="1.1" transform="rotate(50 567.7 384.4)"/><ellipse cx="580.1" cy="404.3" rx="2.4" ry="1.5" transform="rotate(50 580.1 404.3)"/><ellipse cx="583.8" cy="414.1" rx="1.3" ry="0.8" transform="rotate(50 583.8 414.1)"/><ellipse cx="596.2" cy="429.1" rx="1.6" ry="1" transform="rotate(50 596.2 429.1)"/></g>
<g fill="#0c0e12"><ellipse cx="478.4" cy="228" rx="1.8" ry="1.3" transform="rotate(35 478.4 228)"/><ellipse cx="480.9" cy="241.4" rx="1.7" ry="1.3" transform="rotate(35 480.9 241.4)"/><ellipse cx="482.5" cy="253.6" rx="1.8" ry="1.3" transform="rotate(35 482.5 253.6)"/><ellipse cx="485.5" cy="262.1" rx="2.5" ry="1.9" transform="rotate(35 485.5 262.1)"/><ellipse cx="492.6" cy="273.9" rx="1.7" ry="1.2" transform="rotate(35 492.6 273.9)"/><ellipse cx="490.7" cy="282.6" rx="2.1" ry="1.5" transform="rotate(35 490.7 282.6)"/><ellipse cx="498.1" cy="296.6" rx="2.1" ry="1.6" transform="rotate(35 498.1 296.6)"/><ellipse cx="498" cy="304.3" rx="2.5" ry="1.9" transform="rotate(35 498 304.3)"/><ellipse cx="504.8" cy="318.3" rx="1.9" ry="1.4" transform="rotate(35 504.8 318.3)"/><ellipse cx="510.4" cy="328.3" rx="2.2" ry="1.6" transform="rotate(35 510.4 328.3)"/><ellipse cx="517.9" cy="338.7" rx="1.6" ry="1.2" transform="rotate(35 517.9 338.7)"/><ellipse cx="520.3" cy="347.5" rx="1.4" ry="1" transform="rotate(35 520.3 347.5)"/><ellipse cx="530.5" cy="361.4" rx="1.7" ry="1.2" transform="rotate(35 530.5 361.4)"/><ellipse cx="536.1" cy="375.4" rx="2.2" ry="1.6" transform="rotate(35 536.1 375.4)"/><ellipse cx="546.6" cy="390.3" rx="1.8" ry="1.4" transform="rotate(35 546.6 390.3)"/><ellipse cx="561.2" cy="407.2" rx="1.3" ry="0.9" transform="rotate(35 561.2 407.2)"/><ellipse cx="571.9" cy="419.7" rx="0.9" ry="0.6" transform="rotate(35 571.9 419.7)"/><ellipse cx="581.5" cy="428.3" rx="0.9" ry="0.7" transform="rotate(35 581.5 428.3)"/><ellipse cx="506.4" cy="271" rx="2.5" ry="1.9" transform="rotate(35 506.4 271)"/><ellipse cx="508" cy="281.3" rx="2.3" ry="1.7" transform="rotate(35 508 281.3)"/><ellipse cx="509.2" cy="290.2" rx="2" ry="1.5" transform="rotate(35 509.2 290.2)"/><ellipse cx="514.2" cy="304.2" rx="1.6" ry="1.2" transform="rotate(35 514.2 304.2)"/><ellipse cx="522.9" cy="318" rx="2.5" ry="1.9" transform="rotate(35 522.9 318)"/><ellipse cx="525.5" cy="333.1" rx="2.5" ry="1.9" transform="rotate(35 525.5 333.1)"/><ellipse cx="534.1" cy="349.7" rx="2" ry="1.5" transform="rotate(35 534.1 349.7)"/><ellipse cx="537.2" cy="357.5" rx="1.7" ry="1.2" transform="rotate(35 537.2 357.5)"/><ellipse cx="541.8" cy="365.1" rx="1.5" ry="1.1" transform="rotate(35 541.8 365.1)"/><ellipse cx="548.9" cy="372.4" rx="2.1" ry="1.5" transform="rotate(35 548.9 372.4)"/><ellipse cx="553.6" cy="383.6" rx="1.4" ry="1" transform="rotate(35 553.6 383.6)"/><ellipse cx="563.2" cy="396.2" rx="1.2" ry="0.9" transform="rotate(35 563.2 396.2)"/><ellipse cx="570.4" cy="406.3" rx="1.2" ry="0.9" transform="rotate(35 570.4 406.3)"/><ellipse cx="580.1" cy="419.7" rx="1.3" ry="0.9" transform="rotate(35 580.1 419.7)"/><ellipse cx="602" cy="438.4" rx="0.9" ry="0.7" transform="rotate(35 602 438.4)"/><ellipse cx="548.2" cy="347" rx="2.3" ry="1.7" transform="rotate(35 548.2 347)"/><ellipse cx="553.7" cy="356.7" rx="2.5" ry="1.9" transform="rotate(35 553.7 356.7)"/><ellipse cx="562" cy="373.5" rx="1.6" ry="1.2" transform="rotate(35 562 373.5)"/><ellipse cx="562" cy="380.8" rx="1.6" ry="1.2" transform="rotate(35 562 380.8)"/><ellipse cx="575" cy="399.3" rx="2.1" ry="1.6" transform="rotate(35 575 399.3)"/><ellipse cx="581.7" cy="410.7" rx="1.2" ry="0.9" transform="rotate(35 581.7 410.7)"/><ellipse cx="594.5" cy="425.2" rx="1.4" ry="1.1" transform="rotate(35 594.5 425.2)"/></g>
</g>
<path d="M445.3,148.2C449,148.8 453,149.6 457.4,150.9C466,152.8 474,155.2 481.7,158L509.7,170.8L539.5,185.8C544,188 548,190.3 550.7,192.3C554,195 555.5,197.5 554.3,200C552.5,203.5 549,205.5 546.5,205.3C543,205 539,202.5 537,199.5L535.8,191.2L520,184L502.2,175.6L483.9,167.2L465.8,158.8L445.3,150.2Z" fill="#f4f8fc"/>
<path d="M445.3,150.2L465.8,158.8L483.9,167.2L502.2,175.6L520,184L535.8,191.2" stroke="#cfd7e1" stroke-width="0.8" fill="none"/>
<path d="M537,199.5C540,203 544,205.5 547,205.3" stroke="#aebbca" stroke-width="1" fill="none"/>
<path d="M670,460L676,464L750,470L750,503L720,492L700,482L678,468Z" fill="#f6f8fa"/>
<path d="M682,468.5C700,478 715,486 730,492" stroke="#2a313b" stroke-width="1.4" fill="none"/>
<path d="M544.7,206C545.3,213.3 546.7,236 548.5,250C550.3,264 552.4,276.7 555.5,290C558.6,303.3 562.6,316.7 567,330C571.4,343.3 576.2,355.7 582,370C587.8,384.3 594.2,401.3 602,416C609.8,430.7 624.5,451 629,458L628,458C630.3,460.7 637,469 642,474C647,479 651.7,483.2 658,488C664.3,492.8 671.3,497.7 680,503C688.7,508.3 698.3,514.5 710,520C721.7,525.5 743.3,533.3 750,536L750,512C745,510.7 728.3,506.7 720,504C711.7,501.3 707.3,499.3 700,496C692.7,492.7 683.3,489 676,484C668.7,479 661.5,471 656,466C650.5,461 648,460 643,454C638,448 630.7,437.3 626,430C621.3,422.7 619,417.7 615,410C611,402.3 606.3,393.7 602,384C597.7,374.3 594.7,366 589,352C583.3,338 573.3,317 568,300C562.7,283 559.3,261.7 557,250C554.7,238.3 555.3,237.7 554,230C552.7,222.3 549.8,208.3 549,204Z" fill="url(#silv)"/>
<path d="M602,385C603.3,387.5 607.8,395.8 610,400C612.2,404.2 612.3,405 615,410C617.7,415 621.3,422.7 626,430C630.7,437.3 638,448 643,454C648,460 650.5,461 656,466C661.5,471 668.7,479 676,484C683.3,489 692.7,492.7 700,496C707.3,499.3 711.7,501.3 720,504C728.3,506.7 745,510.7 750,512L750,524C744.7,522.5 727,518 718,515C709,512 704,509.8 696,506C688,502.2 677.7,497.5 670,492C662.3,486.5 655.7,478.7 650,473C644.3,467.3 641,464.5 636,458C631,451.5 624.3,441.5 620,434C615.7,426.5 612.3,418.3 610,413C607.7,407.7 607.7,406.2 606,402C604.3,397.8 601,390.3 600,388Z" fill="url(#sub)"/>
<path d="M690,507C693.3,508.8 703.3,514.8 710,518C716.7,521.2 723.3,523.5 730,526C736.7,528.5 746.7,531.8 750,533" stroke="#7d8da3" stroke-width="1.5" fill="none" opacity="0.8"/>
<path d="M549,204C549.8,208.3 552.7,222.3 554,230C555.3,237.7 554.7,238.3 557,250C559.3,261.7 562.7,283 568,300C573.3,317 583.3,338 589,352C594.7,366 597.7,374.3 602,384C606.3,393.7 611,402.3 615,410C619,417.7 621.3,422.7 626,430C630.7,437.3 638,448 643,454C648,460 650.5,461 656,466C661.5,471 668.7,479 676,484C683.3,489 692.7,492.7 700,496C707.3,499.3 711.7,501.3 720,504C728.3,506.7 745,510.7 750,512L750,500C745,498.3 728.3,493.3 720,490C711.7,486.7 707,484 700,480C693,476 683.3,469.2 678,466C672.7,462.8 672.7,464.3 668,461C663.3,457.7 656.7,453.5 650,446C643.3,438.5 634.8,427.5 628,416C621.2,404.5 615.2,390.3 609,377C602.8,363.7 597,350 591,336C585,322 577.9,307.3 573,293C568.1,278.7 564.1,261.7 561.5,250C558.9,238.3 558.8,231.5 557.5,223C556.2,214.5 554.6,203 554,199Z" fill="url(#drk)"/>
<path d="M554,199C554.6,203 556.2,214.5 557.5,223C558.8,231.5 558.9,238.3 561.5,250C564.1,261.7 568.1,278.7 573,293C577.9,307.3 585,322 591,336C597,350 602.8,363.7 609,377C615.2,390.3 621.2,404.5 628,416C634.8,427.5 646.3,441 650,446" stroke="#5d6a7c" stroke-width="1.4" fill="none" opacity="0.9"/>
<path d="M551.5,215C551.8,219.2 552.4,231.7 553.5,240C554.6,248.3 555.9,256.3 558,265C560.1,273.7 562.7,282.5 566,292C569.3,301.5 573.7,312 578,322C582.3,332 587.3,342.3 592,352C596.7,361.7 603.7,375.3 606,380" stroke="#eef2f7" stroke-width="1.6" fill="none" opacity="0.8"/>
</g>
<!--/ART-->
<g id="leaders" stroke="#111" stroke-width="1.3" fill="#111">
<line x1="270" y1="178.4" x2="456" y2="178.4"/><circle cx="270.3" cy="178.4" r="2.8" stroke="none"/><circle cx="456.2" cy="178.4" r="2.8" stroke="none"/>
<line x1="270" y1="385.6" x2="352" y2="385.6"/><circle cx="270.3" cy="385.6" r="2.8" stroke="none"/><circle cx="352.5" cy="385.6" r="2.8" stroke="none"/>
<line x1="270" y1="602.6" x2="353" y2="602.6"/><circle cx="270.3" cy="602.6" r="2.8" stroke="none"/><circle cx="353" cy="602.6" r="2.8" stroke="none"/>
</g>
</svg>
<div class="title" style="left:160.6px">Anti</div><div style="position:absolute;left:290.5px;top:50.6px;width:32.3px;height:6.4px;background:#0b0b0c"></div><div class="title" style="left:323.7px">collision</div><div class="title" style="left:565px">expert</div>
<div class="box" style="top:133px;height:89px;"></div>
<div class="box" style="top:340.5px;height:88px;"></div>
<div class="box" style="top:557.5px;height:89px;"></div>
<div class="lbl" style="left:18.5px;width:300px;top:147.1px;font-size:17px;line-height:20px;letter-spacing:0.5px;transform:scaleX(1.06);">Scratch</div>
<div class="lbl" style="left:18.5px;width:300px;top:168.4px;font-size:17px;line-height:20px;letter-spacing:0.5px;transform:scaleX(1.06);">coating</div>
<div class="lbl" style="left:18.6px;width:300px;top:190.0px;font-size:17px;line-height:20px;letter-spacing:0.5px;transform:scaleX(1.06);">Reduce partial stress</div>
<div class="lbl" style="left:21.6px;width:300px;top:366.9px;font-size:17px;line-height:20px;letter-spacing:0.5px;transform:scaleX(1.05);">Damping silicone layer</div>
<div class="lbl" style="left:21.5px;width:300px;top:388.2px;font-size:17px;line-height:20px;letter-spacing:0.5px;transform:scaleX(1.06);">Reduce partial stress</div>
<div class="lbl" style="left:22.2px;width:300px;top:584.8px;font-size:13.6px;line-height:20px;letter-spacing:0.4px;transform:scaleX(1.045);">Wave bucket structure layer</div>
<div class="lbl" style="left:21.2px;width:300px;top:601.3px;font-size:13.6px;line-height:20px;letter-spacing:0.4px;transform:scaleX(1.045);">Reduce most of the stresses</div>
</body></html>
